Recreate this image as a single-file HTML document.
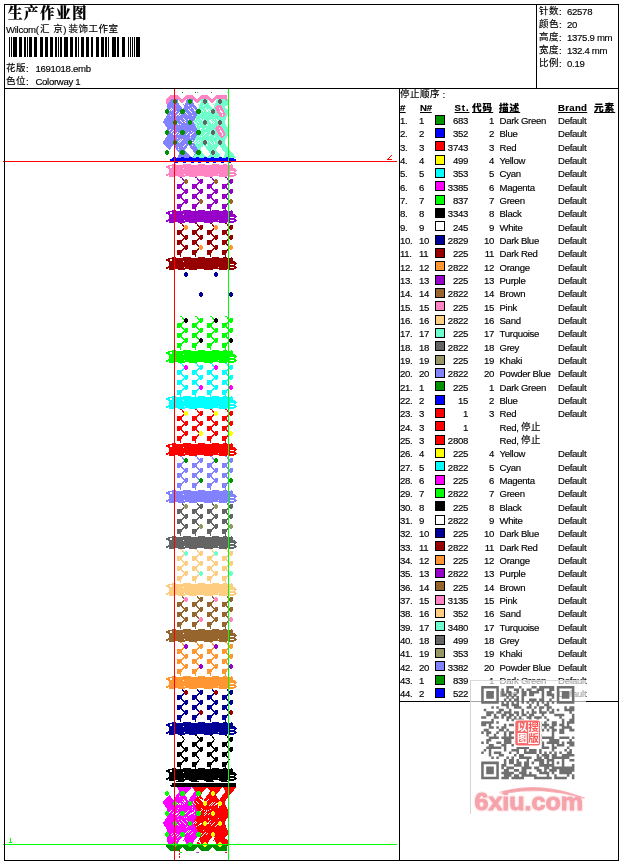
<!DOCTYPE html>
<html lang="zh"><head><meta charset="utf-8"><title>生产作业图</title>
<style>
html,body{margin:0;padding:0;background:#fff;}
body{width:620px;height:861px;position:relative;overflow:hidden;font-family:"Liberation Sans","Noto Sans CJK SC",sans-serif;color:#000;}
.abs{position:absolute;}
.t{position:absolute;white-space:nowrap;font-family:"Liberation Sans","Noto Sans CJK SC",sans-serif;letter-spacing:-0.3px;-webkit-text-stroke:0.15px #000;}
.t u{text-decoration:underline;text-underline-offset:1px;}
.cj{font-family:"Liberation Sans","Noto Sans CJK SC",sans-serif;line-height:0;font-weight:400;}
.ln{position:absolute;background:#000;}
.sw{position:absolute;left:435px;width:8px;height:8px;border:1px solid #000;}
#frame{position:absolute;left:4px;top:4px;width:613px;height:855px;border:1px solid #000;}
</style></head><body>
<svg class="abs" style="left:0;top:0" width="620" height="861" viewBox="0 0 620 861" shape-rendering="crispEdges"><polygon points="169,99 178,99 183,104 187,99 194,99 197,103 199,103 199,158 177,158 168,149 163,143 163,142 166.5,137 166.5,127 163,122.5 163,121.5 166.5,116 166.5,106" fill="#8282ff"/><polygon points="197,99 209,99 213,104 217,99 227,99 228,100 228,105 225,106 225,108 228,110 228,114 225,121 225,123 228,128 228,135 225,141 225,143 228,148 229,149 236.5,158 192.5,158 195.5,154 198.5,150.5 193.5,142.5 198.5,132 193.5,121.5 198.5,111.5 196,104" fill="#6effcd"/><polygon points="177.5,100 181,100 184.5,107.5 182.5,108.5 179,104" fill="#fff"/><polygon points="183,103 186,100 186.5,102 184.5,105" fill="#fff"/><polygon points="192.5,100 196,100 199.5,107.5 197.5,108.5 194,104" fill="#fff"/><polygon points="198,103 201,100 201.5,102 199.5,105" fill="#fff"/><polygon points="207.5,100 211,100 214.5,107.5 212.5,108.5 209,104" fill="#fff"/><polygon points="213,103 216,100 216.5,102 214.5,105" fill="#fff"/><polygon points="173,144.8 179.7,153.8 176.5,158 169.7,150" fill="#fff"/><polygon points="188.3,144.8 195,153.8 191.8,158 185,150" fill="#fff"/><polygon points="203.6,144.8 210.3,153.8 207.1,158 200.3,150" fill="#fff"/><polygon points="219,144.8 225.7,153.8 222.5,158 215.7,150" fill="#fff"/><polygon points="162,150 169.6,150 176.5,158.2 162,158.2" fill="#fff"/><rect x="168" y="111" width="1" height="1" fill="#fff"/><rect x="169" y="110" width="1" height="1" fill="#fff"/><rect x="170" y="109" width="1" height="1" fill="#fff"/><rect x="171" y="108" width="1" height="1" fill="#fff"/><rect x="171" y="110" width="1" height="1" fill="#fff"/><rect x="172" y="109" width="1" height="1" fill="#fff"/><rect x="174" y="113" width="1" height="1" fill="#fff"/><rect x="175" y="112" width="1" height="1" fill="#fff"/><rect x="176" y="111" width="1" height="1" fill="#fff"/><rect x="176" y="115" width="1" height="1" fill="#fff"/><rect x="177" y="114" width="1" height="1" fill="#fff"/><rect x="178" y="113" width="1" height="1" fill="#fff"/><rect x="179" y="112" width="1" height="1" fill="#fff"/><rect x="179" y="115" width="1" height="1" fill="#fff"/><rect x="180" y="114" width="1" height="1" fill="#fff"/><rect x="181" y="113" width="1" height="1" fill="#fff"/><rect x="179" y="112" width="1" height="1" fill="#fff"/><rect x="178" y="114" width="1" height="1" fill="#fff"/><rect x="170" y="115" width="1" height="1" fill="#fff"/><rect x="185" y="112" width="1" height="1" fill="#fff"/><rect x="186" y="113" width="1" height="1" fill="#fff"/><rect x="187" y="114" width="1" height="1" fill="#fff"/><rect x="188" y="109" width="1" height="1" fill="#fff"/><rect x="189" y="110" width="1" height="1" fill="#fff"/><rect x="190" y="111" width="1" height="1" fill="#fff"/><rect x="191" y="112" width="1" height="1" fill="#fff"/><rect x="192" y="107" width="1" height="1" fill="#fff"/><rect x="193" y="108" width="1" height="1" fill="#fff"/><rect x="194" y="109" width="1" height="1" fill="#fff"/><rect x="195" y="110" width="1" height="1" fill="#fff"/><rect x="196" y="106" width="1" height="1" fill="#fff"/><rect x="188" y="105" width="1" height="1" fill="#fff"/><rect x="190" y="108" width="1" height="1" fill="#fff"/><rect x="192" y="115" width="1" height="1" fill="#fff"/><rect x="194" y="110" width="1" height="1" fill="#fff"/><rect x="198" y="111" width="1" height="1" fill="#fff"/><rect x="199" y="112" width="1" height="1" fill="#fff"/><rect x="200" y="113" width="1" height="1" fill="#fff"/><rect x="202" y="110" width="1" height="1" fill="#fff"/><rect x="203" y="111" width="1" height="1" fill="#fff"/><rect x="205" y="108" width="1" height="1" fill="#fff"/><rect x="206" y="109" width="1" height="1" fill="#fff"/><rect x="207" y="110" width="1" height="1" fill="#fff"/><rect x="206" y="110" width="1" height="1" fill="#fff"/><rect x="207" y="111" width="1" height="1" fill="#fff"/><rect x="208" y="109" width="1" height="1" fill="#fff"/><rect x="209" y="110" width="1" height="1" fill="#fff"/><rect x="210" y="111" width="1" height="1" fill="#fff"/><rect x="200" y="111" width="1" height="1" fill="#fff"/><rect x="207" y="111" width="1" height="1" fill="#fff"/><rect x="203" y="105" width="1" height="1" fill="#fff"/><rect x="210" y="105" width="1" height="1" fill="#fff"/><rect x="177" y="123" width="1" height="1" fill="#fff"/><rect x="178" y="124" width="1" height="1" fill="#fff"/><rect x="180" y="120" width="1" height="1" fill="#fff"/><rect x="181" y="121" width="1" height="1" fill="#fff"/><rect x="182" y="122" width="1" height="1" fill="#fff"/><rect x="183" y="118" width="1" height="1" fill="#fff"/><rect x="184" y="119" width="1" height="1" fill="#fff"/><rect x="185" y="120" width="1" height="1" fill="#fff"/><rect x="184" y="121" width="1" height="1" fill="#fff"/><rect x="185" y="122" width="1" height="1" fill="#fff"/><rect x="188" y="119" width="1" height="1" fill="#fff"/><rect x="180" y="124" width="1" height="1" fill="#fff"/><rect x="188" y="119" width="1" height="1" fill="#fff"/><rect x="193" y="121" width="1" height="1" fill="#fff"/><rect x="194" y="122" width="1" height="1" fill="#fff"/><rect x="195" y="123" width="1" height="1" fill="#fff"/><rect x="196" y="124" width="1" height="1" fill="#fff"/><rect x="197" y="121" width="1" height="1" fill="#fff"/><rect x="198" y="122" width="1" height="1" fill="#fff"/><rect x="200" y="118" width="1" height="1" fill="#fff"/><rect x="201" y="119" width="1" height="1" fill="#fff"/><rect x="202" y="120" width="1" height="1" fill="#fff"/><rect x="199" y="125" width="1" height="1" fill="#fff"/><rect x="203" y="121" width="1" height="1" fill="#fff"/><rect x="195" y="119" width="1" height="1" fill="#fff"/><rect x="196" y="126" width="1" height="1" fill="#fff"/><rect x="203" y="119" width="1" height="1" fill="#fff"/><rect x="205" y="123" width="1" height="1" fill="#fff"/><rect x="206" y="124" width="1" height="1" fill="#fff"/><rect x="207" y="125" width="1" height="1" fill="#fff"/><rect x="209" y="120" width="1" height="1" fill="#fff"/><rect x="210" y="121" width="1" height="1" fill="#fff"/><rect x="211" y="122" width="1" height="1" fill="#fff"/><rect x="210" y="120" width="1" height="1" fill="#fff"/><rect x="211" y="121" width="1" height="1" fill="#fff"/><rect x="212" y="122" width="1" height="1" fill="#fff"/><rect x="213" y="123" width="1" height="1" fill="#fff"/><rect x="213" y="121" width="1" height="1" fill="#fff"/><rect x="214" y="122" width="1" height="1" fill="#fff"/><rect x="216" y="119" width="1" height="1" fill="#fff"/><rect x="217" y="120" width="1" height="1" fill="#fff"/><rect x="218" y="121" width="1" height="1" fill="#fff"/><rect x="219" y="122" width="1" height="1" fill="#fff"/><rect x="214" y="119" width="1" height="1" fill="#fff"/><rect x="211" y="119" width="1" height="1" fill="#fff"/><rect x="211" y="123" width="1" height="1" fill="#fff"/><rect x="210" y="120" width="1" height="1" fill="#fff"/><rect x="168" y="131" width="1" height="1" fill="#fff"/><rect x="169" y="130" width="1" height="1" fill="#fff"/><rect x="170" y="129" width="1" height="1" fill="#fff"/><rect x="171" y="132" width="1" height="1" fill="#fff"/><rect x="172" y="131" width="1" height="1" fill="#fff"/><rect x="173" y="130" width="1" height="1" fill="#fff"/><rect x="173" y="133" width="1" height="1" fill="#fff"/><rect x="174" y="132" width="1" height="1" fill="#fff"/><rect x="175" y="134" width="1" height="1" fill="#fff"/><rect x="176" y="133" width="1" height="1" fill="#fff"/><rect x="177" y="132" width="1" height="1" fill="#fff"/><rect x="178" y="134" width="1" height="1" fill="#fff"/><rect x="179" y="133" width="1" height="1" fill="#fff"/><rect x="180" y="132" width="1" height="1" fill="#fff"/><rect x="173" y="134" width="1" height="1" fill="#fff"/><rect x="180" y="131" width="1" height="1" fill="#fff"/><rect x="186" y="134" width="1" height="1" fill="#fff"/><rect x="187" y="133" width="1" height="1" fill="#fff"/><rect x="188" y="132" width="1" height="1" fill="#fff"/><rect x="190" y="135" width="1" height="1" fill="#fff"/><rect x="191" y="134" width="1" height="1" fill="#fff"/><rect x="192" y="133" width="1" height="1" fill="#fff"/><rect x="192" y="133" width="1" height="1" fill="#fff"/><rect x="193" y="132" width="1" height="1" fill="#fff"/><rect x="191" y="131" width="1" height="1" fill="#fff"/><rect x="190" y="137" width="1" height="1" fill="#fff"/><rect x="190" y="134" width="1" height="1" fill="#fff"/><rect x="187" y="133" width="1" height="1" fill="#fff"/><rect x="198" y="131" width="1" height="1" fill="#fff"/><rect x="199" y="130" width="1" height="1" fill="#fff"/><rect x="200" y="129" width="1" height="1" fill="#fff"/><rect x="201" y="128" width="1" height="1" fill="#fff"/><rect x="203" y="135" width="1" height="1" fill="#fff"/><rect x="204" y="134" width="1" height="1" fill="#fff"/><rect x="205" y="133" width="1" height="1" fill="#fff"/><rect x="204" y="134" width="1" height="1" fill="#fff"/><rect x="205" y="133" width="1" height="1" fill="#fff"/><rect x="206" y="132" width="1" height="1" fill="#fff"/><rect x="209" y="135" width="1" height="1" fill="#fff"/><rect x="210" y="134" width="1" height="1" fill="#fff"/><rect x="200" y="128" width="1" height="1" fill="#fff"/><rect x="199" y="136" width="1" height="1" fill="#fff"/><rect x="205" y="128" width="1" height="1" fill="#fff"/><rect x="210" y="131" width="1" height="1" fill="#fff"/><rect x="178" y="141" width="1" height="1" fill="#fff"/><rect x="179" y="140" width="1" height="1" fill="#fff"/><rect x="180" y="139" width="1" height="1" fill="#fff"/><rect x="179" y="142" width="1" height="1" fill="#fff"/><rect x="180" y="141" width="1" height="1" fill="#fff"/><rect x="181" y="140" width="1" height="1" fill="#fff"/><rect x="182" y="139" width="1" height="1" fill="#fff"/><rect x="184" y="145" width="1" height="1" fill="#fff"/><rect x="185" y="144" width="1" height="1" fill="#fff"/><rect x="178" y="149" width="1" height="1" fill="#fff"/><rect x="183" y="146" width="1" height="1" fill="#fff"/><rect x="177" y="138" width="1" height="1" fill="#fff"/><rect x="178" y="147" width="1" height="1" fill="#fff"/><rect x="193" y="142" width="1" height="1" fill="#fff"/><rect x="194" y="141" width="1" height="1" fill="#fff"/><rect x="195" y="140" width="1" height="1" fill="#fff"/><rect x="195" y="143" width="1" height="1" fill="#fff"/><rect x="196" y="142" width="1" height="1" fill="#fff"/><rect x="197" y="141" width="1" height="1" fill="#fff"/><rect x="198" y="140" width="1" height="1" fill="#fff"/><rect x="198" y="143" width="1" height="1" fill="#fff"/><rect x="199" y="142" width="1" height="1" fill="#fff"/><rect x="200" y="141" width="1" height="1" fill="#fff"/><rect x="192" y="140" width="1" height="1" fill="#fff"/><rect x="201" y="147" width="1" height="1" fill="#fff"/><rect x="201" y="136" width="1" height="1" fill="#fff"/><rect x="192" y="142" width="1" height="1" fill="#fff"/><rect x="192" y="145" width="1" height="1" fill="#fff"/><rect x="206" y="144" width="1" height="1" fill="#fff"/><rect x="207" y="145" width="1" height="1" fill="#fff"/><rect x="209" y="141" width="1" height="1" fill="#fff"/><rect x="210" y="142" width="1" height="1" fill="#fff"/><rect x="211" y="143" width="1" height="1" fill="#fff"/><rect x="210" y="142" width="1" height="1" fill="#fff"/><rect x="211" y="143" width="1" height="1" fill="#fff"/><rect x="212" y="144" width="1" height="1" fill="#fff"/><rect x="213" y="141" width="1" height="1" fill="#fff"/><rect x="214" y="142" width="1" height="1" fill="#fff"/><rect x="217" y="140" width="1" height="1" fill="#fff"/><rect x="218" y="141" width="1" height="1" fill="#fff"/><rect x="207" y="141" width="1" height="1" fill="#fff"/><rect x="214" y="143" width="1" height="1" fill="#fff"/><rect x="214" y="136" width="1" height="1" fill="#fff"/><rect x="217.2" y="104.7" width="6.6" height="13" rx="3.2" fill="#ff82c3" transform="rotate(-30 220.5 111.2)"/><rect x="219" y="108.2" width="1" height="1" fill="#fff"/><rect x="220" y="110.7" width="1" height="1" fill="#fff"/><rect x="220" y="109.6" width="1" height="1" fill="#fff"/><rect x="220.8" y="112.1" width="1" height="1" fill="#fff"/><rect x="221" y="111" width="1" height="1" fill="#fff"/><rect x="221.6" y="113.5" width="1" height="1" fill="#fff"/><rect x="222" y="112.4" width="1" height="1" fill="#fff"/><rect x="222.4" y="114.9" width="1" height="1" fill="#fff"/><rect x="217.2" y="124.9" width="6.6" height="13" rx="3.2" fill="#ff82c3" transform="rotate(-30 220.5 131.4)"/><rect x="219" y="128.4" width="1" height="1" fill="#fff"/><rect x="220" y="130.9" width="1" height="1" fill="#fff"/><rect x="220" y="129.8" width="1" height="1" fill="#fff"/><rect x="220.8" y="132.3" width="1" height="1" fill="#fff"/><rect x="221" y="131.2" width="1" height="1" fill="#fff"/><rect x="221.6" y="133.7" width="1" height="1" fill="#fff"/><rect x="222" y="132.6" width="1" height="1" fill="#fff"/><rect x="222.4" y="135.1" width="1" height="1" fill="#fff"/><polygon points="166,103.5 166,99 170,95 177.5,95 182,99.5 186.5,95 192.5,95 197,99.5 201.5,95 207.5,95 212,99.5 216.5,95 226,95 227,96 227,101.5 225,99.3 216.5,99.3 212,104 207.5,99.3 201.5,99.3 197,104 192.5,99.3 186.5,99.3 182,104 177.5,99.3 171.5,99.3 168,103.5" fill="#ff82c3"/><rect x="174" y="99" width="2" height="1" fill="#009100"/><rect x="173" y="100" width="4" height="1" fill="#009100"/><rect x="173" y="101" width="4" height="1" fill="#009100"/><rect x="173" y="102" width="4" height="1" fill="#009100"/><rect x="174" y="103" width="2" height="1" fill="#009100"/><rect x="189" y="99" width="2" height="1" fill="#009100"/><rect x="188" y="100" width="4" height="1" fill="#009100"/><rect x="188" y="101" width="4" height="1" fill="#009100"/><rect x="188" y="102" width="4" height="1" fill="#009100"/><rect x="189" y="103" width="2" height="1" fill="#009100"/><rect x="204" y="99" width="2" height="1" fill="#646464"/><rect x="203" y="100" width="4" height="1" fill="#646464"/><rect x="203" y="101" width="4" height="1" fill="#646464"/><rect x="203" y="102" width="4" height="1" fill="#646464"/><rect x="204" y="103" width="2" height="1" fill="#646464"/><rect x="219" y="99" width="2" height="1" fill="#646464"/><rect x="218" y="100" width="4" height="1" fill="#646464"/><rect x="218" y="101" width="4" height="1" fill="#646464"/><rect x="218" y="102" width="4" height="1" fill="#646464"/><rect x="219" y="103" width="2" height="1" fill="#646464"/><rect x="166" y="109" width="2" height="1" fill="#009100"/><rect x="165" y="110" width="4" height="1" fill="#009100"/><rect x="165" y="111" width="4" height="1" fill="#009100"/><rect x="165" y="112" width="4" height="1" fill="#009100"/><rect x="166" y="113" width="2" height="1" fill="#009100"/><rect x="181" y="109" width="3" height="1" fill="#009100"/><rect x="180" y="110" width="5" height="1" fill="#009100"/><rect x="180" y="111" width="5" height="1" fill="#009100"/><rect x="180" y="112" width="5" height="1" fill="#009100"/><rect x="181" y="113" width="3" height="1" fill="#009100"/><rect x="197" y="109" width="3" height="1" fill="#009100"/><rect x="196" y="110" width="5" height="1" fill="#009100"/><rect x="196" y="111" width="5" height="1" fill="#009100"/><rect x="196" y="112" width="5" height="1" fill="#009100"/><rect x="197" y="113" width="3" height="1" fill="#009100"/><rect x="212" y="109" width="2" height="1" fill="#646464"/><rect x="211" y="110" width="4" height="1" fill="#646464"/><rect x="211" y="111" width="4" height="1" fill="#646464"/><rect x="211" y="112" width="4" height="1" fill="#646464"/><rect x="212" y="113" width="2" height="1" fill="#646464"/><rect x="174" y="120" width="2" height="1" fill="#009100"/><rect x="173" y="121" width="4" height="1" fill="#009100"/><rect x="173" y="122" width="4" height="1" fill="#009100"/><rect x="173" y="123" width="4" height="1" fill="#009100"/><rect x="174" y="124" width="2" height="1" fill="#009100"/><rect x="189" y="120" width="2" height="1" fill="#009100"/><rect x="188" y="121" width="4" height="1" fill="#009100"/><rect x="188" y="122" width="4" height="1" fill="#009100"/><rect x="188" y="123" width="4" height="1" fill="#009100"/><rect x="189" y="124" width="2" height="1" fill="#009100"/><rect x="204" y="120" width="2" height="1" fill="#646464"/><rect x="203" y="121" width="4" height="1" fill="#646464"/><rect x="203" y="122" width="4" height="1" fill="#646464"/><rect x="203" y="123" width="4" height="1" fill="#646464"/><rect x="204" y="124" width="2" height="1" fill="#646464"/><rect x="219" y="120" width="2" height="1" fill="#646464"/><rect x="218" y="121" width="4" height="1" fill="#646464"/><rect x="218" y="122" width="4" height="1" fill="#646464"/><rect x="218" y="123" width="4" height="1" fill="#646464"/><rect x="219" y="124" width="2" height="1" fill="#646464"/><rect x="166" y="130" width="2" height="1" fill="#009100"/><rect x="165" y="131" width="4" height="1" fill="#009100"/><rect x="165" y="132" width="4" height="1" fill="#009100"/><rect x="165" y="133" width="4" height="1" fill="#009100"/><rect x="166" y="134" width="2" height="1" fill="#009100"/><rect x="181" y="130" width="3" height="1" fill="#009100"/><rect x="180" y="131" width="5" height="1" fill="#009100"/><rect x="180" y="132" width="5" height="1" fill="#009100"/><rect x="180" y="133" width="5" height="1" fill="#009100"/><rect x="181" y="134" width="3" height="1" fill="#009100"/><rect x="197" y="130" width="3" height="1" fill="#009100"/><rect x="196" y="131" width="5" height="1" fill="#009100"/><rect x="196" y="132" width="5" height="1" fill="#009100"/><rect x="196" y="133" width="5" height="1" fill="#009100"/><rect x="197" y="134" width="3" height="1" fill="#009100"/><rect x="212" y="130" width="2" height="1" fill="#646464"/><rect x="211" y="131" width="4" height="1" fill="#646464"/><rect x="211" y="132" width="4" height="1" fill="#646464"/><rect x="211" y="133" width="4" height="1" fill="#646464"/><rect x="212" y="134" width="2" height="1" fill="#646464"/><rect x="174" y="140" width="2" height="1" fill="#009100"/><rect x="173" y="141" width="4" height="1" fill="#009100"/><rect x="173" y="142" width="4" height="1" fill="#009100"/><rect x="173" y="143" width="4" height="1" fill="#009100"/><rect x="174" y="144" width="2" height="1" fill="#009100"/><rect x="189" y="140" width="2" height="1" fill="#009100"/><rect x="188" y="141" width="4" height="1" fill="#009100"/><rect x="188" y="142" width="4" height="1" fill="#009100"/><rect x="188" y="143" width="4" height="1" fill="#009100"/><rect x="189" y="144" width="2" height="1" fill="#009100"/><rect x="204" y="140" width="2" height="1" fill="#646464"/><rect x="203" y="141" width="4" height="1" fill="#646464"/><rect x="203" y="142" width="4" height="1" fill="#646464"/><rect x="203" y="143" width="4" height="1" fill="#646464"/><rect x="204" y="144" width="2" height="1" fill="#646464"/><rect x="219" y="140" width="2" height="1" fill="#646464"/><rect x="218" y="141" width="4" height="1" fill="#646464"/><rect x="218" y="142" width="4" height="1" fill="#646464"/><rect x="218" y="143" width="4" height="1" fill="#646464"/><rect x="219" y="144" width="2" height="1" fill="#646464"/><rect x="166" y="150" width="2" height="1" fill="#009100"/><rect x="165" y="151" width="4" height="1" fill="#009100"/><rect x="165" y="152" width="4" height="1" fill="#009100"/><rect x="165" y="153" width="4" height="1" fill="#009100"/><rect x="166" y="154" width="2" height="1" fill="#009100"/><rect x="181" y="150" width="3" height="1" fill="#009100"/><rect x="180" y="151" width="5" height="1" fill="#009100"/><rect x="180" y="152" width="5" height="1" fill="#009100"/><rect x="180" y="153" width="5" height="1" fill="#009100"/><rect x="181" y="154" width="3" height="1" fill="#009100"/><rect x="197" y="150" width="3" height="1" fill="#009100"/><rect x="196" y="151" width="5" height="1" fill="#009100"/><rect x="196" y="152" width="5" height="1" fill="#009100"/><rect x="196" y="153" width="5" height="1" fill="#009100"/><rect x="197" y="154" width="3" height="1" fill="#009100"/><rect x="212" y="150" width="2" height="1" fill="#646464"/><rect x="211" y="151" width="4" height="1" fill="#646464"/><rect x="211" y="152" width="4" height="1" fill="#646464"/><rect x="211" y="153" width="4" height="1" fill="#646464"/><rect x="212" y="154" width="2" height="1" fill="#646464"/><rect x="170" y="159" width="66" height="2" fill="#0000ff"/><rect x="172" y="158" width="62" height="1" fill="#0000ff"/><rect x="173" y="157" width="3" height="1" fill="#0000ff"/><rect x="175" y="162" width="3" height="1" fill="#0000ff"/><rect x="181" y="157" width="3" height="1" fill="#0000ff"/><rect x="183" y="162" width="3" height="1" fill="#0000ff"/><rect x="189" y="157" width="3" height="1" fill="#0000ff"/><rect x="191" y="162" width="3" height="1" fill="#0000ff"/><rect x="196" y="157" width="3" height="1" fill="#0000ff"/><rect x="198" y="162" width="3" height="1" fill="#0000ff"/><rect x="204" y="157" width="3" height="1" fill="#0000ff"/><rect x="206" y="162" width="3" height="1" fill="#0000ff"/><rect x="211" y="157" width="3" height="1" fill="#0000ff"/><rect x="213" y="162" width="3" height="1" fill="#0000ff"/><rect x="219" y="157" width="3" height="1" fill="#0000ff"/><rect x="221" y="162" width="3" height="1" fill="#0000ff"/><rect x="226" y="157" width="3" height="1" fill="#0000ff"/><rect x="228" y="162" width="3" height="1" fill="#0000ff"/><rect x="182" y="92" width="1" height="1" fill="#009100"/><rect x="195" y="92" width="1" height="1" fill="#009100"/><rect x="197" y="92" width="1" height="1" fill="#8282ff"/><rect x="211" y="92" width="1" height="1" fill="#646464"/><rect x="227" y="92" width="1" height="1" fill="#6effcd"/><polyline points="179.5,177.5 181.5,177.5 184.5,181.5 180.5,186.5 184.5,191.5 180.5,196.5 184.5,201.5 180.5,206.5 180.5,209 180.5,210.5" fill="none" stroke="#9600c8" stroke-width="1"/><rect x="185" y="179" width="2" height="1" fill="#96642d"/><rect x="184" y="180" width="4" height="1" fill="#96642d"/><rect x="184" y="181" width="4" height="1" fill="#96642d"/><rect x="184" y="182" width="4" height="1" fill="#96642d"/><rect x="185" y="183" width="2" height="1" fill="#96642d"/><rect x="177" y="184" width="4" height="1" fill="#9600c8"/><rect x="177" y="185" width="4" height="1" fill="#9600c8"/><rect x="177" y="186" width="5" height="1" fill="#9600c8"/><rect x="177" y="187" width="4" height="1" fill="#9600c8"/><rect x="177" y="188" width="3" height="1" fill="#9600c8"/><rect x="185" y="189" width="3" height="1" fill="#9600c8"/><rect x="184" y="190" width="4" height="1" fill="#9600c8"/><rect x="184" y="191" width="4" height="1" fill="#9600c8"/><rect x="184" y="192" width="4" height="1" fill="#9600c8"/><rect x="185" y="193" width="2" height="1" fill="#9600c8"/><rect x="177" y="194" width="4" height="1" fill="#9600c8"/><rect x="177" y="195" width="4" height="1" fill="#9600c8"/><rect x="177" y="196" width="5" height="1" fill="#9600c8"/><rect x="177" y="197" width="4" height="1" fill="#9600c8"/><rect x="177" y="198" width="3" height="1" fill="#9600c8"/><rect x="185" y="199" width="3" height="1" fill="#9600c8"/><rect x="184" y="200" width="4" height="1" fill="#9600c8"/><rect x="184" y="201" width="4" height="1" fill="#9600c8"/><rect x="184" y="202" width="4" height="1" fill="#9600c8"/><rect x="185" y="203" width="2" height="1" fill="#9600c8"/><rect x="177" y="204" width="4" height="1" fill="#9600c8"/><rect x="177" y="205" width="4" height="1" fill="#9600c8"/><rect x="177" y="206" width="5" height="1" fill="#9600c8"/><rect x="177" y="207" width="4" height="1" fill="#9600c8"/><rect x="177" y="208" width="3" height="1" fill="#9600c8"/><polyline points="194.5,177.5 196.5,177.5 199.5,181.5 195.5,186.5 199.5,191.5 195.5,196.5 199.5,201.5 195.5,206.5 195.5,209 195.5,210.5" fill="none" stroke="#9600c8" stroke-width="1"/><rect x="200" y="179" width="3" height="1" fill="#9600c8"/><rect x="199" y="180" width="4" height="1" fill="#9600c8"/><rect x="199" y="181" width="4" height="1" fill="#9600c8"/><rect x="199" y="182" width="4" height="1" fill="#9600c8"/><rect x="200" y="183" width="2" height="1" fill="#9600c8"/><rect x="192" y="184" width="4" height="1" fill="#9600c8"/><rect x="192" y="185" width="4" height="1" fill="#9600c8"/><rect x="192" y="186" width="5" height="1" fill="#9600c8"/><rect x="192" y="187" width="4" height="1" fill="#9600c8"/><rect x="192" y="188" width="3" height="1" fill="#9600c8"/><rect x="200" y="189" width="3" height="1" fill="#9600c8"/><rect x="199" y="190" width="4" height="1" fill="#9600c8"/><rect x="199" y="191" width="4" height="1" fill="#9600c8"/><rect x="199" y="192" width="4" height="1" fill="#9600c8"/><rect x="200" y="193" width="2" height="1" fill="#9600c8"/><rect x="192" y="194" width="4" height="1" fill="#9600c8"/><rect x="192" y="195" width="4" height="1" fill="#9600c8"/><rect x="192" y="196" width="5" height="1" fill="#9600c8"/><rect x="192" y="197" width="4" height="1" fill="#9600c8"/><rect x="192" y="198" width="3" height="1" fill="#9600c8"/><rect x="200" y="199" width="2" height="1" fill="#96642d"/><rect x="199" y="200" width="4" height="1" fill="#96642d"/><rect x="199" y="201" width="4" height="1" fill="#96642d"/><rect x="199" y="202" width="4" height="1" fill="#96642d"/><rect x="200" y="203" width="2" height="1" fill="#96642d"/><rect x="192" y="204" width="4" height="1" fill="#9600c8"/><rect x="192" y="205" width="4" height="1" fill="#9600c8"/><rect x="192" y="206" width="5" height="1" fill="#9600c8"/><rect x="192" y="207" width="4" height="1" fill="#9600c8"/><rect x="192" y="208" width="3" height="1" fill="#9600c8"/><polyline points="209.5,177.5 211.5,177.5 214.5,181.5 210.5,186.5 214.5,191.5 210.5,196.5 214.5,201.5 210.5,206.5 210.5,209 210.5,210.5" fill="none" stroke="#9600c8" stroke-width="1"/><rect x="215" y="179" width="2" height="1" fill="#96642d"/><rect x="214" y="180" width="4" height="1" fill="#96642d"/><rect x="214" y="181" width="4" height="1" fill="#96642d"/><rect x="214" y="182" width="4" height="1" fill="#96642d"/><rect x="215" y="183" width="2" height="1" fill="#96642d"/><rect x="207" y="184" width="4" height="1" fill="#9600c8"/><rect x="207" y="185" width="4" height="1" fill="#9600c8"/><rect x="207" y="186" width="5" height="1" fill="#9600c8"/><rect x="207" y="187" width="4" height="1" fill="#9600c8"/><rect x="207" y="188" width="3" height="1" fill="#9600c8"/><rect x="215" y="189" width="3" height="1" fill="#9600c8"/><rect x="214" y="190" width="4" height="1" fill="#9600c8"/><rect x="214" y="191" width="4" height="1" fill="#9600c8"/><rect x="214" y="192" width="4" height="1" fill="#9600c8"/><rect x="215" y="193" width="2" height="1" fill="#9600c8"/><rect x="207" y="194" width="4" height="1" fill="#9600c8"/><rect x="207" y="195" width="4" height="1" fill="#9600c8"/><rect x="207" y="196" width="5" height="1" fill="#9600c8"/><rect x="207" y="197" width="4" height="1" fill="#9600c8"/><rect x="207" y="198" width="3" height="1" fill="#9600c8"/><rect x="215" y="199" width="3" height="1" fill="#9600c8"/><rect x="214" y="200" width="4" height="1" fill="#9600c8"/><rect x="214" y="201" width="4" height="1" fill="#9600c8"/><rect x="214" y="202" width="4" height="1" fill="#9600c8"/><rect x="215" y="203" width="2" height="1" fill="#9600c8"/><rect x="207" y="204" width="4" height="1" fill="#9600c8"/><rect x="207" y="205" width="4" height="1" fill="#9600c8"/><rect x="207" y="206" width="5" height="1" fill="#9600c8"/><rect x="207" y="207" width="4" height="1" fill="#9600c8"/><rect x="207" y="208" width="3" height="1" fill="#9600c8"/><polyline points="224.5,177.5 226.5,177.5 229.5,181.5 225.5,186.5 229.5,191.5 225.5,196.5 229.5,201.5 225.5,206.5 225.5,209 225.5,210.5" fill="none" stroke="#9600c8" stroke-width="1"/><rect x="230" y="179" width="3" height="1" fill="#9600c8"/><rect x="229" y="180" width="4" height="1" fill="#9600c8"/><rect x="229" y="181" width="4" height="1" fill="#9600c8"/><rect x="229" y="182" width="4" height="1" fill="#9600c8"/><rect x="230" y="183" width="2" height="1" fill="#9600c8"/><rect x="222" y="184" width="4" height="1" fill="#9600c8"/><rect x="222" y="185" width="4" height="1" fill="#9600c8"/><rect x="222" y="186" width="5" height="1" fill="#9600c8"/><rect x="222" y="187" width="4" height="1" fill="#9600c8"/><rect x="222" y="188" width="3" height="1" fill="#9600c8"/><rect x="230" y="189" width="3" height="1" fill="#9600c8"/><rect x="229" y="190" width="4" height="1" fill="#9600c8"/><rect x="229" y="191" width="4" height="1" fill="#9600c8"/><rect x="229" y="192" width="4" height="1" fill="#9600c8"/><rect x="230" y="193" width="2" height="1" fill="#9600c8"/><rect x="222" y="194" width="4" height="1" fill="#9600c8"/><rect x="222" y="195" width="4" height="1" fill="#9600c8"/><rect x="222" y="196" width="5" height="1" fill="#9600c8"/><rect x="222" y="197" width="4" height="1" fill="#9600c8"/><rect x="222" y="198" width="3" height="1" fill="#9600c8"/><rect x="230" y="199" width="2" height="1" fill="#96642d"/><rect x="229" y="200" width="4" height="1" fill="#96642d"/><rect x="229" y="201" width="4" height="1" fill="#96642d"/><rect x="229" y="202" width="4" height="1" fill="#96642d"/><rect x="230" y="203" width="2" height="1" fill="#96642d"/><rect x="222" y="204" width="4" height="1" fill="#9600c8"/><rect x="222" y="205" width="4" height="1" fill="#9600c8"/><rect x="222" y="206" width="5" height="1" fill="#9600c8"/><rect x="222" y="207" width="4" height="1" fill="#9600c8"/><rect x="222" y="208" width="3" height="1" fill="#9600c8"/><polyline points="179.5,223.5 181.5,223.5 184.5,227.5 180.5,232.5 184.5,237.5 180.5,242.5 184.5,247.5 180.5,252.5 180.5,255 180.5,256.5" fill="none" stroke="#960000" stroke-width="1"/><rect x="185" y="225" width="2" height="1" fill="#ff9632"/><rect x="184" y="226" width="4" height="1" fill="#ff9632"/><rect x="184" y="227" width="4" height="1" fill="#ff9632"/><rect x="184" y="228" width="4" height="1" fill="#ff9632"/><rect x="185" y="229" width="2" height="1" fill="#ff9632"/><rect x="177" y="230" width="4" height="1" fill="#960000"/><rect x="177" y="231" width="4" height="1" fill="#960000"/><rect x="177" y="232" width="5" height="1" fill="#960000"/><rect x="177" y="233" width="4" height="1" fill="#960000"/><rect x="177" y="234" width="3" height="1" fill="#960000"/><rect x="185" y="235" width="3" height="1" fill="#960000"/><rect x="184" y="236" width="4" height="1" fill="#960000"/><rect x="184" y="237" width="4" height="1" fill="#960000"/><rect x="184" y="238" width="4" height="1" fill="#960000"/><rect x="185" y="239" width="2" height="1" fill="#960000"/><rect x="177" y="240" width="4" height="1" fill="#960000"/><rect x="177" y="241" width="4" height="1" fill="#960000"/><rect x="177" y="242" width="5" height="1" fill="#960000"/><rect x="177" y="243" width="4" height="1" fill="#960000"/><rect x="177" y="244" width="3" height="1" fill="#960000"/><rect x="185" y="245" width="3" height="1" fill="#960000"/><rect x="184" y="246" width="4" height="1" fill="#960000"/><rect x="184" y="247" width="4" height="1" fill="#960000"/><rect x="184" y="248" width="4" height="1" fill="#960000"/><rect x="185" y="249" width="2" height="1" fill="#960000"/><rect x="177" y="250" width="4" height="1" fill="#960000"/><rect x="177" y="251" width="4" height="1" fill="#960000"/><rect x="177" y="252" width="5" height="1" fill="#960000"/><rect x="177" y="253" width="4" height="1" fill="#960000"/><rect x="177" y="254" width="3" height="1" fill="#960000"/><polyline points="194.5,223.5 196.5,223.5 199.5,227.5 195.5,232.5 199.5,237.5 195.5,242.5 199.5,247.5 195.5,252.5 195.5,255 195.5,256.5" fill="none" stroke="#960000" stroke-width="1"/><rect x="200" y="225" width="3" height="1" fill="#960000"/><rect x="199" y="226" width="4" height="1" fill="#960000"/><rect x="199" y="227" width="4" height="1" fill="#960000"/><rect x="199" y="228" width="4" height="1" fill="#960000"/><rect x="200" y="229" width="2" height="1" fill="#960000"/><rect x="192" y="230" width="4" height="1" fill="#960000"/><rect x="192" y="231" width="4" height="1" fill="#960000"/><rect x="192" y="232" width="5" height="1" fill="#960000"/><rect x="192" y="233" width="4" height="1" fill="#960000"/><rect x="192" y="234" width="3" height="1" fill="#960000"/><rect x="200" y="235" width="3" height="1" fill="#960000"/><rect x="199" y="236" width="4" height="1" fill="#960000"/><rect x="199" y="237" width="4" height="1" fill="#960000"/><rect x="199" y="238" width="4" height="1" fill="#960000"/><rect x="200" y="239" width="2" height="1" fill="#960000"/><rect x="192" y="240" width="4" height="1" fill="#960000"/><rect x="192" y="241" width="4" height="1" fill="#960000"/><rect x="192" y="242" width="5" height="1" fill="#960000"/><rect x="192" y="243" width="4" height="1" fill="#960000"/><rect x="192" y="244" width="3" height="1" fill="#960000"/><rect x="200" y="245" width="2" height="1" fill="#ff9632"/><rect x="199" y="246" width="4" height="1" fill="#ff9632"/><rect x="199" y="247" width="4" height="1" fill="#ff9632"/><rect x="199" y="248" width="4" height="1" fill="#ff9632"/><rect x="200" y="249" width="2" height="1" fill="#ff9632"/><rect x="192" y="250" width="4" height="1" fill="#960000"/><rect x="192" y="251" width="4" height="1" fill="#960000"/><rect x="192" y="252" width="5" height="1" fill="#960000"/><rect x="192" y="253" width="4" height="1" fill="#960000"/><rect x="192" y="254" width="3" height="1" fill="#960000"/><polyline points="209.5,223.5 211.5,223.5 214.5,227.5 210.5,232.5 214.5,237.5 210.5,242.5 214.5,247.5 210.5,252.5 210.5,255 210.5,256.5" fill="none" stroke="#960000" stroke-width="1"/><rect x="215" y="225" width="2" height="1" fill="#ff9632"/><rect x="214" y="226" width="4" height="1" fill="#ff9632"/><rect x="214" y="227" width="4" height="1" fill="#ff9632"/><rect x="214" y="228" width="4" height="1" fill="#ff9632"/><rect x="215" y="229" width="2" height="1" fill="#ff9632"/><rect x="207" y="230" width="4" height="1" fill="#960000"/><rect x="207" y="231" width="4" height="1" fill="#960000"/><rect x="207" y="232" width="5" height="1" fill="#960000"/><rect x="207" y="233" width="4" height="1" fill="#960000"/><rect x="207" y="234" width="3" height="1" fill="#960000"/><rect x="215" y="235" width="3" height="1" fill="#960000"/><rect x="214" y="236" width="4" height="1" fill="#960000"/><rect x="214" y="237" width="4" height="1" fill="#960000"/><rect x="214" y="238" width="4" height="1" fill="#960000"/><rect x="215" y="239" width="2" height="1" fill="#960000"/><rect x="207" y="240" width="4" height="1" fill="#960000"/><rect x="207" y="241" width="4" height="1" fill="#960000"/><rect x="207" y="242" width="5" height="1" fill="#960000"/><rect x="207" y="243" width="4" height="1" fill="#960000"/><rect x="207" y="244" width="3" height="1" fill="#960000"/><rect x="215" y="245" width="3" height="1" fill="#960000"/><rect x="214" y="246" width="4" height="1" fill="#960000"/><rect x="214" y="247" width="4" height="1" fill="#960000"/><rect x="214" y="248" width="4" height="1" fill="#960000"/><rect x="215" y="249" width="2" height="1" fill="#960000"/><rect x="207" y="250" width="4" height="1" fill="#960000"/><rect x="207" y="251" width="4" height="1" fill="#960000"/><rect x="207" y="252" width="5" height="1" fill="#960000"/><rect x="207" y="253" width="4" height="1" fill="#960000"/><rect x="207" y="254" width="3" height="1" fill="#960000"/><polyline points="224.5,223.5 226.5,223.5 229.5,227.5 225.5,232.5 229.5,237.5 225.5,242.5 229.5,247.5 225.5,252.5 225.5,255 225.5,256.5" fill="none" stroke="#960000" stroke-width="1"/><rect x="230" y="225" width="3" height="1" fill="#960000"/><rect x="229" y="226" width="4" height="1" fill="#960000"/><rect x="229" y="227" width="4" height="1" fill="#960000"/><rect x="229" y="228" width="4" height="1" fill="#960000"/><rect x="230" y="229" width="2" height="1" fill="#960000"/><rect x="222" y="230" width="4" height="1" fill="#960000"/><rect x="222" y="231" width="4" height="1" fill="#960000"/><rect x="222" y="232" width="5" height="1" fill="#960000"/><rect x="222" y="233" width="4" height="1" fill="#960000"/><rect x="222" y="234" width="3" height="1" fill="#960000"/><rect x="230" y="235" width="3" height="1" fill="#960000"/><rect x="229" y="236" width="4" height="1" fill="#960000"/><rect x="229" y="237" width="4" height="1" fill="#960000"/><rect x="229" y="238" width="4" height="1" fill="#960000"/><rect x="230" y="239" width="2" height="1" fill="#960000"/><rect x="222" y="240" width="4" height="1" fill="#960000"/><rect x="222" y="241" width="4" height="1" fill="#960000"/><rect x="222" y="242" width="5" height="1" fill="#960000"/><rect x="222" y="243" width="4" height="1" fill="#960000"/><rect x="222" y="244" width="3" height="1" fill="#960000"/><rect x="230" y="245" width="2" height="1" fill="#ff9632"/><rect x="229" y="246" width="4" height="1" fill="#ff9632"/><rect x="229" y="247" width="4" height="1" fill="#ff9632"/><rect x="229" y="248" width="4" height="1" fill="#ff9632"/><rect x="230" y="249" width="2" height="1" fill="#ff9632"/><rect x="222" y="250" width="4" height="1" fill="#960000"/><rect x="222" y="251" width="4" height="1" fill="#960000"/><rect x="222" y="252" width="5" height="1" fill="#960000"/><rect x="222" y="253" width="4" height="1" fill="#960000"/><rect x="222" y="254" width="3" height="1" fill="#960000"/><rect x="185" y="272" width="2" height="1" fill="#000096"/><rect x="184" y="273" width="4" height="1" fill="#000096"/><rect x="184" y="274" width="4" height="1" fill="#000096"/><rect x="184" y="275" width="4" height="1" fill="#000096"/><rect x="185" y="276" width="2" height="1" fill="#000096"/><rect x="200" y="292" width="2" height="1" fill="#000096"/><rect x="199" y="293" width="4" height="1" fill="#000096"/><rect x="199" y="294" width="4" height="1" fill="#000096"/><rect x="199" y="295" width="4" height="1" fill="#000096"/><rect x="200" y="296" width="2" height="1" fill="#000096"/><rect x="215" y="272" width="2" height="1" fill="#000096"/><rect x="214" y="273" width="4" height="1" fill="#000096"/><rect x="214" y="274" width="4" height="1" fill="#000096"/><rect x="214" y="275" width="4" height="1" fill="#000096"/><rect x="215" y="276" width="2" height="1" fill="#000096"/><rect x="230" y="292" width="2" height="1" fill="#000096"/><rect x="229" y="293" width="4" height="1" fill="#000096"/><rect x="229" y="294" width="4" height="1" fill="#000096"/><rect x="229" y="295" width="4" height="1" fill="#000096"/><rect x="230" y="296" width="2" height="1" fill="#000096"/><polyline points="179.5,316.5 181.5,316.5 184.5,320.5 180.5,325.5 184.5,330.5 180.5,335.5 184.5,340.5 180.5,345.5 180.5,348 180.5,349.5" fill="none" stroke="#00ff00" stroke-width="1"/><rect x="185" y="318" width="2" height="1" fill="#000000"/><rect x="184" y="319" width="4" height="1" fill="#000000"/><rect x="184" y="320" width="4" height="1" fill="#000000"/><rect x="184" y="321" width="4" height="1" fill="#000000"/><rect x="185" y="322" width="2" height="1" fill="#000000"/><rect x="177" y="323" width="4" height="1" fill="#00ff00"/><rect x="177" y="324" width="4" height="1" fill="#00ff00"/><rect x="177" y="325" width="5" height="1" fill="#00ff00"/><rect x="177" y="326" width="4" height="1" fill="#00ff00"/><rect x="177" y="327" width="3" height="1" fill="#00ff00"/><rect x="185" y="328" width="3" height="1" fill="#00ff00"/><rect x="184" y="329" width="4" height="1" fill="#00ff00"/><rect x="184" y="330" width="4" height="1" fill="#00ff00"/><rect x="184" y="331" width="4" height="1" fill="#00ff00"/><rect x="185" y="332" width="2" height="1" fill="#00ff00"/><rect x="177" y="333" width="4" height="1" fill="#00ff00"/><rect x="177" y="334" width="4" height="1" fill="#00ff00"/><rect x="177" y="335" width="5" height="1" fill="#00ff00"/><rect x="177" y="336" width="4" height="1" fill="#00ff00"/><rect x="177" y="337" width="3" height="1" fill="#00ff00"/><rect x="185" y="338" width="3" height="1" fill="#00ff00"/><rect x="184" y="339" width="4" height="1" fill="#00ff00"/><rect x="184" y="340" width="4" height="1" fill="#00ff00"/><rect x="184" y="341" width="4" height="1" fill="#00ff00"/><rect x="185" y="342" width="2" height="1" fill="#00ff00"/><rect x="177" y="343" width="4" height="1" fill="#00ff00"/><rect x="177" y="344" width="4" height="1" fill="#00ff00"/><rect x="177" y="345" width="5" height="1" fill="#00ff00"/><rect x="177" y="346" width="4" height="1" fill="#00ff00"/><rect x="177" y="347" width="3" height="1" fill="#00ff00"/><polyline points="194.5,316.5 196.5,316.5 199.5,320.5 195.5,325.5 199.5,330.5 195.5,335.5 199.5,340.5 195.5,345.5 195.5,348 195.5,349.5" fill="none" stroke="#00ff00" stroke-width="1"/><rect x="200" y="318" width="3" height="1" fill="#00ff00"/><rect x="199" y="319" width="4" height="1" fill="#00ff00"/><rect x="199" y="320" width="4" height="1" fill="#00ff00"/><rect x="199" y="321" width="4" height="1" fill="#00ff00"/><rect x="200" y="322" width="2" height="1" fill="#00ff00"/><rect x="192" y="323" width="4" height="1" fill="#00ff00"/><rect x="192" y="324" width="4" height="1" fill="#00ff00"/><rect x="192" y="325" width="5" height="1" fill="#00ff00"/><rect x="192" y="326" width="4" height="1" fill="#00ff00"/><rect x="192" y="327" width="3" height="1" fill="#00ff00"/><rect x="200" y="328" width="3" height="1" fill="#00ff00"/><rect x="199" y="329" width="4" height="1" fill="#00ff00"/><rect x="199" y="330" width="4" height="1" fill="#00ff00"/><rect x="199" y="331" width="4" height="1" fill="#00ff00"/><rect x="200" y="332" width="2" height="1" fill="#00ff00"/><rect x="192" y="333" width="4" height="1" fill="#00ff00"/><rect x="192" y="334" width="4" height="1" fill="#00ff00"/><rect x="192" y="335" width="5" height="1" fill="#00ff00"/><rect x="192" y="336" width="4" height="1" fill="#00ff00"/><rect x="192" y="337" width="3" height="1" fill="#00ff00"/><rect x="200" y="338" width="2" height="1" fill="#000000"/><rect x="199" y="339" width="4" height="1" fill="#000000"/><rect x="199" y="340" width="4" height="1" fill="#000000"/><rect x="199" y="341" width="4" height="1" fill="#000000"/><rect x="200" y="342" width="2" height="1" fill="#000000"/><rect x="192" y="343" width="4" height="1" fill="#00ff00"/><rect x="192" y="344" width="4" height="1" fill="#00ff00"/><rect x="192" y="345" width="5" height="1" fill="#00ff00"/><rect x="192" y="346" width="4" height="1" fill="#00ff00"/><rect x="192" y="347" width="3" height="1" fill="#00ff00"/><polyline points="209.5,316.5 211.5,316.5 214.5,320.5 210.5,325.5 214.5,330.5 210.5,335.5 214.5,340.5 210.5,345.5 210.5,348 210.5,349.5" fill="none" stroke="#00ff00" stroke-width="1"/><rect x="215" y="318" width="2" height="1" fill="#000000"/><rect x="214" y="319" width="4" height="1" fill="#000000"/><rect x="214" y="320" width="4" height="1" fill="#000000"/><rect x="214" y="321" width="4" height="1" fill="#000000"/><rect x="215" y="322" width="2" height="1" fill="#000000"/><rect x="207" y="323" width="4" height="1" fill="#00ff00"/><rect x="207" y="324" width="4" height="1" fill="#00ff00"/><rect x="207" y="325" width="5" height="1" fill="#00ff00"/><rect x="207" y="326" width="4" height="1" fill="#00ff00"/><rect x="207" y="327" width="3" height="1" fill="#00ff00"/><rect x="215" y="328" width="3" height="1" fill="#00ff00"/><rect x="214" y="329" width="4" height="1" fill="#00ff00"/><rect x="214" y="330" width="4" height="1" fill="#00ff00"/><rect x="214" y="331" width="4" height="1" fill="#00ff00"/><rect x="215" y="332" width="2" height="1" fill="#00ff00"/><rect x="207" y="333" width="4" height="1" fill="#00ff00"/><rect x="207" y="334" width="4" height="1" fill="#00ff00"/><rect x="207" y="335" width="5" height="1" fill="#00ff00"/><rect x="207" y="336" width="4" height="1" fill="#00ff00"/><rect x="207" y="337" width="3" height="1" fill="#00ff00"/><rect x="215" y="338" width="3" height="1" fill="#00ff00"/><rect x="214" y="339" width="4" height="1" fill="#00ff00"/><rect x="214" y="340" width="4" height="1" fill="#00ff00"/><rect x="214" y="341" width="4" height="1" fill="#00ff00"/><rect x="215" y="342" width="2" height="1" fill="#00ff00"/><rect x="207" y="343" width="4" height="1" fill="#00ff00"/><rect x="207" y="344" width="4" height="1" fill="#00ff00"/><rect x="207" y="345" width="5" height="1" fill="#00ff00"/><rect x="207" y="346" width="4" height="1" fill="#00ff00"/><rect x="207" y="347" width="3" height="1" fill="#00ff00"/><polyline points="224.5,316.5 226.5,316.5 229.5,320.5 225.5,325.5 229.5,330.5 225.5,335.5 229.5,340.5 225.5,345.5 225.5,348 225.5,349.5" fill="none" stroke="#00ff00" stroke-width="1"/><rect x="230" y="318" width="3" height="1" fill="#00ff00"/><rect x="229" y="319" width="4" height="1" fill="#00ff00"/><rect x="229" y="320" width="4" height="1" fill="#00ff00"/><rect x="229" y="321" width="4" height="1" fill="#00ff00"/><rect x="230" y="322" width="2" height="1" fill="#00ff00"/><rect x="222" y="323" width="4" height="1" fill="#00ff00"/><rect x="222" y="324" width="4" height="1" fill="#00ff00"/><rect x="222" y="325" width="5" height="1" fill="#00ff00"/><rect x="222" y="326" width="4" height="1" fill="#00ff00"/><rect x="222" y="327" width="3" height="1" fill="#00ff00"/><rect x="230" y="328" width="3" height="1" fill="#00ff00"/><rect x="229" y="329" width="4" height="1" fill="#00ff00"/><rect x="229" y="330" width="4" height="1" fill="#00ff00"/><rect x="229" y="331" width="4" height="1" fill="#00ff00"/><rect x="230" y="332" width="2" height="1" fill="#00ff00"/><rect x="222" y="333" width="4" height="1" fill="#00ff00"/><rect x="222" y="334" width="4" height="1" fill="#00ff00"/><rect x="222" y="335" width="5" height="1" fill="#00ff00"/><rect x="222" y="336" width="4" height="1" fill="#00ff00"/><rect x="222" y="337" width="3" height="1" fill="#00ff00"/><rect x="230" y="338" width="2" height="1" fill="#000000"/><rect x="229" y="339" width="4" height="1" fill="#000000"/><rect x="229" y="340" width="4" height="1" fill="#000000"/><rect x="229" y="341" width="4" height="1" fill="#000000"/><rect x="230" y="342" width="2" height="1" fill="#000000"/><rect x="222" y="343" width="4" height="1" fill="#00ff00"/><rect x="222" y="344" width="4" height="1" fill="#00ff00"/><rect x="222" y="345" width="5" height="1" fill="#00ff00"/><rect x="222" y="346" width="4" height="1" fill="#00ff00"/><rect x="222" y="347" width="3" height="1" fill="#00ff00"/><polyline points="179.5,363.5 181.5,363.5 184.5,367.5 180.5,372.5 184.5,377.5 180.5,382.5 184.5,387.5 180.5,392.5 180.5,395 180.5,396.5" fill="none" stroke="#00ffff" stroke-width="1"/><rect x="185" y="365" width="2" height="1" fill="#ff00ff"/><rect x="184" y="366" width="4" height="1" fill="#ff00ff"/><rect x="184" y="367" width="4" height="1" fill="#ff00ff"/><rect x="184" y="368" width="4" height="1" fill="#ff00ff"/><rect x="185" y="369" width="2" height="1" fill="#ff00ff"/><rect x="177" y="370" width="4" height="1" fill="#00ffff"/><rect x="177" y="371" width="4" height="1" fill="#00ffff"/><rect x="177" y="372" width="5" height="1" fill="#00ffff"/><rect x="177" y="373" width="4" height="1" fill="#00ffff"/><rect x="177" y="374" width="3" height="1" fill="#00ffff"/><rect x="185" y="375" width="3" height="1" fill="#00ffff"/><rect x="184" y="376" width="4" height="1" fill="#00ffff"/><rect x="184" y="377" width="4" height="1" fill="#00ffff"/><rect x="184" y="378" width="4" height="1" fill="#00ffff"/><rect x="185" y="379" width="2" height="1" fill="#00ffff"/><rect x="177" y="380" width="4" height="1" fill="#00ffff"/><rect x="177" y="381" width="4" height="1" fill="#00ffff"/><rect x="177" y="382" width="5" height="1" fill="#00ffff"/><rect x="177" y="383" width="4" height="1" fill="#00ffff"/><rect x="177" y="384" width="3" height="1" fill="#00ffff"/><rect x="185" y="385" width="3" height="1" fill="#00ffff"/><rect x="184" y="386" width="4" height="1" fill="#00ffff"/><rect x="184" y="387" width="4" height="1" fill="#00ffff"/><rect x="184" y="388" width="4" height="1" fill="#00ffff"/><rect x="185" y="389" width="2" height="1" fill="#00ffff"/><rect x="177" y="390" width="4" height="1" fill="#00ffff"/><rect x="177" y="391" width="4" height="1" fill="#00ffff"/><rect x="177" y="392" width="5" height="1" fill="#00ffff"/><rect x="177" y="393" width="4" height="1" fill="#00ffff"/><rect x="177" y="394" width="3" height="1" fill="#00ffff"/><polyline points="194.5,363.5 196.5,363.5 199.5,367.5 195.5,372.5 199.5,377.5 195.5,382.5 199.5,387.5 195.5,392.5 195.5,395 195.5,396.5" fill="none" stroke="#00ffff" stroke-width="1"/><rect x="200" y="365" width="3" height="1" fill="#00ffff"/><rect x="199" y="366" width="4" height="1" fill="#00ffff"/><rect x="199" y="367" width="4" height="1" fill="#00ffff"/><rect x="199" y="368" width="4" height="1" fill="#00ffff"/><rect x="200" y="369" width="2" height="1" fill="#00ffff"/><rect x="192" y="370" width="4" height="1" fill="#00ffff"/><rect x="192" y="371" width="4" height="1" fill="#00ffff"/><rect x="192" y="372" width="5" height="1" fill="#00ffff"/><rect x="192" y="373" width="4" height="1" fill="#00ffff"/><rect x="192" y="374" width="3" height="1" fill="#00ffff"/><rect x="200" y="375" width="3" height="1" fill="#00ffff"/><rect x="199" y="376" width="4" height="1" fill="#00ffff"/><rect x="199" y="377" width="4" height="1" fill="#00ffff"/><rect x="199" y="378" width="4" height="1" fill="#00ffff"/><rect x="200" y="379" width="2" height="1" fill="#00ffff"/><rect x="192" y="380" width="4" height="1" fill="#00ffff"/><rect x="192" y="381" width="4" height="1" fill="#00ffff"/><rect x="192" y="382" width="5" height="1" fill="#00ffff"/><rect x="192" y="383" width="4" height="1" fill="#00ffff"/><rect x="192" y="384" width="3" height="1" fill="#00ffff"/><rect x="200" y="385" width="2" height="1" fill="#ff00ff"/><rect x="199" y="386" width="4" height="1" fill="#ff00ff"/><rect x="199" y="387" width="4" height="1" fill="#ff00ff"/><rect x="199" y="388" width="4" height="1" fill="#ff00ff"/><rect x="200" y="389" width="2" height="1" fill="#ff00ff"/><rect x="192" y="390" width="4" height="1" fill="#00ffff"/><rect x="192" y="391" width="4" height="1" fill="#00ffff"/><rect x="192" y="392" width="5" height="1" fill="#00ffff"/><rect x="192" y="393" width="4" height="1" fill="#00ffff"/><rect x="192" y="394" width="3" height="1" fill="#00ffff"/><polyline points="209.5,363.5 211.5,363.5 214.5,367.5 210.5,372.5 214.5,377.5 210.5,382.5 214.5,387.5 210.5,392.5 210.5,395 210.5,396.5" fill="none" stroke="#00ffff" stroke-width="1"/><rect x="215" y="365" width="2" height="1" fill="#ff00ff"/><rect x="214" y="366" width="4" height="1" fill="#ff00ff"/><rect x="214" y="367" width="4" height="1" fill="#ff00ff"/><rect x="214" y="368" width="4" height="1" fill="#ff00ff"/><rect x="215" y="369" width="2" height="1" fill="#ff00ff"/><rect x="207" y="370" width="4" height="1" fill="#00ffff"/><rect x="207" y="371" width="4" height="1" fill="#00ffff"/><rect x="207" y="372" width="5" height="1" fill="#00ffff"/><rect x="207" y="373" width="4" height="1" fill="#00ffff"/><rect x="207" y="374" width="3" height="1" fill="#00ffff"/><rect x="215" y="375" width="3" height="1" fill="#00ffff"/><rect x="214" y="376" width="4" height="1" fill="#00ffff"/><rect x="214" y="377" width="4" height="1" fill="#00ffff"/><rect x="214" y="378" width="4" height="1" fill="#00ffff"/><rect x="215" y="379" width="2" height="1" fill="#00ffff"/><rect x="207" y="380" width="4" height="1" fill="#00ffff"/><rect x="207" y="381" width="4" height="1" fill="#00ffff"/><rect x="207" y="382" width="5" height="1" fill="#00ffff"/><rect x="207" y="383" width="4" height="1" fill="#00ffff"/><rect x="207" y="384" width="3" height="1" fill="#00ffff"/><rect x="215" y="385" width="3" height="1" fill="#00ffff"/><rect x="214" y="386" width="4" height="1" fill="#00ffff"/><rect x="214" y="387" width="4" height="1" fill="#00ffff"/><rect x="214" y="388" width="4" height="1" fill="#00ffff"/><rect x="215" y="389" width="2" height="1" fill="#00ffff"/><rect x="207" y="390" width="4" height="1" fill="#00ffff"/><rect x="207" y="391" width="4" height="1" fill="#00ffff"/><rect x="207" y="392" width="5" height="1" fill="#00ffff"/><rect x="207" y="393" width="4" height="1" fill="#00ffff"/><rect x="207" y="394" width="3" height="1" fill="#00ffff"/><polyline points="224.5,363.5 226.5,363.5 229.5,367.5 225.5,372.5 229.5,377.5 225.5,382.5 229.5,387.5 225.5,392.5 225.5,395 225.5,396.5" fill="none" stroke="#00ffff" stroke-width="1"/><rect x="230" y="365" width="3" height="1" fill="#00ffff"/><rect x="229" y="366" width="4" height="1" fill="#00ffff"/><rect x="229" y="367" width="4" height="1" fill="#00ffff"/><rect x="229" y="368" width="4" height="1" fill="#00ffff"/><rect x="230" y="369" width="2" height="1" fill="#00ffff"/><rect x="222" y="370" width="4" height="1" fill="#00ffff"/><rect x="222" y="371" width="4" height="1" fill="#00ffff"/><rect x="222" y="372" width="5" height="1" fill="#00ffff"/><rect x="222" y="373" width="4" height="1" fill="#00ffff"/><rect x="222" y="374" width="3" height="1" fill="#00ffff"/><rect x="230" y="375" width="3" height="1" fill="#00ffff"/><rect x="229" y="376" width="4" height="1" fill="#00ffff"/><rect x="229" y="377" width="4" height="1" fill="#00ffff"/><rect x="229" y="378" width="4" height="1" fill="#00ffff"/><rect x="230" y="379" width="2" height="1" fill="#00ffff"/><rect x="222" y="380" width="4" height="1" fill="#00ffff"/><rect x="222" y="381" width="4" height="1" fill="#00ffff"/><rect x="222" y="382" width="5" height="1" fill="#00ffff"/><rect x="222" y="383" width="4" height="1" fill="#00ffff"/><rect x="222" y="384" width="3" height="1" fill="#00ffff"/><rect x="230" y="385" width="2" height="1" fill="#ff00ff"/><rect x="229" y="386" width="4" height="1" fill="#ff00ff"/><rect x="229" y="387" width="4" height="1" fill="#ff00ff"/><rect x="229" y="388" width="4" height="1" fill="#ff00ff"/><rect x="230" y="389" width="2" height="1" fill="#ff00ff"/><rect x="222" y="390" width="4" height="1" fill="#00ffff"/><rect x="222" y="391" width="4" height="1" fill="#00ffff"/><rect x="222" y="392" width="5" height="1" fill="#00ffff"/><rect x="222" y="393" width="4" height="1" fill="#00ffff"/><rect x="222" y="394" width="3" height="1" fill="#00ffff"/><polyline points="179.5,409.5 181.5,409.5 184.5,413.5 180.5,418.5 184.5,423.5 180.5,428.5 184.5,433.5 180.5,438.5 180.5,441 180.5,442.5" fill="none" stroke="#ff0000" stroke-width="1"/><rect x="185" y="411" width="2" height="1" fill="#ffff00"/><rect x="184" y="412" width="4" height="1" fill="#ffff00"/><rect x="184" y="413" width="4" height="1" fill="#ffff00"/><rect x="184" y="414" width="4" height="1" fill="#ffff00"/><rect x="185" y="415" width="2" height="1" fill="#ffff00"/><rect x="177" y="416" width="4" height="1" fill="#ff0000"/><rect x="177" y="417" width="4" height="1" fill="#ff0000"/><rect x="177" y="418" width="5" height="1" fill="#ff0000"/><rect x="177" y="419" width="4" height="1" fill="#ff0000"/><rect x="177" y="420" width="3" height="1" fill="#ff0000"/><rect x="185" y="421" width="3" height="1" fill="#ff0000"/><rect x="184" y="422" width="4" height="1" fill="#ff0000"/><rect x="184" y="423" width="4" height="1" fill="#ff0000"/><rect x="184" y="424" width="4" height="1" fill="#ff0000"/><rect x="185" y="425" width="2" height="1" fill="#ff0000"/><rect x="177" y="426" width="4" height="1" fill="#ff0000"/><rect x="177" y="427" width="4" height="1" fill="#ff0000"/><rect x="177" y="428" width="5" height="1" fill="#ff0000"/><rect x="177" y="429" width="4" height="1" fill="#ff0000"/><rect x="177" y="430" width="3" height="1" fill="#ff0000"/><rect x="185" y="431" width="3" height="1" fill="#ff0000"/><rect x="184" y="432" width="4" height="1" fill="#ff0000"/><rect x="184" y="433" width="4" height="1" fill="#ff0000"/><rect x="184" y="434" width="4" height="1" fill="#ff0000"/><rect x="185" y="435" width="2" height="1" fill="#ff0000"/><rect x="177" y="436" width="4" height="1" fill="#ff0000"/><rect x="177" y="437" width="4" height="1" fill="#ff0000"/><rect x="177" y="438" width="5" height="1" fill="#ff0000"/><rect x="177" y="439" width="4" height="1" fill="#ff0000"/><rect x="177" y="440" width="3" height="1" fill="#ff0000"/><polyline points="194.5,409.5 196.5,409.5 199.5,413.5 195.5,418.5 199.5,423.5 195.5,428.5 199.5,433.5 195.5,438.5 195.5,441 195.5,442.5" fill="none" stroke="#ff0000" stroke-width="1"/><rect x="200" y="411" width="3" height="1" fill="#ff0000"/><rect x="199" y="412" width="4" height="1" fill="#ff0000"/><rect x="199" y="413" width="4" height="1" fill="#ff0000"/><rect x="199" y="414" width="4" height="1" fill="#ff0000"/><rect x="200" y="415" width="2" height="1" fill="#ff0000"/><rect x="192" y="416" width="4" height="1" fill="#ff0000"/><rect x="192" y="417" width="4" height="1" fill="#ff0000"/><rect x="192" y="418" width="5" height="1" fill="#ff0000"/><rect x="192" y="419" width="4" height="1" fill="#ff0000"/><rect x="192" y="420" width="3" height="1" fill="#ff0000"/><rect x="200" y="421" width="3" height="1" fill="#ff0000"/><rect x="199" y="422" width="4" height="1" fill="#ff0000"/><rect x="199" y="423" width="4" height="1" fill="#ff0000"/><rect x="199" y="424" width="4" height="1" fill="#ff0000"/><rect x="200" y="425" width="2" height="1" fill="#ff0000"/><rect x="192" y="426" width="4" height="1" fill="#ff0000"/><rect x="192" y="427" width="4" height="1" fill="#ff0000"/><rect x="192" y="428" width="5" height="1" fill="#ff0000"/><rect x="192" y="429" width="4" height="1" fill="#ff0000"/><rect x="192" y="430" width="3" height="1" fill="#ff0000"/><rect x="200" y="431" width="2" height="1" fill="#ffff00"/><rect x="199" y="432" width="4" height="1" fill="#ffff00"/><rect x="199" y="433" width="4" height="1" fill="#ffff00"/><rect x="199" y="434" width="4" height="1" fill="#ffff00"/><rect x="200" y="435" width="2" height="1" fill="#ffff00"/><rect x="192" y="436" width="4" height="1" fill="#ff0000"/><rect x="192" y="437" width="4" height="1" fill="#ff0000"/><rect x="192" y="438" width="5" height="1" fill="#ff0000"/><rect x="192" y="439" width="4" height="1" fill="#ff0000"/><rect x="192" y="440" width="3" height="1" fill="#ff0000"/><polyline points="209.5,409.5 211.5,409.5 214.5,413.5 210.5,418.5 214.5,423.5 210.5,428.5 214.5,433.5 210.5,438.5 210.5,441 210.5,442.5" fill="none" stroke="#ff0000" stroke-width="1"/><rect x="215" y="411" width="2" height="1" fill="#ffff00"/><rect x="214" y="412" width="4" height="1" fill="#ffff00"/><rect x="214" y="413" width="4" height="1" fill="#ffff00"/><rect x="214" y="414" width="4" height="1" fill="#ffff00"/><rect x="215" y="415" width="2" height="1" fill="#ffff00"/><rect x="207" y="416" width="4" height="1" fill="#ff0000"/><rect x="207" y="417" width="4" height="1" fill="#ff0000"/><rect x="207" y="418" width="5" height="1" fill="#ff0000"/><rect x="207" y="419" width="4" height="1" fill="#ff0000"/><rect x="207" y="420" width="3" height="1" fill="#ff0000"/><rect x="215" y="421" width="3" height="1" fill="#ff0000"/><rect x="214" y="422" width="4" height="1" fill="#ff0000"/><rect x="214" y="423" width="4" height="1" fill="#ff0000"/><rect x="214" y="424" width="4" height="1" fill="#ff0000"/><rect x="215" y="425" width="2" height="1" fill="#ff0000"/><rect x="207" y="426" width="4" height="1" fill="#ff0000"/><rect x="207" y="427" width="4" height="1" fill="#ff0000"/><rect x="207" y="428" width="5" height="1" fill="#ff0000"/><rect x="207" y="429" width="4" height="1" fill="#ff0000"/><rect x="207" y="430" width="3" height="1" fill="#ff0000"/><rect x="215" y="431" width="3" height="1" fill="#ff0000"/><rect x="214" y="432" width="4" height="1" fill="#ff0000"/><rect x="214" y="433" width="4" height="1" fill="#ff0000"/><rect x="214" y="434" width="4" height="1" fill="#ff0000"/><rect x="215" y="435" width="2" height="1" fill="#ff0000"/><rect x="207" y="436" width="4" height="1" fill="#ff0000"/><rect x="207" y="437" width="4" height="1" fill="#ff0000"/><rect x="207" y="438" width="5" height="1" fill="#ff0000"/><rect x="207" y="439" width="4" height="1" fill="#ff0000"/><rect x="207" y="440" width="3" height="1" fill="#ff0000"/><polyline points="224.5,409.5 226.5,409.5 229.5,413.5 225.5,418.5 229.5,423.5 225.5,428.5 229.5,433.5 225.5,438.5 225.5,441 225.5,442.5" fill="none" stroke="#ff0000" stroke-width="1"/><rect x="230" y="411" width="3" height="1" fill="#ff0000"/><rect x="229" y="412" width="4" height="1" fill="#ff0000"/><rect x="229" y="413" width="4" height="1" fill="#ff0000"/><rect x="229" y="414" width="4" height="1" fill="#ff0000"/><rect x="230" y="415" width="2" height="1" fill="#ff0000"/><rect x="222" y="416" width="4" height="1" fill="#ff0000"/><rect x="222" y="417" width="4" height="1" fill="#ff0000"/><rect x="222" y="418" width="5" height="1" fill="#ff0000"/><rect x="222" y="419" width="4" height="1" fill="#ff0000"/><rect x="222" y="420" width="3" height="1" fill="#ff0000"/><rect x="230" y="421" width="3" height="1" fill="#ff0000"/><rect x="229" y="422" width="4" height="1" fill="#ff0000"/><rect x="229" y="423" width="4" height="1" fill="#ff0000"/><rect x="229" y="424" width="4" height="1" fill="#ff0000"/><rect x="230" y="425" width="2" height="1" fill="#ff0000"/><rect x="222" y="426" width="4" height="1" fill="#ff0000"/><rect x="222" y="427" width="4" height="1" fill="#ff0000"/><rect x="222" y="428" width="5" height="1" fill="#ff0000"/><rect x="222" y="429" width="4" height="1" fill="#ff0000"/><rect x="222" y="430" width="3" height="1" fill="#ff0000"/><rect x="230" y="431" width="2" height="1" fill="#ffff00"/><rect x="229" y="432" width="4" height="1" fill="#ffff00"/><rect x="229" y="433" width="4" height="1" fill="#ffff00"/><rect x="229" y="434" width="4" height="1" fill="#ffff00"/><rect x="230" y="435" width="2" height="1" fill="#ffff00"/><rect x="222" y="436" width="4" height="1" fill="#ff0000"/><rect x="222" y="437" width="4" height="1" fill="#ff0000"/><rect x="222" y="438" width="5" height="1" fill="#ff0000"/><rect x="222" y="439" width="4" height="1" fill="#ff0000"/><rect x="222" y="440" width="3" height="1" fill="#ff0000"/><polyline points="179.5,456.5 181.5,456.5 184.5,460.5 180.5,465.5 184.5,470.5 180.5,475.5 184.5,480.5 180.5,485.5 180.5,488 180.5,489.5" fill="none" stroke="#8282ff" stroke-width="1"/><rect x="185" y="458" width="2" height="1" fill="#009100"/><rect x="184" y="459" width="4" height="1" fill="#009100"/><rect x="184" y="460" width="4" height="1" fill="#009100"/><rect x="184" y="461" width="4" height="1" fill="#009100"/><rect x="185" y="462" width="2" height="1" fill="#009100"/><rect x="177" y="463" width="4" height="1" fill="#8282ff"/><rect x="177" y="464" width="4" height="1" fill="#8282ff"/><rect x="177" y="465" width="5" height="1" fill="#8282ff"/><rect x="177" y="466" width="4" height="1" fill="#8282ff"/><rect x="177" y="467" width="3" height="1" fill="#8282ff"/><rect x="185" y="468" width="3" height="1" fill="#8282ff"/><rect x="184" y="469" width="4" height="1" fill="#8282ff"/><rect x="184" y="470" width="4" height="1" fill="#8282ff"/><rect x="184" y="471" width="4" height="1" fill="#8282ff"/><rect x="185" y="472" width="2" height="1" fill="#8282ff"/><rect x="177" y="473" width="4" height="1" fill="#8282ff"/><rect x="177" y="474" width="4" height="1" fill="#8282ff"/><rect x="177" y="475" width="5" height="1" fill="#8282ff"/><rect x="177" y="476" width="4" height="1" fill="#8282ff"/><rect x="177" y="477" width="3" height="1" fill="#8282ff"/><rect x="185" y="478" width="3" height="1" fill="#8282ff"/><rect x="184" y="479" width="4" height="1" fill="#8282ff"/><rect x="184" y="480" width="4" height="1" fill="#8282ff"/><rect x="184" y="481" width="4" height="1" fill="#8282ff"/><rect x="185" y="482" width="2" height="1" fill="#8282ff"/><rect x="177" y="483" width="4" height="1" fill="#8282ff"/><rect x="177" y="484" width="4" height="1" fill="#8282ff"/><rect x="177" y="485" width="5" height="1" fill="#8282ff"/><rect x="177" y="486" width="4" height="1" fill="#8282ff"/><rect x="177" y="487" width="3" height="1" fill="#8282ff"/><polyline points="194.5,456.5 196.5,456.5 199.5,460.5 195.5,465.5 199.5,470.5 195.5,475.5 199.5,480.5 195.5,485.5 195.5,488 195.5,489.5" fill="none" stroke="#8282ff" stroke-width="1"/><rect x="200" y="458" width="3" height="1" fill="#8282ff"/><rect x="199" y="459" width="4" height="1" fill="#8282ff"/><rect x="199" y="460" width="4" height="1" fill="#8282ff"/><rect x="199" y="461" width="4" height="1" fill="#8282ff"/><rect x="200" y="462" width="2" height="1" fill="#8282ff"/><rect x="192" y="463" width="4" height="1" fill="#8282ff"/><rect x="192" y="464" width="4" height="1" fill="#8282ff"/><rect x="192" y="465" width="5" height="1" fill="#8282ff"/><rect x="192" y="466" width="4" height="1" fill="#8282ff"/><rect x="192" y="467" width="3" height="1" fill="#8282ff"/><rect x="200" y="468" width="3" height="1" fill="#8282ff"/><rect x="199" y="469" width="4" height="1" fill="#8282ff"/><rect x="199" y="470" width="4" height="1" fill="#8282ff"/><rect x="199" y="471" width="4" height="1" fill="#8282ff"/><rect x="200" y="472" width="2" height="1" fill="#8282ff"/><rect x="192" y="473" width="4" height="1" fill="#8282ff"/><rect x="192" y="474" width="4" height="1" fill="#8282ff"/><rect x="192" y="475" width="5" height="1" fill="#8282ff"/><rect x="192" y="476" width="4" height="1" fill="#8282ff"/><rect x="192" y="477" width="3" height="1" fill="#8282ff"/><rect x="200" y="478" width="2" height="1" fill="#009100"/><rect x="199" y="479" width="4" height="1" fill="#009100"/><rect x="199" y="480" width="4" height="1" fill="#009100"/><rect x="199" y="481" width="4" height="1" fill="#009100"/><rect x="200" y="482" width="2" height="1" fill="#009100"/><rect x="192" y="483" width="4" height="1" fill="#8282ff"/><rect x="192" y="484" width="4" height="1" fill="#8282ff"/><rect x="192" y="485" width="5" height="1" fill="#8282ff"/><rect x="192" y="486" width="4" height="1" fill="#8282ff"/><rect x="192" y="487" width="3" height="1" fill="#8282ff"/><polyline points="209.5,456.5 211.5,456.5 214.5,460.5 210.5,465.5 214.5,470.5 210.5,475.5 214.5,480.5 210.5,485.5 210.5,488 210.5,489.5" fill="none" stroke="#8282ff" stroke-width="1"/><rect x="215" y="458" width="2" height="1" fill="#009100"/><rect x="214" y="459" width="4" height="1" fill="#009100"/><rect x="214" y="460" width="4" height="1" fill="#009100"/><rect x="214" y="461" width="4" height="1" fill="#009100"/><rect x="215" y="462" width="2" height="1" fill="#009100"/><rect x="207" y="463" width="4" height="1" fill="#8282ff"/><rect x="207" y="464" width="4" height="1" fill="#8282ff"/><rect x="207" y="465" width="5" height="1" fill="#8282ff"/><rect x="207" y="466" width="4" height="1" fill="#8282ff"/><rect x="207" y="467" width="3" height="1" fill="#8282ff"/><rect x="215" y="468" width="3" height="1" fill="#8282ff"/><rect x="214" y="469" width="4" height="1" fill="#8282ff"/><rect x="214" y="470" width="4" height="1" fill="#8282ff"/><rect x="214" y="471" width="4" height="1" fill="#8282ff"/><rect x="215" y="472" width="2" height="1" fill="#8282ff"/><rect x="207" y="473" width="4" height="1" fill="#8282ff"/><rect x="207" y="474" width="4" height="1" fill="#8282ff"/><rect x="207" y="475" width="5" height="1" fill="#8282ff"/><rect x="207" y="476" width="4" height="1" fill="#8282ff"/><rect x="207" y="477" width="3" height="1" fill="#8282ff"/><rect x="215" y="478" width="3" height="1" fill="#8282ff"/><rect x="214" y="479" width="4" height="1" fill="#8282ff"/><rect x="214" y="480" width="4" height="1" fill="#8282ff"/><rect x="214" y="481" width="4" height="1" fill="#8282ff"/><rect x="215" y="482" width="2" height="1" fill="#8282ff"/><rect x="207" y="483" width="4" height="1" fill="#8282ff"/><rect x="207" y="484" width="4" height="1" fill="#8282ff"/><rect x="207" y="485" width="5" height="1" fill="#8282ff"/><rect x="207" y="486" width="4" height="1" fill="#8282ff"/><rect x="207" y="487" width="3" height="1" fill="#8282ff"/><polyline points="224.5,456.5 226.5,456.5 229.5,460.5 225.5,465.5 229.5,470.5 225.5,475.5 229.5,480.5 225.5,485.5 225.5,488 225.5,489.5" fill="none" stroke="#8282ff" stroke-width="1"/><rect x="230" y="458" width="3" height="1" fill="#8282ff"/><rect x="229" y="459" width="4" height="1" fill="#8282ff"/><rect x="229" y="460" width="4" height="1" fill="#8282ff"/><rect x="229" y="461" width="4" height="1" fill="#8282ff"/><rect x="230" y="462" width="2" height="1" fill="#8282ff"/><rect x="222" y="463" width="4" height="1" fill="#8282ff"/><rect x="222" y="464" width="4" height="1" fill="#8282ff"/><rect x="222" y="465" width="5" height="1" fill="#8282ff"/><rect x="222" y="466" width="4" height="1" fill="#8282ff"/><rect x="222" y="467" width="3" height="1" fill="#8282ff"/><rect x="230" y="468" width="3" height="1" fill="#8282ff"/><rect x="229" y="469" width="4" height="1" fill="#8282ff"/><rect x="229" y="470" width="4" height="1" fill="#8282ff"/><rect x="229" y="471" width="4" height="1" fill="#8282ff"/><rect x="230" y="472" width="2" height="1" fill="#8282ff"/><rect x="222" y="473" width="4" height="1" fill="#8282ff"/><rect x="222" y="474" width="4" height="1" fill="#8282ff"/><rect x="222" y="475" width="5" height="1" fill="#8282ff"/><rect x="222" y="476" width="4" height="1" fill="#8282ff"/><rect x="222" y="477" width="3" height="1" fill="#8282ff"/><rect x="230" y="478" width="2" height="1" fill="#009100"/><rect x="229" y="479" width="4" height="1" fill="#009100"/><rect x="229" y="480" width="4" height="1" fill="#009100"/><rect x="229" y="481" width="4" height="1" fill="#009100"/><rect x="230" y="482" width="2" height="1" fill="#009100"/><rect x="222" y="483" width="4" height="1" fill="#8282ff"/><rect x="222" y="484" width="4" height="1" fill="#8282ff"/><rect x="222" y="485" width="5" height="1" fill="#8282ff"/><rect x="222" y="486" width="4" height="1" fill="#8282ff"/><rect x="222" y="487" width="3" height="1" fill="#8282ff"/><polyline points="179.5,502.5 181.5,502.5 184.5,506.5 180.5,511.5 184.5,516.5 180.5,521.5 184.5,526.5 180.5,531.5 180.5,534 180.5,535.5" fill="none" stroke="#646464" stroke-width="1"/><rect x="185" y="504" width="2" height="1" fill="#969664"/><rect x="184" y="505" width="4" height="1" fill="#969664"/><rect x="184" y="506" width="4" height="1" fill="#969664"/><rect x="184" y="507" width="4" height="1" fill="#969664"/><rect x="185" y="508" width="2" height="1" fill="#969664"/><rect x="177" y="509" width="4" height="1" fill="#646464"/><rect x="177" y="510" width="4" height="1" fill="#646464"/><rect x="177" y="511" width="5" height="1" fill="#646464"/><rect x="177" y="512" width="4" height="1" fill="#646464"/><rect x="177" y="513" width="3" height="1" fill="#646464"/><rect x="185" y="514" width="3" height="1" fill="#646464"/><rect x="184" y="515" width="4" height="1" fill="#646464"/><rect x="184" y="516" width="4" height="1" fill="#646464"/><rect x="184" y="517" width="4" height="1" fill="#646464"/><rect x="185" y="518" width="2" height="1" fill="#646464"/><rect x="177" y="519" width="4" height="1" fill="#646464"/><rect x="177" y="520" width="4" height="1" fill="#646464"/><rect x="177" y="521" width="5" height="1" fill="#646464"/><rect x="177" y="522" width="4" height="1" fill="#646464"/><rect x="177" y="523" width="3" height="1" fill="#646464"/><rect x="185" y="524" width="3" height="1" fill="#646464"/><rect x="184" y="525" width="4" height="1" fill="#646464"/><rect x="184" y="526" width="4" height="1" fill="#646464"/><rect x="184" y="527" width="4" height="1" fill="#646464"/><rect x="185" y="528" width="2" height="1" fill="#646464"/><rect x="177" y="529" width="4" height="1" fill="#646464"/><rect x="177" y="530" width="4" height="1" fill="#646464"/><rect x="177" y="531" width="5" height="1" fill="#646464"/><rect x="177" y="532" width="4" height="1" fill="#646464"/><rect x="177" y="533" width="3" height="1" fill="#646464"/><polyline points="194.5,502.5 196.5,502.5 199.5,506.5 195.5,511.5 199.5,516.5 195.5,521.5 199.5,526.5 195.5,531.5 195.5,534 195.5,535.5" fill="none" stroke="#646464" stroke-width="1"/><rect x="200" y="504" width="3" height="1" fill="#646464"/><rect x="199" y="505" width="4" height="1" fill="#646464"/><rect x="199" y="506" width="4" height="1" fill="#646464"/><rect x="199" y="507" width="4" height="1" fill="#646464"/><rect x="200" y="508" width="2" height="1" fill="#646464"/><rect x="192" y="509" width="4" height="1" fill="#646464"/><rect x="192" y="510" width="4" height="1" fill="#646464"/><rect x="192" y="511" width="5" height="1" fill="#646464"/><rect x="192" y="512" width="4" height="1" fill="#646464"/><rect x="192" y="513" width="3" height="1" fill="#646464"/><rect x="200" y="514" width="3" height="1" fill="#646464"/><rect x="199" y="515" width="4" height="1" fill="#646464"/><rect x="199" y="516" width="4" height="1" fill="#646464"/><rect x="199" y="517" width="4" height="1" fill="#646464"/><rect x="200" y="518" width="2" height="1" fill="#646464"/><rect x="192" y="519" width="4" height="1" fill="#646464"/><rect x="192" y="520" width="4" height="1" fill="#646464"/><rect x="192" y="521" width="5" height="1" fill="#646464"/><rect x="192" y="522" width="4" height="1" fill="#646464"/><rect x="192" y="523" width="3" height="1" fill="#646464"/><rect x="200" y="524" width="2" height="1" fill="#969664"/><rect x="199" y="525" width="4" height="1" fill="#969664"/><rect x="199" y="526" width="4" height="1" fill="#969664"/><rect x="199" y="527" width="4" height="1" fill="#969664"/><rect x="200" y="528" width="2" height="1" fill="#969664"/><rect x="192" y="529" width="4" height="1" fill="#646464"/><rect x="192" y="530" width="4" height="1" fill="#646464"/><rect x="192" y="531" width="5" height="1" fill="#646464"/><rect x="192" y="532" width="4" height="1" fill="#646464"/><rect x="192" y="533" width="3" height="1" fill="#646464"/><polyline points="209.5,502.5 211.5,502.5 214.5,506.5 210.5,511.5 214.5,516.5 210.5,521.5 214.5,526.5 210.5,531.5 210.5,534 210.5,535.5" fill="none" stroke="#646464" stroke-width="1"/><rect x="215" y="504" width="2" height="1" fill="#969664"/><rect x="214" y="505" width="4" height="1" fill="#969664"/><rect x="214" y="506" width="4" height="1" fill="#969664"/><rect x="214" y="507" width="4" height="1" fill="#969664"/><rect x="215" y="508" width="2" height="1" fill="#969664"/><rect x="207" y="509" width="4" height="1" fill="#646464"/><rect x="207" y="510" width="4" height="1" fill="#646464"/><rect x="207" y="511" width="5" height="1" fill="#646464"/><rect x="207" y="512" width="4" height="1" fill="#646464"/><rect x="207" y="513" width="3" height="1" fill="#646464"/><rect x="215" y="514" width="3" height="1" fill="#646464"/><rect x="214" y="515" width="4" height="1" fill="#646464"/><rect x="214" y="516" width="4" height="1" fill="#646464"/><rect x="214" y="517" width="4" height="1" fill="#646464"/><rect x="215" y="518" width="2" height="1" fill="#646464"/><rect x="207" y="519" width="4" height="1" fill="#646464"/><rect x="207" y="520" width="4" height="1" fill="#646464"/><rect x="207" y="521" width="5" height="1" fill="#646464"/><rect x="207" y="522" width="4" height="1" fill="#646464"/><rect x="207" y="523" width="3" height="1" fill="#646464"/><rect x="215" y="524" width="3" height="1" fill="#646464"/><rect x="214" y="525" width="4" height="1" fill="#646464"/><rect x="214" y="526" width="4" height="1" fill="#646464"/><rect x="214" y="527" width="4" height="1" fill="#646464"/><rect x="215" y="528" width="2" height="1" fill="#646464"/><rect x="207" y="529" width="4" height="1" fill="#646464"/><rect x="207" y="530" width="4" height="1" fill="#646464"/><rect x="207" y="531" width="5" height="1" fill="#646464"/><rect x="207" y="532" width="4" height="1" fill="#646464"/><rect x="207" y="533" width="3" height="1" fill="#646464"/><polyline points="224.5,502.5 226.5,502.5 229.5,506.5 225.5,511.5 229.5,516.5 225.5,521.5 229.5,526.5 225.5,531.5 225.5,534 225.5,535.5" fill="none" stroke="#646464" stroke-width="1"/><rect x="230" y="504" width="3" height="1" fill="#646464"/><rect x="229" y="505" width="4" height="1" fill="#646464"/><rect x="229" y="506" width="4" height="1" fill="#646464"/><rect x="229" y="507" width="4" height="1" fill="#646464"/><rect x="230" y="508" width="2" height="1" fill="#646464"/><rect x="222" y="509" width="4" height="1" fill="#646464"/><rect x="222" y="510" width="4" height="1" fill="#646464"/><rect x="222" y="511" width="5" height="1" fill="#646464"/><rect x="222" y="512" width="4" height="1" fill="#646464"/><rect x="222" y="513" width="3" height="1" fill="#646464"/><rect x="230" y="514" width="3" height="1" fill="#646464"/><rect x="229" y="515" width="4" height="1" fill="#646464"/><rect x="229" y="516" width="4" height="1" fill="#646464"/><rect x="229" y="517" width="4" height="1" fill="#646464"/><rect x="230" y="518" width="2" height="1" fill="#646464"/><rect x="222" y="519" width="4" height="1" fill="#646464"/><rect x="222" y="520" width="4" height="1" fill="#646464"/><rect x="222" y="521" width="5" height="1" fill="#646464"/><rect x="222" y="522" width="4" height="1" fill="#646464"/><rect x="222" y="523" width="3" height="1" fill="#646464"/><rect x="230" y="524" width="2" height="1" fill="#969664"/><rect x="229" y="525" width="4" height="1" fill="#969664"/><rect x="229" y="526" width="4" height="1" fill="#969664"/><rect x="229" y="527" width="4" height="1" fill="#969664"/><rect x="230" y="528" width="2" height="1" fill="#969664"/><rect x="222" y="529" width="4" height="1" fill="#646464"/><rect x="222" y="530" width="4" height="1" fill="#646464"/><rect x="222" y="531" width="5" height="1" fill="#646464"/><rect x="222" y="532" width="4" height="1" fill="#646464"/><rect x="222" y="533" width="3" height="1" fill="#646464"/><polyline points="179.5,549.5 181.5,549.5 184.5,553.5 180.5,558.5 184.5,563.5 180.5,568.5 184.5,573.5 180.5,578.5 180.5,581 180.5,582.5" fill="none" stroke="#ffcd82" stroke-width="1"/><rect x="185" y="551" width="2" height="1" fill="#6effcd"/><rect x="184" y="552" width="4" height="1" fill="#6effcd"/><rect x="184" y="553" width="4" height="1" fill="#6effcd"/><rect x="184" y="554" width="4" height="1" fill="#6effcd"/><rect x="185" y="555" width="2" height="1" fill="#6effcd"/><rect x="177" y="556" width="4" height="1" fill="#ffcd82"/><rect x="177" y="557" width="4" height="1" fill="#ffcd82"/><rect x="177" y="558" width="5" height="1" fill="#ffcd82"/><rect x="177" y="559" width="4" height="1" fill="#ffcd82"/><rect x="177" y="560" width="3" height="1" fill="#ffcd82"/><rect x="185" y="561" width="3" height="1" fill="#ffcd82"/><rect x="184" y="562" width="4" height="1" fill="#ffcd82"/><rect x="184" y="563" width="4" height="1" fill="#ffcd82"/><rect x="184" y="564" width="4" height="1" fill="#ffcd82"/><rect x="185" y="565" width="2" height="1" fill="#ffcd82"/><rect x="177" y="566" width="4" height="1" fill="#ffcd82"/><rect x="177" y="567" width="4" height="1" fill="#ffcd82"/><rect x="177" y="568" width="5" height="1" fill="#ffcd82"/><rect x="177" y="569" width="4" height="1" fill="#ffcd82"/><rect x="177" y="570" width="3" height="1" fill="#ffcd82"/><rect x="185" y="571" width="3" height="1" fill="#ffcd82"/><rect x="184" y="572" width="4" height="1" fill="#ffcd82"/><rect x="184" y="573" width="4" height="1" fill="#ffcd82"/><rect x="184" y="574" width="4" height="1" fill="#ffcd82"/><rect x="185" y="575" width="2" height="1" fill="#ffcd82"/><rect x="177" y="576" width="4" height="1" fill="#ffcd82"/><rect x="177" y="577" width="4" height="1" fill="#ffcd82"/><rect x="177" y="578" width="5" height="1" fill="#ffcd82"/><rect x="177" y="579" width="4" height="1" fill="#ffcd82"/><rect x="177" y="580" width="3" height="1" fill="#ffcd82"/><polyline points="194.5,549.5 196.5,549.5 199.5,553.5 195.5,558.5 199.5,563.5 195.5,568.5 199.5,573.5 195.5,578.5 195.5,581 195.5,582.5" fill="none" stroke="#ffcd82" stroke-width="1"/><rect x="200" y="551" width="3" height="1" fill="#ffcd82"/><rect x="199" y="552" width="4" height="1" fill="#ffcd82"/><rect x="199" y="553" width="4" height="1" fill="#ffcd82"/><rect x="199" y="554" width="4" height="1" fill="#ffcd82"/><rect x="200" y="555" width="2" height="1" fill="#ffcd82"/><rect x="192" y="556" width="4" height="1" fill="#ffcd82"/><rect x="192" y="557" width="4" height="1" fill="#ffcd82"/><rect x="192" y="558" width="5" height="1" fill="#ffcd82"/><rect x="192" y="559" width="4" height="1" fill="#ffcd82"/><rect x="192" y="560" width="3" height="1" fill="#ffcd82"/><rect x="200" y="561" width="3" height="1" fill="#ffcd82"/><rect x="199" y="562" width="4" height="1" fill="#ffcd82"/><rect x="199" y="563" width="4" height="1" fill="#ffcd82"/><rect x="199" y="564" width="4" height="1" fill="#ffcd82"/><rect x="200" y="565" width="2" height="1" fill="#ffcd82"/><rect x="192" y="566" width="4" height="1" fill="#ffcd82"/><rect x="192" y="567" width="4" height="1" fill="#ffcd82"/><rect x="192" y="568" width="5" height="1" fill="#ffcd82"/><rect x="192" y="569" width="4" height="1" fill="#ffcd82"/><rect x="192" y="570" width="3" height="1" fill="#ffcd82"/><rect x="200" y="571" width="2" height="1" fill="#6effcd"/><rect x="199" y="572" width="4" height="1" fill="#6effcd"/><rect x="199" y="573" width="4" height="1" fill="#6effcd"/><rect x="199" y="574" width="4" height="1" fill="#6effcd"/><rect x="200" y="575" width="2" height="1" fill="#6effcd"/><rect x="192" y="576" width="4" height="1" fill="#ffcd82"/><rect x="192" y="577" width="4" height="1" fill="#ffcd82"/><rect x="192" y="578" width="5" height="1" fill="#ffcd82"/><rect x="192" y="579" width="4" height="1" fill="#ffcd82"/><rect x="192" y="580" width="3" height="1" fill="#ffcd82"/><polyline points="209.5,549.5 211.5,549.5 214.5,553.5 210.5,558.5 214.5,563.5 210.5,568.5 214.5,573.5 210.5,578.5 210.5,581 210.5,582.5" fill="none" stroke="#ffcd82" stroke-width="1"/><rect x="215" y="551" width="2" height="1" fill="#6effcd"/><rect x="214" y="552" width="4" height="1" fill="#6effcd"/><rect x="214" y="553" width="4" height="1" fill="#6effcd"/><rect x="214" y="554" width="4" height="1" fill="#6effcd"/><rect x="215" y="555" width="2" height="1" fill="#6effcd"/><rect x="207" y="556" width="4" height="1" fill="#ffcd82"/><rect x="207" y="557" width="4" height="1" fill="#ffcd82"/><rect x="207" y="558" width="5" height="1" fill="#ffcd82"/><rect x="207" y="559" width="4" height="1" fill="#ffcd82"/><rect x="207" y="560" width="3" height="1" fill="#ffcd82"/><rect x="215" y="561" width="3" height="1" fill="#ffcd82"/><rect x="214" y="562" width="4" height="1" fill="#ffcd82"/><rect x="214" y="563" width="4" height="1" fill="#ffcd82"/><rect x="214" y="564" width="4" height="1" fill="#ffcd82"/><rect x="215" y="565" width="2" height="1" fill="#ffcd82"/><rect x="207" y="566" width="4" height="1" fill="#ffcd82"/><rect x="207" y="567" width="4" height="1" fill="#ffcd82"/><rect x="207" y="568" width="5" height="1" fill="#ffcd82"/><rect x="207" y="569" width="4" height="1" fill="#ffcd82"/><rect x="207" y="570" width="3" height="1" fill="#ffcd82"/><rect x="215" y="571" width="3" height="1" fill="#ffcd82"/><rect x="214" y="572" width="4" height="1" fill="#ffcd82"/><rect x="214" y="573" width="4" height="1" fill="#ffcd82"/><rect x="214" y="574" width="4" height="1" fill="#ffcd82"/><rect x="215" y="575" width="2" height="1" fill="#ffcd82"/><rect x="207" y="576" width="4" height="1" fill="#ffcd82"/><rect x="207" y="577" width="4" height="1" fill="#ffcd82"/><rect x="207" y="578" width="5" height="1" fill="#ffcd82"/><rect x="207" y="579" width="4" height="1" fill="#ffcd82"/><rect x="207" y="580" width="3" height="1" fill="#ffcd82"/><polyline points="224.5,549.5 226.5,549.5 229.5,553.5 225.5,558.5 229.5,563.5 225.5,568.5 229.5,573.5 225.5,578.5 225.5,581 225.5,582.5" fill="none" stroke="#ffcd82" stroke-width="1"/><rect x="230" y="551" width="3" height="1" fill="#ffcd82"/><rect x="229" y="552" width="4" height="1" fill="#ffcd82"/><rect x="229" y="553" width="4" height="1" fill="#ffcd82"/><rect x="229" y="554" width="4" height="1" fill="#ffcd82"/><rect x="230" y="555" width="2" height="1" fill="#ffcd82"/><rect x="222" y="556" width="4" height="1" fill="#ffcd82"/><rect x="222" y="557" width="4" height="1" fill="#ffcd82"/><rect x="222" y="558" width="5" height="1" fill="#ffcd82"/><rect x="222" y="559" width="4" height="1" fill="#ffcd82"/><rect x="222" y="560" width="3" height="1" fill="#ffcd82"/><rect x="230" y="561" width="3" height="1" fill="#ffcd82"/><rect x="229" y="562" width="4" height="1" fill="#ffcd82"/><rect x="229" y="563" width="4" height="1" fill="#ffcd82"/><rect x="229" y="564" width="4" height="1" fill="#ffcd82"/><rect x="230" y="565" width="2" height="1" fill="#ffcd82"/><rect x="222" y="566" width="4" height="1" fill="#ffcd82"/><rect x="222" y="567" width="4" height="1" fill="#ffcd82"/><rect x="222" y="568" width="5" height="1" fill="#ffcd82"/><rect x="222" y="569" width="4" height="1" fill="#ffcd82"/><rect x="222" y="570" width="3" height="1" fill="#ffcd82"/><rect x="230" y="571" width="2" height="1" fill="#6effcd"/><rect x="229" y="572" width="4" height="1" fill="#6effcd"/><rect x="229" y="573" width="4" height="1" fill="#6effcd"/><rect x="229" y="574" width="4" height="1" fill="#6effcd"/><rect x="230" y="575" width="2" height="1" fill="#6effcd"/><rect x="222" y="576" width="4" height="1" fill="#ffcd82"/><rect x="222" y="577" width="4" height="1" fill="#ffcd82"/><rect x="222" y="578" width="5" height="1" fill="#ffcd82"/><rect x="222" y="579" width="4" height="1" fill="#ffcd82"/><rect x="222" y="580" width="3" height="1" fill="#ffcd82"/><polyline points="179.5,595.5 181.5,595.5 184.5,599.5 180.5,604.5 184.5,609.5 180.5,614.5 184.5,619.5 180.5,624.5 180.5,627 180.5,628.5" fill="none" stroke="#96642d" stroke-width="1"/><rect x="185" y="597" width="2" height="1" fill="#ff82c3"/><rect x="184" y="598" width="4" height="1" fill="#ff82c3"/><rect x="184" y="599" width="4" height="1" fill="#ff82c3"/><rect x="184" y="600" width="4" height="1" fill="#ff82c3"/><rect x="185" y="601" width="2" height="1" fill="#ff82c3"/><rect x="177" y="602" width="4" height="1" fill="#96642d"/><rect x="177" y="603" width="4" height="1" fill="#96642d"/><rect x="177" y="604" width="5" height="1" fill="#96642d"/><rect x="177" y="605" width="4" height="1" fill="#96642d"/><rect x="177" y="606" width="3" height="1" fill="#96642d"/><rect x="185" y="607" width="3" height="1" fill="#96642d"/><rect x="184" y="608" width="4" height="1" fill="#96642d"/><rect x="184" y="609" width="4" height="1" fill="#96642d"/><rect x="184" y="610" width="4" height="1" fill="#96642d"/><rect x="185" y="611" width="2" height="1" fill="#96642d"/><rect x="177" y="612" width="4" height="1" fill="#96642d"/><rect x="177" y="613" width="4" height="1" fill="#96642d"/><rect x="177" y="614" width="5" height="1" fill="#96642d"/><rect x="177" y="615" width="4" height="1" fill="#96642d"/><rect x="177" y="616" width="3" height="1" fill="#96642d"/><rect x="185" y="617" width="3" height="1" fill="#96642d"/><rect x="184" y="618" width="4" height="1" fill="#96642d"/><rect x="184" y="619" width="4" height="1" fill="#96642d"/><rect x="184" y="620" width="4" height="1" fill="#96642d"/><rect x="185" y="621" width="2" height="1" fill="#96642d"/><rect x="177" y="622" width="4" height="1" fill="#96642d"/><rect x="177" y="623" width="4" height="1" fill="#96642d"/><rect x="177" y="624" width="5" height="1" fill="#96642d"/><rect x="177" y="625" width="4" height="1" fill="#96642d"/><rect x="177" y="626" width="3" height="1" fill="#96642d"/><polyline points="194.5,595.5 196.5,595.5 199.5,599.5 195.5,604.5 199.5,609.5 195.5,614.5 199.5,619.5 195.5,624.5 195.5,627 195.5,628.5" fill="none" stroke="#96642d" stroke-width="1"/><rect x="200" y="597" width="3" height="1" fill="#96642d"/><rect x="199" y="598" width="4" height="1" fill="#96642d"/><rect x="199" y="599" width="4" height="1" fill="#96642d"/><rect x="199" y="600" width="4" height="1" fill="#96642d"/><rect x="200" y="601" width="2" height="1" fill="#96642d"/><rect x="192" y="602" width="4" height="1" fill="#96642d"/><rect x="192" y="603" width="4" height="1" fill="#96642d"/><rect x="192" y="604" width="5" height="1" fill="#96642d"/><rect x="192" y="605" width="4" height="1" fill="#96642d"/><rect x="192" y="606" width="3" height="1" fill="#96642d"/><rect x="200" y="607" width="3" height="1" fill="#96642d"/><rect x="199" y="608" width="4" height="1" fill="#96642d"/><rect x="199" y="609" width="4" height="1" fill="#96642d"/><rect x="199" y="610" width="4" height="1" fill="#96642d"/><rect x="200" y="611" width="2" height="1" fill="#96642d"/><rect x="192" y="612" width="4" height="1" fill="#96642d"/><rect x="192" y="613" width="4" height="1" fill="#96642d"/><rect x="192" y="614" width="5" height="1" fill="#96642d"/><rect x="192" y="615" width="4" height="1" fill="#96642d"/><rect x="192" y="616" width="3" height="1" fill="#96642d"/><rect x="200" y="617" width="2" height="1" fill="#ff82c3"/><rect x="199" y="618" width="4" height="1" fill="#ff82c3"/><rect x="199" y="619" width="4" height="1" fill="#ff82c3"/><rect x="199" y="620" width="4" height="1" fill="#ff82c3"/><rect x="200" y="621" width="2" height="1" fill="#ff82c3"/><rect x="192" y="622" width="4" height="1" fill="#96642d"/><rect x="192" y="623" width="4" height="1" fill="#96642d"/><rect x="192" y="624" width="5" height="1" fill="#96642d"/><rect x="192" y="625" width="4" height="1" fill="#96642d"/><rect x="192" y="626" width="3" height="1" fill="#96642d"/><polyline points="209.5,595.5 211.5,595.5 214.5,599.5 210.5,604.5 214.5,609.5 210.5,614.5 214.5,619.5 210.5,624.5 210.5,627 210.5,628.5" fill="none" stroke="#96642d" stroke-width="1"/><rect x="215" y="597" width="2" height="1" fill="#ff82c3"/><rect x="214" y="598" width="4" height="1" fill="#ff82c3"/><rect x="214" y="599" width="4" height="1" fill="#ff82c3"/><rect x="214" y="600" width="4" height="1" fill="#ff82c3"/><rect x="215" y="601" width="2" height="1" fill="#ff82c3"/><rect x="207" y="602" width="4" height="1" fill="#96642d"/><rect x="207" y="603" width="4" height="1" fill="#96642d"/><rect x="207" y="604" width="5" height="1" fill="#96642d"/><rect x="207" y="605" width="4" height="1" fill="#96642d"/><rect x="207" y="606" width="3" height="1" fill="#96642d"/><rect x="215" y="607" width="3" height="1" fill="#96642d"/><rect x="214" y="608" width="4" height="1" fill="#96642d"/><rect x="214" y="609" width="4" height="1" fill="#96642d"/><rect x="214" y="610" width="4" height="1" fill="#96642d"/><rect x="215" y="611" width="2" height="1" fill="#96642d"/><rect x="207" y="612" width="4" height="1" fill="#96642d"/><rect x="207" y="613" width="4" height="1" fill="#96642d"/><rect x="207" y="614" width="5" height="1" fill="#96642d"/><rect x="207" y="615" width="4" height="1" fill="#96642d"/><rect x="207" y="616" width="3" height="1" fill="#96642d"/><rect x="215" y="617" width="3" height="1" fill="#96642d"/><rect x="214" y="618" width="4" height="1" fill="#96642d"/><rect x="214" y="619" width="4" height="1" fill="#96642d"/><rect x="214" y="620" width="4" height="1" fill="#96642d"/><rect x="215" y="621" width="2" height="1" fill="#96642d"/><rect x="207" y="622" width="4" height="1" fill="#96642d"/><rect x="207" y="623" width="4" height="1" fill="#96642d"/><rect x="207" y="624" width="5" height="1" fill="#96642d"/><rect x="207" y="625" width="4" height="1" fill="#96642d"/><rect x="207" y="626" width="3" height="1" fill="#96642d"/><polyline points="224.5,595.5 226.5,595.5 229.5,599.5 225.5,604.5 229.5,609.5 225.5,614.5 229.5,619.5 225.5,624.5 225.5,627 225.5,628.5" fill="none" stroke="#96642d" stroke-width="1"/><rect x="230" y="597" width="3" height="1" fill="#96642d"/><rect x="229" y="598" width="4" height="1" fill="#96642d"/><rect x="229" y="599" width="4" height="1" fill="#96642d"/><rect x="229" y="600" width="4" height="1" fill="#96642d"/><rect x="230" y="601" width="2" height="1" fill="#96642d"/><rect x="222" y="602" width="4" height="1" fill="#96642d"/><rect x="222" y="603" width="4" height="1" fill="#96642d"/><rect x="222" y="604" width="5" height="1" fill="#96642d"/><rect x="222" y="605" width="4" height="1" fill="#96642d"/><rect x="222" y="606" width="3" height="1" fill="#96642d"/><rect x="230" y="607" width="3" height="1" fill="#96642d"/><rect x="229" y="608" width="4" height="1" fill="#96642d"/><rect x="229" y="609" width="4" height="1" fill="#96642d"/><rect x="229" y="610" width="4" height="1" fill="#96642d"/><rect x="230" y="611" width="2" height="1" fill="#96642d"/><rect x="222" y="612" width="4" height="1" fill="#96642d"/><rect x="222" y="613" width="4" height="1" fill="#96642d"/><rect x="222" y="614" width="5" height="1" fill="#96642d"/><rect x="222" y="615" width="4" height="1" fill="#96642d"/><rect x="222" y="616" width="3" height="1" fill="#96642d"/><rect x="230" y="617" width="2" height="1" fill="#ff82c3"/><rect x="229" y="618" width="4" height="1" fill="#ff82c3"/><rect x="229" y="619" width="4" height="1" fill="#ff82c3"/><rect x="229" y="620" width="4" height="1" fill="#ff82c3"/><rect x="230" y="621" width="2" height="1" fill="#ff82c3"/><rect x="222" y="622" width="4" height="1" fill="#96642d"/><rect x="222" y="623" width="4" height="1" fill="#96642d"/><rect x="222" y="624" width="5" height="1" fill="#96642d"/><rect x="222" y="625" width="4" height="1" fill="#96642d"/><rect x="222" y="626" width="3" height="1" fill="#96642d"/><polyline points="179.5,642.5 181.5,642.5 184.5,646.5 180.5,651.5 184.5,656.5 180.5,661.5 184.5,666.5 180.5,671.5 180.5,674 180.5,675.5" fill="none" stroke="#ff9632" stroke-width="1"/><rect x="185" y="644" width="2" height="1" fill="#9600c8"/><rect x="184" y="645" width="4" height="1" fill="#9600c8"/><rect x="184" y="646" width="4" height="1" fill="#9600c8"/><rect x="184" y="647" width="4" height="1" fill="#9600c8"/><rect x="185" y="648" width="2" height="1" fill="#9600c8"/><rect x="177" y="649" width="4" height="1" fill="#ff9632"/><rect x="177" y="650" width="4" height="1" fill="#ff9632"/><rect x="177" y="651" width="5" height="1" fill="#ff9632"/><rect x="177" y="652" width="4" height="1" fill="#ff9632"/><rect x="177" y="653" width="3" height="1" fill="#ff9632"/><rect x="185" y="654" width="3" height="1" fill="#ff9632"/><rect x="184" y="655" width="4" height="1" fill="#ff9632"/><rect x="184" y="656" width="4" height="1" fill="#ff9632"/><rect x="184" y="657" width="4" height="1" fill="#ff9632"/><rect x="185" y="658" width="2" height="1" fill="#ff9632"/><rect x="177" y="659" width="4" height="1" fill="#ff9632"/><rect x="177" y="660" width="4" height="1" fill="#ff9632"/><rect x="177" y="661" width="5" height="1" fill="#ff9632"/><rect x="177" y="662" width="4" height="1" fill="#ff9632"/><rect x="177" y="663" width="3" height="1" fill="#ff9632"/><rect x="185" y="664" width="3" height="1" fill="#ff9632"/><rect x="184" y="665" width="4" height="1" fill="#ff9632"/><rect x="184" y="666" width="4" height="1" fill="#ff9632"/><rect x="184" y="667" width="4" height="1" fill="#ff9632"/><rect x="185" y="668" width="2" height="1" fill="#ff9632"/><rect x="177" y="669" width="4" height="1" fill="#ff9632"/><rect x="177" y="670" width="4" height="1" fill="#ff9632"/><rect x="177" y="671" width="5" height="1" fill="#ff9632"/><rect x="177" y="672" width="4" height="1" fill="#ff9632"/><rect x="177" y="673" width="3" height="1" fill="#ff9632"/><polyline points="194.5,642.5 196.5,642.5 199.5,646.5 195.5,651.5 199.5,656.5 195.5,661.5 199.5,666.5 195.5,671.5 195.5,674 195.5,675.5" fill="none" stroke="#ff9632" stroke-width="1"/><rect x="200" y="644" width="3" height="1" fill="#ff9632"/><rect x="199" y="645" width="4" height="1" fill="#ff9632"/><rect x="199" y="646" width="4" height="1" fill="#ff9632"/><rect x="199" y="647" width="4" height="1" fill="#ff9632"/><rect x="200" y="648" width="2" height="1" fill="#ff9632"/><rect x="192" y="649" width="4" height="1" fill="#ff9632"/><rect x="192" y="650" width="4" height="1" fill="#ff9632"/><rect x="192" y="651" width="5" height="1" fill="#ff9632"/><rect x="192" y="652" width="4" height="1" fill="#ff9632"/><rect x="192" y="653" width="3" height="1" fill="#ff9632"/><rect x="200" y="654" width="3" height="1" fill="#ff9632"/><rect x="199" y="655" width="4" height="1" fill="#ff9632"/><rect x="199" y="656" width="4" height="1" fill="#ff9632"/><rect x="199" y="657" width="4" height="1" fill="#ff9632"/><rect x="200" y="658" width="2" height="1" fill="#ff9632"/><rect x="192" y="659" width="4" height="1" fill="#ff9632"/><rect x="192" y="660" width="4" height="1" fill="#ff9632"/><rect x="192" y="661" width="5" height="1" fill="#ff9632"/><rect x="192" y="662" width="4" height="1" fill="#ff9632"/><rect x="192" y="663" width="3" height="1" fill="#ff9632"/><rect x="200" y="664" width="2" height="1" fill="#9600c8"/><rect x="199" y="665" width="4" height="1" fill="#9600c8"/><rect x="199" y="666" width="4" height="1" fill="#9600c8"/><rect x="199" y="667" width="4" height="1" fill="#9600c8"/><rect x="200" y="668" width="2" height="1" fill="#9600c8"/><rect x="192" y="669" width="4" height="1" fill="#ff9632"/><rect x="192" y="670" width="4" height="1" fill="#ff9632"/><rect x="192" y="671" width="5" height="1" fill="#ff9632"/><rect x="192" y="672" width="4" height="1" fill="#ff9632"/><rect x="192" y="673" width="3" height="1" fill="#ff9632"/><polyline points="209.5,642.5 211.5,642.5 214.5,646.5 210.5,651.5 214.5,656.5 210.5,661.5 214.5,666.5 210.5,671.5 210.5,674 210.5,675.5" fill="none" stroke="#ff9632" stroke-width="1"/><rect x="215" y="644" width="2" height="1" fill="#9600c8"/><rect x="214" y="645" width="4" height="1" fill="#9600c8"/><rect x="214" y="646" width="4" height="1" fill="#9600c8"/><rect x="214" y="647" width="4" height="1" fill="#9600c8"/><rect x="215" y="648" width="2" height="1" fill="#9600c8"/><rect x="207" y="649" width="4" height="1" fill="#ff9632"/><rect x="207" y="650" width="4" height="1" fill="#ff9632"/><rect x="207" y="651" width="5" height="1" fill="#ff9632"/><rect x="207" y="652" width="4" height="1" fill="#ff9632"/><rect x="207" y="653" width="3" height="1" fill="#ff9632"/><rect x="215" y="654" width="3" height="1" fill="#ff9632"/><rect x="214" y="655" width="4" height="1" fill="#ff9632"/><rect x="214" y="656" width="4" height="1" fill="#ff9632"/><rect x="214" y="657" width="4" height="1" fill="#ff9632"/><rect x="215" y="658" width="2" height="1" fill="#ff9632"/><rect x="207" y="659" width="4" height="1" fill="#ff9632"/><rect x="207" y="660" width="4" height="1" fill="#ff9632"/><rect x="207" y="661" width="5" height="1" fill="#ff9632"/><rect x="207" y="662" width="4" height="1" fill="#ff9632"/><rect x="207" y="663" width="3" height="1" fill="#ff9632"/><rect x="215" y="664" width="3" height="1" fill="#ff9632"/><rect x="214" y="665" width="4" height="1" fill="#ff9632"/><rect x="214" y="666" width="4" height="1" fill="#ff9632"/><rect x="214" y="667" width="4" height="1" fill="#ff9632"/><rect x="215" y="668" width="2" height="1" fill="#ff9632"/><rect x="207" y="669" width="4" height="1" fill="#ff9632"/><rect x="207" y="670" width="4" height="1" fill="#ff9632"/><rect x="207" y="671" width="5" height="1" fill="#ff9632"/><rect x="207" y="672" width="4" height="1" fill="#ff9632"/><rect x="207" y="673" width="3" height="1" fill="#ff9632"/><polyline points="224.5,642.5 226.5,642.5 229.5,646.5 225.5,651.5 229.5,656.5 225.5,661.5 229.5,666.5 225.5,671.5 225.5,674 225.5,675.5" fill="none" stroke="#ff9632" stroke-width="1"/><rect x="230" y="644" width="3" height="1" fill="#ff9632"/><rect x="229" y="645" width="4" height="1" fill="#ff9632"/><rect x="229" y="646" width="4" height="1" fill="#ff9632"/><rect x="229" y="647" width="4" height="1" fill="#ff9632"/><rect x="230" y="648" width="2" height="1" fill="#ff9632"/><rect x="222" y="649" width="4" height="1" fill="#ff9632"/><rect x="222" y="650" width="4" height="1" fill="#ff9632"/><rect x="222" y="651" width="5" height="1" fill="#ff9632"/><rect x="222" y="652" width="4" height="1" fill="#ff9632"/><rect x="222" y="653" width="3" height="1" fill="#ff9632"/><rect x="230" y="654" width="3" height="1" fill="#ff9632"/><rect x="229" y="655" width="4" height="1" fill="#ff9632"/><rect x="229" y="656" width="4" height="1" fill="#ff9632"/><rect x="229" y="657" width="4" height="1" fill="#ff9632"/><rect x="230" y="658" width="2" height="1" fill="#ff9632"/><rect x="222" y="659" width="4" height="1" fill="#ff9632"/><rect x="222" y="660" width="4" height="1" fill="#ff9632"/><rect x="222" y="661" width="5" height="1" fill="#ff9632"/><rect x="222" y="662" width="4" height="1" fill="#ff9632"/><rect x="222" y="663" width="3" height="1" fill="#ff9632"/><rect x="230" y="664" width="2" height="1" fill="#9600c8"/><rect x="229" y="665" width="4" height="1" fill="#9600c8"/><rect x="229" y="666" width="4" height="1" fill="#9600c8"/><rect x="229" y="667" width="4" height="1" fill="#9600c8"/><rect x="230" y="668" width="2" height="1" fill="#9600c8"/><rect x="222" y="669" width="4" height="1" fill="#ff9632"/><rect x="222" y="670" width="4" height="1" fill="#ff9632"/><rect x="222" y="671" width="5" height="1" fill="#ff9632"/><rect x="222" y="672" width="4" height="1" fill="#ff9632"/><rect x="222" y="673" width="3" height="1" fill="#ff9632"/><polyline points="179.5,688.5 181.5,688.5 184.5,692.5 180.5,697.5 184.5,702.5 180.5,707.5 184.5,712.5 180.5,717.5 180.5,720 180.5,721.5" fill="none" stroke="#000096" stroke-width="1"/><rect x="185" y="690" width="2" height="1" fill="#960000"/><rect x="184" y="691" width="4" height="1" fill="#960000"/><rect x="184" y="692" width="4" height="1" fill="#960000"/><rect x="184" y="693" width="4" height="1" fill="#960000"/><rect x="185" y="694" width="2" height="1" fill="#960000"/><rect x="177" y="695" width="4" height="1" fill="#000096"/><rect x="177" y="696" width="4" height="1" fill="#000096"/><rect x="177" y="697" width="5" height="1" fill="#000096"/><rect x="177" y="698" width="4" height="1" fill="#000096"/><rect x="177" y="699" width="3" height="1" fill="#000096"/><rect x="185" y="700" width="3" height="1" fill="#000096"/><rect x="184" y="701" width="4" height="1" fill="#000096"/><rect x="184" y="702" width="4" height="1" fill="#000096"/><rect x="184" y="703" width="4" height="1" fill="#000096"/><rect x="185" y="704" width="2" height="1" fill="#000096"/><rect x="177" y="705" width="4" height="1" fill="#000096"/><rect x="177" y="706" width="4" height="1" fill="#000096"/><rect x="177" y="707" width="5" height="1" fill="#000096"/><rect x="177" y="708" width="4" height="1" fill="#000096"/><rect x="177" y="709" width="3" height="1" fill="#000096"/><rect x="185" y="710" width="3" height="1" fill="#000096"/><rect x="184" y="711" width="4" height="1" fill="#000096"/><rect x="184" y="712" width="4" height="1" fill="#000096"/><rect x="184" y="713" width="4" height="1" fill="#000096"/><rect x="185" y="714" width="2" height="1" fill="#000096"/><rect x="177" y="715" width="4" height="1" fill="#000096"/><rect x="177" y="716" width="4" height="1" fill="#000096"/><rect x="177" y="717" width="5" height="1" fill="#000096"/><rect x="177" y="718" width="4" height="1" fill="#000096"/><rect x="177" y="719" width="3" height="1" fill="#000096"/><polyline points="194.5,688.5 196.5,688.5 199.5,692.5 195.5,697.5 199.5,702.5 195.5,707.5 199.5,712.5 195.5,717.5 195.5,720 195.5,721.5" fill="none" stroke="#000096" stroke-width="1"/><rect x="200" y="690" width="3" height="1" fill="#000096"/><rect x="199" y="691" width="4" height="1" fill="#000096"/><rect x="199" y="692" width="4" height="1" fill="#000096"/><rect x="199" y="693" width="4" height="1" fill="#000096"/><rect x="200" y="694" width="2" height="1" fill="#000096"/><rect x="192" y="695" width="4" height="1" fill="#000096"/><rect x="192" y="696" width="4" height="1" fill="#000096"/><rect x="192" y="697" width="5" height="1" fill="#000096"/><rect x="192" y="698" width="4" height="1" fill="#000096"/><rect x="192" y="699" width="3" height="1" fill="#000096"/><rect x="200" y="700" width="3" height="1" fill="#000096"/><rect x="199" y="701" width="4" height="1" fill="#000096"/><rect x="199" y="702" width="4" height="1" fill="#000096"/><rect x="199" y="703" width="4" height="1" fill="#000096"/><rect x="200" y="704" width="2" height="1" fill="#000096"/><rect x="192" y="705" width="4" height="1" fill="#000096"/><rect x="192" y="706" width="4" height="1" fill="#000096"/><rect x="192" y="707" width="5" height="1" fill="#000096"/><rect x="192" y="708" width="4" height="1" fill="#000096"/><rect x="192" y="709" width="3" height="1" fill="#000096"/><rect x="200" y="710" width="2" height="1" fill="#960000"/><rect x="199" y="711" width="4" height="1" fill="#960000"/><rect x="199" y="712" width="4" height="1" fill="#960000"/><rect x="199" y="713" width="4" height="1" fill="#960000"/><rect x="200" y="714" width="2" height="1" fill="#960000"/><rect x="192" y="715" width="4" height="1" fill="#000096"/><rect x="192" y="716" width="4" height="1" fill="#000096"/><rect x="192" y="717" width="5" height="1" fill="#000096"/><rect x="192" y="718" width="4" height="1" fill="#000096"/><rect x="192" y="719" width="3" height="1" fill="#000096"/><polyline points="209.5,688.5 211.5,688.5 214.5,692.5 210.5,697.5 214.5,702.5 210.5,707.5 214.5,712.5 210.5,717.5 210.5,720 210.5,721.5" fill="none" stroke="#000096" stroke-width="1"/><rect x="215" y="690" width="2" height="1" fill="#960000"/><rect x="214" y="691" width="4" height="1" fill="#960000"/><rect x="214" y="692" width="4" height="1" fill="#960000"/><rect x="214" y="693" width="4" height="1" fill="#960000"/><rect x="215" y="694" width="2" height="1" fill="#960000"/><rect x="207" y="695" width="4" height="1" fill="#000096"/><rect x="207" y="696" width="4" height="1" fill="#000096"/><rect x="207" y="697" width="5" height="1" fill="#000096"/><rect x="207" y="698" width="4" height="1" fill="#000096"/><rect x="207" y="699" width="3" height="1" fill="#000096"/><rect x="215" y="700" width="3" height="1" fill="#000096"/><rect x="214" y="701" width="4" height="1" fill="#000096"/><rect x="214" y="702" width="4" height="1" fill="#000096"/><rect x="214" y="703" width="4" height="1" fill="#000096"/><rect x="215" y="704" width="2" height="1" fill="#000096"/><rect x="207" y="705" width="4" height="1" fill="#000096"/><rect x="207" y="706" width="4" height="1" fill="#000096"/><rect x="207" y="707" width="5" height="1" fill="#000096"/><rect x="207" y="708" width="4" height="1" fill="#000096"/><rect x="207" y="709" width="3" height="1" fill="#000096"/><rect x="215" y="710" width="3" height="1" fill="#000096"/><rect x="214" y="711" width="4" height="1" fill="#000096"/><rect x="214" y="712" width="4" height="1" fill="#000096"/><rect x="214" y="713" width="4" height="1" fill="#000096"/><rect x="215" y="714" width="2" height="1" fill="#000096"/><rect x="207" y="715" width="4" height="1" fill="#000096"/><rect x="207" y="716" width="4" height="1" fill="#000096"/><rect x="207" y="717" width="5" height="1" fill="#000096"/><rect x="207" y="718" width="4" height="1" fill="#000096"/><rect x="207" y="719" width="3" height="1" fill="#000096"/><polyline points="224.5,688.5 226.5,688.5 229.5,692.5 225.5,697.5 229.5,702.5 225.5,707.5 229.5,712.5 225.5,717.5 225.5,720 225.5,721.5" fill="none" stroke="#000096" stroke-width="1"/><rect x="230" y="690" width="3" height="1" fill="#000096"/><rect x="229" y="691" width="4" height="1" fill="#000096"/><rect x="229" y="692" width="4" height="1" fill="#000096"/><rect x="229" y="693" width="4" height="1" fill="#000096"/><rect x="230" y="694" width="2" height="1" fill="#000096"/><rect x="222" y="695" width="4" height="1" fill="#000096"/><rect x="222" y="696" width="4" height="1" fill="#000096"/><rect x="222" y="697" width="5" height="1" fill="#000096"/><rect x="222" y="698" width="4" height="1" fill="#000096"/><rect x="222" y="699" width="3" height="1" fill="#000096"/><rect x="230" y="700" width="3" height="1" fill="#000096"/><rect x="229" y="701" width="4" height="1" fill="#000096"/><rect x="229" y="702" width="4" height="1" fill="#000096"/><rect x="229" y="703" width="4" height="1" fill="#000096"/><rect x="230" y="704" width="2" height="1" fill="#000096"/><rect x="222" y="705" width="4" height="1" fill="#000096"/><rect x="222" y="706" width="4" height="1" fill="#000096"/><rect x="222" y="707" width="5" height="1" fill="#000096"/><rect x="222" y="708" width="4" height="1" fill="#000096"/><rect x="222" y="709" width="3" height="1" fill="#000096"/><rect x="230" y="710" width="2" height="1" fill="#960000"/><rect x="229" y="711" width="4" height="1" fill="#960000"/><rect x="229" y="712" width="4" height="1" fill="#960000"/><rect x="229" y="713" width="4" height="1" fill="#960000"/><rect x="230" y="714" width="2" height="1" fill="#960000"/><rect x="222" y="715" width="4" height="1" fill="#000096"/><rect x="222" y="716" width="4" height="1" fill="#000096"/><rect x="222" y="717" width="5" height="1" fill="#000096"/><rect x="222" y="718" width="4" height="1" fill="#000096"/><rect x="222" y="719" width="3" height="1" fill="#000096"/><polyline points="179.5,735.5 181.5,735.5 184.5,739.5 180.5,744.5 184.5,749.5 180.5,754.5 184.5,759.5 180.5,764.5 180.5,767 180.5,768.5" fill="none" stroke="#000000" stroke-width="1"/><rect x="177" y="742" width="4" height="1" fill="#000000"/><rect x="177" y="743" width="4" height="1" fill="#000000"/><rect x="177" y="744" width="5" height="1" fill="#000000"/><rect x="177" y="745" width="4" height="1" fill="#000000"/><rect x="177" y="746" width="3" height="1" fill="#000000"/><rect x="185" y="747" width="3" height="1" fill="#000000"/><rect x="184" y="748" width="4" height="1" fill="#000000"/><rect x="184" y="749" width="4" height="1" fill="#000000"/><rect x="184" y="750" width="4" height="1" fill="#000000"/><rect x="185" y="751" width="2" height="1" fill="#000000"/><rect x="177" y="752" width="4" height="1" fill="#000000"/><rect x="177" y="753" width="4" height="1" fill="#000000"/><rect x="177" y="754" width="5" height="1" fill="#000000"/><rect x="177" y="755" width="4" height="1" fill="#000000"/><rect x="177" y="756" width="3" height="1" fill="#000000"/><rect x="185" y="757" width="3" height="1" fill="#000000"/><rect x="184" y="758" width="4" height="1" fill="#000000"/><rect x="184" y="759" width="4" height="1" fill="#000000"/><rect x="184" y="760" width="4" height="1" fill="#000000"/><rect x="185" y="761" width="2" height="1" fill="#000000"/><rect x="177" y="762" width="4" height="1" fill="#000000"/><rect x="177" y="763" width="4" height="1" fill="#000000"/><rect x="177" y="764" width="5" height="1" fill="#000000"/><rect x="177" y="765" width="4" height="1" fill="#000000"/><rect x="177" y="766" width="3" height="1" fill="#000000"/><polyline points="194.5,735.5 196.5,735.5 199.5,739.5 195.5,744.5 199.5,749.5 195.5,754.5 199.5,759.5 195.5,764.5 195.5,767 195.5,768.5" fill="none" stroke="#000000" stroke-width="1"/><rect x="200" y="737" width="3" height="1" fill="#000000"/><rect x="199" y="738" width="4" height="1" fill="#000000"/><rect x="199" y="739" width="4" height="1" fill="#000000"/><rect x="199" y="740" width="4" height="1" fill="#000000"/><rect x="200" y="741" width="2" height="1" fill="#000000"/><rect x="192" y="742" width="4" height="1" fill="#000000"/><rect x="192" y="743" width="4" height="1" fill="#000000"/><rect x="192" y="744" width="5" height="1" fill="#000000"/><rect x="192" y="745" width="4" height="1" fill="#000000"/><rect x="192" y="746" width="3" height="1" fill="#000000"/><rect x="200" y="747" width="3" height="1" fill="#000000"/><rect x="199" y="748" width="4" height="1" fill="#000000"/><rect x="199" y="749" width="4" height="1" fill="#000000"/><rect x="199" y="750" width="4" height="1" fill="#000000"/><rect x="200" y="751" width="2" height="1" fill="#000000"/><rect x="192" y="752" width="4" height="1" fill="#000000"/><rect x="192" y="753" width="4" height="1" fill="#000000"/><rect x="192" y="754" width="5" height="1" fill="#000000"/><rect x="192" y="755" width="4" height="1" fill="#000000"/><rect x="192" y="756" width="3" height="1" fill="#000000"/><rect x="192" y="762" width="4" height="1" fill="#000000"/><rect x="192" y="763" width="4" height="1" fill="#000000"/><rect x="192" y="764" width="5" height="1" fill="#000000"/><rect x="192" y="765" width="4" height="1" fill="#000000"/><rect x="192" y="766" width="3" height="1" fill="#000000"/><polyline points="209.5,735.5 211.5,735.5 214.5,739.5 210.5,744.5 214.5,749.5 210.5,754.5 214.5,759.5 210.5,764.5 210.5,767 210.5,768.5" fill="none" stroke="#000000" stroke-width="1"/><rect x="207" y="742" width="4" height="1" fill="#000000"/><rect x="207" y="743" width="4" height="1" fill="#000000"/><rect x="207" y="744" width="5" height="1" fill="#000000"/><rect x="207" y="745" width="4" height="1" fill="#000000"/><rect x="207" y="746" width="3" height="1" fill="#000000"/><rect x="215" y="747" width="3" height="1" fill="#000000"/><rect x="214" y="748" width="4" height="1" fill="#000000"/><rect x="214" y="749" width="4" height="1" fill="#000000"/><rect x="214" y="750" width="4" height="1" fill="#000000"/><rect x="215" y="751" width="2" height="1" fill="#000000"/><rect x="207" y="752" width="4" height="1" fill="#000000"/><rect x="207" y="753" width="4" height="1" fill="#000000"/><rect x="207" y="754" width="5" height="1" fill="#000000"/><rect x="207" y="755" width="4" height="1" fill="#000000"/><rect x="207" y="756" width="3" height="1" fill="#000000"/><rect x="215" y="757" width="3" height="1" fill="#000000"/><rect x="214" y="758" width="4" height="1" fill="#000000"/><rect x="214" y="759" width="4" height="1" fill="#000000"/><rect x="214" y="760" width="4" height="1" fill="#000000"/><rect x="215" y="761" width="2" height="1" fill="#000000"/><rect x="207" y="762" width="4" height="1" fill="#000000"/><rect x="207" y="763" width="4" height="1" fill="#000000"/><rect x="207" y="764" width="5" height="1" fill="#000000"/><rect x="207" y="765" width="4" height="1" fill="#000000"/><rect x="207" y="766" width="3" height="1" fill="#000000"/><polyline points="224.5,735.5 226.5,735.5 229.5,739.5 225.5,744.5 229.5,749.5 225.5,754.5 229.5,759.5 225.5,764.5 225.5,767 225.5,768.5" fill="none" stroke="#000000" stroke-width="1"/><rect x="230" y="737" width="3" height="1" fill="#000000"/><rect x="229" y="738" width="4" height="1" fill="#000000"/><rect x="229" y="739" width="4" height="1" fill="#000000"/><rect x="229" y="740" width="4" height="1" fill="#000000"/><rect x="230" y="741" width="2" height="1" fill="#000000"/><rect x="222" y="742" width="4" height="1" fill="#000000"/><rect x="222" y="743" width="4" height="1" fill="#000000"/><rect x="222" y="744" width="5" height="1" fill="#000000"/><rect x="222" y="745" width="4" height="1" fill="#000000"/><rect x="222" y="746" width="3" height="1" fill="#000000"/><rect x="230" y="747" width="3" height="1" fill="#000000"/><rect x="229" y="748" width="4" height="1" fill="#000000"/><rect x="229" y="749" width="4" height="1" fill="#000000"/><rect x="229" y="750" width="4" height="1" fill="#000000"/><rect x="230" y="751" width="2" height="1" fill="#000000"/><rect x="222" y="752" width="4" height="1" fill="#000000"/><rect x="222" y="753" width="4" height="1" fill="#000000"/><rect x="222" y="754" width="5" height="1" fill="#000000"/><rect x="222" y="755" width="4" height="1" fill="#000000"/><rect x="222" y="756" width="3" height="1" fill="#000000"/><rect x="222" y="762" width="4" height="1" fill="#000000"/><rect x="222" y="763" width="4" height="1" fill="#000000"/><rect x="222" y="764" width="5" height="1" fill="#000000"/><rect x="222" y="765" width="4" height="1" fill="#000000"/><rect x="222" y="766" width="3" height="1" fill="#000000"/><polygon points="170,165 168,165 168,166 166,166 166,168 168,168 168,169 169,169 169,173 168,173 168,174 166,174 166,176 168,176 168,175 169,175 169,177 173,177 174,176 177,176 178,177 184,177 185,176 188,176 189,177 196,177 197,176 203,176 204,177 212,177 213,176 218,176 219,177 226,177 227,176 229,176 229,177 234,177 234,176 236,176 236,175 237,175 237,174 236,174 236,173 235,173 235,172 236,172 236,171 237,171 237,170 236,170 236,169 235,169 235,168 233,168 233,165 232,165 232,164 231,164 231,165 227,165 227,164 223,164 222,165 219,165 218,164 212,164 211,165 205,165 204,164 198,164 197,165 191,165 190,164 183,164 182,165 176,165 175,164 172,164 171,165" fill="#ff82c3"/><rect x="170" y="166" width="2" height="2" fill="#fff"/><rect x="230" y="171" width="4" height="1" fill="#fff"/><rect x="230" y="174" width="4" height="1" fill="#fff"/><rect x="183" y="168" width="1" height="1" fill="#fff"/><rect x="184" y="174" width="1" height="1" fill="#fff"/><rect x="218" y="174" width="1" height="1" fill="#fff"/><polygon points="170,211 168,211 168,212 166,212 166,214 168,214 168,215 169,215 169,219 168,219 168,220 166,220 166,222 168,222 168,221 169,221 169,223 173,223 174,222 177,222 178,223 184,223 185,222 188,222 189,223 196,223 197,222 203,222 204,223 212,223 213,222 218,222 219,223 226,223 227,222 229,222 229,223 234,223 234,222 236,222 236,221 237,221 237,220 236,220 236,219 235,219 235,218 236,218 236,217 237,217 237,216 236,216 236,215 235,215 235,214 233,214 233,211 232,211 232,210 231,210 231,211 227,211 227,210 223,210 222,211 219,211 218,210 212,210 211,211 205,211 204,210 198,210 197,211 191,211 190,210 183,210 182,211 176,211 175,210 172,210 171,211" fill="#9600c8"/><rect x="170" y="212" width="2" height="2" fill="#fff"/><rect x="230" y="217" width="4" height="1" fill="#fff"/><rect x="230" y="220" width="4" height="1" fill="#fff"/><rect x="183" y="214" width="1" height="1" fill="#fff"/><rect x="184" y="220" width="1" height="1" fill="#fff"/><rect x="218" y="220" width="1" height="1" fill="#fff"/><polygon points="170,258 168,258 168,259 166,259 166,261 168,261 168,262 169,262 169,266 168,266 168,267 166,267 166,269 168,269 168,268 169,268 169,270 173,270 174,269 177,269 178,270 184,270 185,269 188,269 189,270 196,270 197,269 203,269 204,270 212,270 213,269 218,269 219,270 226,270 227,269 229,269 229,270 234,270 234,269 236,269 236,268 237,268 237,267 236,267 236,266 235,266 235,265 236,265 236,264 237,264 237,263 236,263 236,262 235,262 235,261 233,261 233,258 232,258 232,257 231,257 231,258 227,258 227,257 223,257 222,258 219,258 218,257 212,257 211,258 205,258 204,257 198,257 197,258 191,258 190,257 183,257 182,258 176,258 175,257 172,257 171,258" fill="#960000"/><rect x="170" y="259" width="2" height="2" fill="#fff"/><rect x="230" y="264" width="4" height="1" fill="#fff"/><rect x="230" y="267" width="4" height="1" fill="#fff"/><rect x="183" y="261" width="1" height="1" fill="#fff"/><rect x="184" y="267" width="1" height="1" fill="#fff"/><rect x="218" y="267" width="1" height="1" fill="#fff"/><polygon points="170,351 168,351 168,352 166,352 166,354 168,354 168,355 169,355 169,359 168,359 168,360 166,360 166,362 168,362 168,361 169,361 169,363 173,363 174,362 177,362 178,363 184,363 185,362 188,362 189,363 196,363 197,362 203,362 204,363 212,363 213,362 218,362 219,363 226,363 227,362 229,362 229,363 234,363 234,362 236,362 236,361 237,361 237,360 236,360 236,359 235,359 235,358 236,358 236,357 237,357 237,356 236,356 236,355 235,355 235,354 233,354 233,351 232,351 232,350 231,350 231,351 227,351 227,350 223,350 222,351 219,351 218,350 212,350 211,351 205,351 204,350 198,350 197,351 191,351 190,350 183,350 182,351 176,351 175,350 172,350 171,351" fill="#00ff00"/><rect x="170" y="352" width="2" height="2" fill="#fff"/><rect x="230" y="357" width="4" height="1" fill="#fff"/><rect x="230" y="360" width="4" height="1" fill="#fff"/><rect x="183" y="354" width="1" height="1" fill="#fff"/><rect x="184" y="360" width="1" height="1" fill="#fff"/><rect x="218" y="360" width="1" height="1" fill="#fff"/><polygon points="170,397 168,397 168,398 166,398 166,400 168,400 168,401 169,401 169,405 168,405 168,406 166,406 166,408 168,408 168,407 169,407 169,409 173,409 174,408 177,408 178,409 184,409 185,408 188,408 189,409 196,409 197,408 203,408 204,409 212,409 213,408 218,408 219,409 226,409 227,408 229,408 229,409 234,409 234,408 236,408 236,407 237,407 237,406 236,406 236,405 235,405 235,404 236,404 236,403 237,403 237,402 236,402 236,401 235,401 235,400 233,400 233,397 232,397 232,396 231,396 231,397 227,397 227,396 223,396 222,397 219,397 218,396 212,396 211,397 205,397 204,396 198,396 197,397 191,397 190,396 183,396 182,397 176,397 175,396 172,396 171,397" fill="#00ffff"/><rect x="170" y="398" width="2" height="2" fill="#fff"/><rect x="230" y="403" width="4" height="1" fill="#fff"/><rect x="230" y="406" width="4" height="1" fill="#fff"/><rect x="183" y="400" width="1" height="1" fill="#fff"/><rect x="184" y="406" width="1" height="1" fill="#fff"/><rect x="218" y="406" width="1" height="1" fill="#fff"/><polygon points="170,444 168,444 168,445 166,445 166,447 168,447 168,448 169,448 169,452 168,452 168,453 166,453 166,455 168,455 168,454 169,454 169,456 173,456 174,455 177,455 178,456 184,456 185,455 188,455 189,456 196,456 197,455 203,455 204,456 212,456 213,455 218,455 219,456 226,456 227,455 229,455 229,456 234,456 234,455 236,455 236,454 237,454 237,453 236,453 236,452 235,452 235,451 236,451 236,450 237,450 237,449 236,449 236,448 235,448 235,447 233,447 233,444 232,444 232,443 231,443 231,444 227,444 227,443 223,443 222,444 219,444 218,443 212,443 211,444 205,444 204,443 198,443 197,444 191,444 190,443 183,443 182,444 176,444 175,443 172,443 171,444" fill="#ff0000"/><rect x="170" y="445" width="2" height="2" fill="#fff"/><rect x="230" y="450" width="4" height="1" fill="#fff"/><rect x="230" y="453" width="4" height="1" fill="#fff"/><rect x="183" y="447" width="1" height="1" fill="#fff"/><rect x="184" y="453" width="1" height="1" fill="#fff"/><rect x="218" y="453" width="1" height="1" fill="#fff"/><polygon points="170,491 168,491 168,492 166,492 166,494 168,494 168,495 169,495 169,499 168,499 168,500 166,500 166,502 168,502 168,501 169,501 169,503 173,503 174,502 177,502 178,503 184,503 185,502 188,502 189,503 196,503 197,502 203,502 204,503 212,503 213,502 218,502 219,503 226,503 227,502 229,502 229,503 234,503 234,502 236,502 236,501 237,501 237,500 236,500 236,499 235,499 235,498 236,498 236,497 237,497 237,496 236,496 236,495 235,495 235,494 233,494 233,491 232,491 232,490 231,490 231,491 227,491 227,490 223,490 222,491 219,491 218,490 212,490 211,491 205,491 204,490 198,490 197,491 191,491 190,490 183,490 182,491 176,491 175,490 172,490 171,491" fill="#8282ff"/><rect x="170" y="492" width="2" height="2" fill="#fff"/><rect x="230" y="497" width="4" height="1" fill="#fff"/><rect x="230" y="500" width="4" height="1" fill="#fff"/><rect x="183" y="494" width="1" height="1" fill="#fff"/><rect x="184" y="500" width="1" height="1" fill="#fff"/><rect x="218" y="500" width="1" height="1" fill="#fff"/><polygon points="170,537 168,537 168,538 166,538 166,540 168,540 168,541 169,541 169,545 168,545 168,546 166,546 166,548 168,548 168,547 169,547 169,549 173,549 174,548 177,548 178,549 184,549 185,548 188,548 189,549 196,549 197,548 203,548 204,549 212,549 213,548 218,548 219,549 226,549 227,548 229,548 229,549 234,549 234,548 236,548 236,547 237,547 237,546 236,546 236,545 235,545 235,544 236,544 236,543 237,543 237,542 236,542 236,541 235,541 235,540 233,540 233,537 232,537 232,536 231,536 231,537 227,537 227,536 223,536 222,537 219,537 218,536 212,536 211,537 205,537 204,536 198,536 197,537 191,537 190,536 183,536 182,537 176,537 175,536 172,536 171,537" fill="#646464"/><rect x="170" y="538" width="2" height="2" fill="#fff"/><rect x="230" y="543" width="4" height="1" fill="#fff"/><rect x="230" y="546" width="4" height="1" fill="#fff"/><rect x="183" y="540" width="1" height="1" fill="#fff"/><rect x="184" y="546" width="1" height="1" fill="#fff"/><rect x="218" y="546" width="1" height="1" fill="#fff"/><polygon points="170,584 168,584 168,585 166,585 166,587 168,587 168,588 169,588 169,592 168,592 168,593 166,593 166,595 168,595 168,594 169,594 169,596 173,596 174,595 177,595 178,596 184,596 185,595 188,595 189,596 196,596 197,595 203,595 204,596 212,596 213,595 218,595 219,596 226,596 227,595 229,595 229,596 234,596 234,595 236,595 236,594 237,594 237,593 236,593 236,592 235,592 235,591 236,591 236,590 237,590 237,589 236,589 236,588 235,588 235,587 233,587 233,584 232,584 232,583 231,583 231,584 227,584 227,583 223,583 222,584 219,584 218,583 212,583 211,584 205,584 204,583 198,583 197,584 191,584 190,583 183,583 182,584 176,584 175,583 172,583 171,584" fill="#ffcd82"/><rect x="170" y="585" width="2" height="2" fill="#fff"/><rect x="230" y="590" width="4" height="1" fill="#fff"/><rect x="230" y="593" width="4" height="1" fill="#fff"/><rect x="183" y="587" width="1" height="1" fill="#fff"/><rect x="184" y="593" width="1" height="1" fill="#fff"/><rect x="218" y="593" width="1" height="1" fill="#fff"/><polygon points="170,630 168,630 168,631 166,631 166,633 168,633 168,634 169,634 169,638 168,638 168,639 166,639 166,641 168,641 168,640 169,640 169,642 173,642 174,641 177,641 178,642 184,642 185,641 188,641 189,642 196,642 197,641 203,641 204,642 212,642 213,641 218,641 219,642 226,642 227,641 229,641 229,642 234,642 234,641 236,641 236,640 237,640 237,639 236,639 236,638 235,638 235,637 236,637 236,636 237,636 237,635 236,635 236,634 235,634 235,633 233,633 233,630 232,630 232,629 231,629 231,630 227,630 227,629 223,629 222,630 219,630 218,629 212,629 211,630 205,630 204,629 198,629 197,630 191,630 190,629 183,629 182,630 176,630 175,629 172,629 171,630" fill="#96642d"/><rect x="170" y="631" width="2" height="2" fill="#fff"/><rect x="230" y="636" width="4" height="1" fill="#fff"/><rect x="230" y="639" width="4" height="1" fill="#fff"/><rect x="183" y="633" width="1" height="1" fill="#fff"/><rect x="184" y="639" width="1" height="1" fill="#fff"/><rect x="218" y="639" width="1" height="1" fill="#fff"/><polygon points="170,677 168,677 168,678 166,678 166,680 168,680 168,681 169,681 169,685 168,685 168,686 166,686 166,688 168,688 168,687 169,687 169,689 173,689 174,688 177,688 178,689 184,689 185,688 188,688 189,689 196,689 197,688 203,688 204,689 212,689 213,688 218,688 219,689 226,689 227,688 229,688 229,689 234,689 234,688 236,688 236,687 237,687 237,686 236,686 236,685 235,685 235,684 236,684 236,683 237,683 237,682 236,682 236,681 235,681 235,680 233,680 233,677 232,677 232,676 231,676 231,677 227,677 227,676 223,676 222,677 219,677 218,676 212,676 211,677 205,677 204,676 198,676 197,677 191,677 190,676 183,676 182,677 176,677 175,676 172,676 171,677" fill="#ff9632"/><rect x="170" y="678" width="2" height="2" fill="#fff"/><rect x="230" y="683" width="4" height="1" fill="#fff"/><rect x="230" y="686" width="4" height="1" fill="#fff"/><rect x="183" y="680" width="1" height="1" fill="#fff"/><rect x="184" y="686" width="1" height="1" fill="#fff"/><rect x="218" y="686" width="1" height="1" fill="#fff"/><polygon points="170,723 168,723 168,724 166,724 166,726 168,726 168,727 169,727 169,731 168,731 168,732 166,732 166,734 168,734 168,733 169,733 169,735 173,735 174,734 177,734 178,735 184,735 185,734 188,734 189,735 196,735 197,734 203,734 204,735 212,735 213,734 218,734 219,735 226,735 227,734 229,734 229,735 234,735 234,734 236,734 236,733 237,733 237,732 236,732 236,731 235,731 235,730 236,730 236,729 237,729 237,728 236,728 236,727 235,727 235,726 233,726 233,723 232,723 232,722 231,722 231,723 227,723 227,722 223,722 222,723 219,723 218,722 212,722 211,723 205,723 204,722 198,722 197,723 191,723 190,722 183,722 182,723 176,723 175,722 172,722 171,723" fill="#000096"/><rect x="170" y="724" width="2" height="2" fill="#fff"/><rect x="230" y="729" width="4" height="1" fill="#fff"/><rect x="230" y="732" width="4" height="1" fill="#fff"/><rect x="183" y="726" width="1" height="1" fill="#fff"/><rect x="184" y="732" width="1" height="1" fill="#fff"/><rect x="218" y="732" width="1" height="1" fill="#fff"/><polygon points="170,769 168,769 168,770 166,770 166,772 168,772 168,773 169,773 169,777 168,777 168,778 166,778 166,780 168,780 168,779 169,779 169,781 173,781 174,780 177,780 178,781 184,781 185,780 188,780 189,781 196,781 197,780 203,780 204,781 212,781 213,780 218,780 219,781 226,781 227,780 229,780 229,781 234,781 234,780 236,780 236,779 237,779 237,778 236,778 236,777 235,777 235,776 236,776 236,775 237,775 237,774 236,774 236,773 235,773 235,772 233,772 233,769 232,769 232,768 231,768 231,769 227,769 227,768 223,768 222,769 219,769 218,768 212,768 211,769 205,769 204,768 198,768 197,769 191,769 190,768 183,768 182,769 176,769 175,768 172,768 171,769" fill="#000000"/><rect x="170" y="770" width="2" height="2" fill="#fff"/><rect x="230" y="775" width="4" height="1" fill="#fff"/><rect x="230" y="778" width="4" height="1" fill="#fff"/><rect x="183" y="772" width="1" height="1" fill="#fff"/><rect x="184" y="778" width="1" height="1" fill="#fff"/><rect x="218" y="778" width="1" height="1" fill="#fff"/><polygon points="170,785 172,785 172,783 236,783 236,788 174,788 173,787 171,787" fill="#000"/><rect x="176" y="781" width="8" height="1" fill="#000"/><rect x="191" y="781" width="8" height="1" fill="#000"/><rect x="206" y="781" width="8" height="1" fill="#000"/><rect x="221" y="781" width="8" height="1" fill="#000"/><polygon points="169,846 178,846 183,841 187,846 194,846 197,842 199,842 199,787 177,787 168,796 163,802 163,803 166.5,808 166.5,818 163,822.5 163,823.5 166.5,829 166.5,839" fill="#ff00ff"/><polygon points="197,846 209,846 213,841 217,846 227,846 228,845 228,840 225,839 225,837 228,835 228,831 225,824 225,822 228,817 228,810 225,804 225,802 228,797 229,796 236.5,787 192.5,787 195.5,791 198.5,794.5 193.5,802.5 198.5,813 193.5,823.5 198.5,833.5 196,841" fill="#ff0000"/><polygon points="177.5,845 181,845 184.5,837.5 182.5,836.5 179,841" fill="#fff"/><polygon points="183,842 186,845 186.5,843 184.5,840" fill="#fff"/><polygon points="192.5,845 196,845 199.5,837.5 197.5,836.5 194,841" fill="#fff"/><polygon points="198,842 201,845 201.5,843 199.5,840" fill="#fff"/><polygon points="207.5,845 211,845 214.5,837.5 212.5,836.5 209,841" fill="#fff"/><polygon points="213,842 216,845 216.5,843 214.5,840" fill="#fff"/><polygon points="173,800.2 179.7,791.2 176.5,787 169.7,795" fill="#fff"/><polygon points="188.3,800.2 195,791.2 191.8,787 185,795" fill="#fff"/><polygon points="203.6,800.2 210.3,791.2 207.1,787 200.3,795" fill="#fff"/><polygon points="219,800.2 225.7,791.2 222.5,787 215.7,795" fill="#fff"/><polygon points="162,795 169.6,795 176.5,786.8 162,786.8" fill="#fff"/><rect x="171" y="834" width="1" height="1" fill="#fff"/><rect x="172" y="833" width="1" height="1" fill="#fff"/><rect x="173" y="835" width="1" height="1" fill="#fff"/><rect x="174" y="834" width="1" height="1" fill="#fff"/><rect x="175" y="833" width="1" height="1" fill="#fff"/><rect x="176" y="835" width="1" height="1" fill="#fff"/><rect x="177" y="834" width="1" height="1" fill="#fff"/><rect x="177" y="837" width="1" height="1" fill="#fff"/><rect x="178" y="836" width="1" height="1" fill="#fff"/><rect x="179" y="835" width="1" height="1" fill="#fff"/><rect x="180" y="834" width="1" height="1" fill="#fff"/><rect x="176" y="840" width="1" height="1" fill="#fff"/><rect x="172" y="836" width="1" height="1" fill="#fff"/><rect x="185" y="833" width="1" height="1" fill="#fff"/><rect x="186" y="832" width="1" height="1" fill="#fff"/><rect x="187" y="831" width="1" height="1" fill="#fff"/><rect x="188" y="830" width="1" height="1" fill="#fff"/><rect x="188" y="832" width="1" height="1" fill="#fff"/><rect x="189" y="831" width="1" height="1" fill="#fff"/><rect x="190" y="834" width="1" height="1" fill="#fff"/><rect x="191" y="833" width="1" height="1" fill="#fff"/><rect x="192" y="832" width="1" height="1" fill="#fff"/><rect x="187" y="826" width="1" height="1" fill="#fff"/><rect x="190" y="830" width="1" height="1" fill="#fff"/><rect x="186" y="827" width="1" height="1" fill="#fff"/><rect x="202" y="835" width="1" height="1" fill="#fff"/><rect x="203" y="834" width="1" height="1" fill="#fff"/><rect x="204" y="833" width="1" height="1" fill="#fff"/><rect x="203" y="834" width="1" height="1" fill="#fff"/><rect x="204" y="833" width="1" height="1" fill="#fff"/><rect x="205" y="832" width="1" height="1" fill="#fff"/><rect x="206" y="834" width="1" height="1" fill="#fff"/><rect x="207" y="833" width="1" height="1" fill="#fff"/><rect x="200" y="835" width="1" height="1" fill="#fff"/><rect x="203" y="830" width="1" height="1" fill="#fff"/><rect x="201" y="833" width="1" height="1" fill="#fff"/><rect x="201" y="836" width="1" height="1" fill="#fff"/><rect x="175" y="822" width="1" height="1" fill="#fff"/><rect x="176" y="823" width="1" height="1" fill="#fff"/><rect x="177" y="824" width="1" height="1" fill="#fff"/><rect x="178" y="825" width="1" height="1" fill="#fff"/><rect x="179" y="822" width="1" height="1" fill="#fff"/><rect x="180" y="823" width="1" height="1" fill="#fff"/><rect x="181" y="820" width="1" height="1" fill="#fff"/><rect x="182" y="821" width="1" height="1" fill="#fff"/><rect x="183" y="822" width="1" height="1" fill="#fff"/><rect x="182" y="821" width="1" height="1" fill="#fff"/><rect x="183" y="822" width="1" height="1" fill="#fff"/><rect x="184" y="823" width="1" height="1" fill="#fff"/><rect x="185" y="824" width="1" height="1" fill="#fff"/><rect x="186" y="820" width="1" height="1" fill="#fff"/><rect x="187" y="821" width="1" height="1" fill="#fff"/><rect x="188" y="822" width="1" height="1" fill="#fff"/><rect x="178" y="819" width="1" height="1" fill="#fff"/><rect x="186" y="817" width="1" height="1" fill="#fff"/><rect x="177" y="816" width="1" height="1" fill="#fff"/><rect x="178" y="825" width="1" height="1" fill="#fff"/><rect x="184" y="817" width="1" height="1" fill="#fff"/><rect x="193" y="823" width="1" height="1" fill="#fff"/><rect x="194" y="822" width="1" height="1" fill="#fff"/><rect x="195" y="821" width="1" height="1" fill="#fff"/><rect x="195" y="823" width="1" height="1" fill="#fff"/><rect x="196" y="822" width="1" height="1" fill="#fff"/><rect x="198" y="825" width="1" height="1" fill="#fff"/><rect x="199" y="824" width="1" height="1" fill="#fff"/><rect x="200" y="823" width="1" height="1" fill="#fff"/><rect x="200" y="824" width="1" height="1" fill="#fff"/><rect x="201" y="823" width="1" height="1" fill="#fff"/><rect x="203" y="822" width="1" height="1" fill="#fff"/><rect x="196" y="826" width="1" height="1" fill="#fff"/><rect x="207" y="823" width="1" height="1" fill="#fff"/><rect x="208" y="822" width="1" height="1" fill="#fff"/><rect x="209" y="821" width="1" height="1" fill="#fff"/><rect x="210" y="820" width="1" height="1" fill="#fff"/><rect x="211" y="825" width="1" height="1" fill="#fff"/><rect x="212" y="824" width="1" height="1" fill="#fff"/><rect x="212" y="824" width="1" height="1" fill="#fff"/><rect x="213" y="823" width="1" height="1" fill="#fff"/><rect x="214" y="822" width="1" height="1" fill="#fff"/><rect x="215" y="826" width="1" height="1" fill="#fff"/><rect x="216" y="825" width="1" height="1" fill="#fff"/><rect x="217" y="824" width="1" height="1" fill="#fff"/><rect x="208" y="823" width="1" height="1" fill="#fff"/><rect x="208" y="818" width="1" height="1" fill="#fff"/><rect x="210" y="823" width="1" height="1" fill="#fff"/><rect x="218" y="818" width="1" height="1" fill="#fff"/><rect x="218" y="823" width="1" height="1" fill="#fff"/><rect x="169" y="812" width="1" height="1" fill="#fff"/><rect x="170" y="811" width="1" height="1" fill="#fff"/><rect x="171" y="810" width="1" height="1" fill="#fff"/><rect x="172" y="813" width="1" height="1" fill="#fff"/><rect x="173" y="812" width="1" height="1" fill="#fff"/><rect x="174" y="815" width="1" height="1" fill="#fff"/><rect x="175" y="814" width="1" height="1" fill="#fff"/><rect x="176" y="813" width="1" height="1" fill="#fff"/><rect x="176" y="814" width="1" height="1" fill="#fff"/><rect x="177" y="813" width="1" height="1" fill="#fff"/><rect x="178" y="812" width="1" height="1" fill="#fff"/><rect x="178" y="815" width="1" height="1" fill="#fff"/><rect x="179" y="814" width="1" height="1" fill="#fff"/><rect x="180" y="813" width="1" height="1" fill="#fff"/><rect x="178" y="808" width="1" height="1" fill="#fff"/><rect x="177" y="810" width="1" height="1" fill="#fff"/><rect x="185" y="813" width="1" height="1" fill="#fff"/><rect x="186" y="812" width="1" height="1" fill="#fff"/><rect x="187" y="811" width="1" height="1" fill="#fff"/><rect x="188" y="810" width="1" height="1" fill="#fff"/><rect x="188" y="815" width="1" height="1" fill="#fff"/><rect x="189" y="814" width="1" height="1" fill="#fff"/><rect x="190" y="813" width="1" height="1" fill="#fff"/><rect x="190" y="814" width="1" height="1" fill="#fff"/><rect x="191" y="813" width="1" height="1" fill="#fff"/><rect x="192" y="812" width="1" height="1" fill="#fff"/><rect x="192" y="813" width="1" height="1" fill="#fff"/><rect x="193" y="812" width="1" height="1" fill="#fff"/><rect x="194" y="811" width="1" height="1" fill="#fff"/><rect x="192" y="813" width="1" height="1" fill="#fff"/><rect x="194" y="810" width="1" height="1" fill="#fff"/><rect x="194" y="814" width="1" height="1" fill="#fff"/><rect x="192" y="809" width="1" height="1" fill="#fff"/><rect x="199" y="812" width="1" height="1" fill="#fff"/><rect x="200" y="811" width="1" height="1" fill="#fff"/><rect x="201" y="810" width="1" height="1" fill="#fff"/><rect x="202" y="809" width="1" height="1" fill="#fff"/><rect x="204" y="815" width="1" height="1" fill="#fff"/><rect x="205" y="814" width="1" height="1" fill="#fff"/><rect x="206" y="813" width="1" height="1" fill="#fff"/><rect x="204" y="813" width="1" height="1" fill="#fff"/><rect x="205" y="812" width="1" height="1" fill="#fff"/><rect x="206" y="811" width="1" height="1" fill="#fff"/><rect x="208" y="814" width="1" height="1" fill="#fff"/><rect x="209" y="813" width="1" height="1" fill="#fff"/><rect x="201" y="808" width="1" height="1" fill="#fff"/><rect x="206" y="810" width="1" height="1" fill="#fff"/><rect x="204" y="810" width="1" height="1" fill="#fff"/><rect x="208" y="810" width="1" height="1" fill="#fff"/><rect x="208" y="819" width="1" height="1" fill="#fff"/><rect x="176" y="802" width="1" height="1" fill="#fff"/><rect x="177" y="803" width="1" height="1" fill="#fff"/><rect x="178" y="804" width="1" height="1" fill="#fff"/><rect x="179" y="803" width="1" height="1" fill="#fff"/><rect x="180" y="804" width="1" height="1" fill="#fff"/><rect x="183" y="799" width="1" height="1" fill="#fff"/><rect x="184" y="800" width="1" height="1" fill="#fff"/><rect x="185" y="801" width="1" height="1" fill="#fff"/><rect x="182" y="801" width="1" height="1" fill="#fff"/><rect x="183" y="802" width="1" height="1" fill="#fff"/><rect x="184" y="803" width="1" height="1" fill="#fff"/><rect x="187" y="799" width="1" height="1" fill="#fff"/><rect x="188" y="800" width="1" height="1" fill="#fff"/><rect x="182" y="804" width="1" height="1" fill="#fff"/><rect x="184" y="801" width="1" height="1" fill="#fff"/><rect x="179" y="796" width="1" height="1" fill="#fff"/><rect x="177" y="803" width="1" height="1" fill="#fff"/><rect x="180" y="803" width="1" height="1" fill="#fff"/><rect x="191" y="803" width="1" height="1" fill="#fff"/><rect x="192" y="804" width="1" height="1" fill="#fff"/><rect x="193" y="802" width="1" height="1" fill="#fff"/><rect x="194" y="803" width="1" height="1" fill="#fff"/><rect x="195" y="804" width="1" height="1" fill="#fff"/><rect x="196" y="801" width="1" height="1" fill="#fff"/><rect x="197" y="802" width="1" height="1" fill="#fff"/><rect x="198" y="803" width="1" height="1" fill="#fff"/><rect x="199" y="798" width="1" height="1" fill="#fff"/><rect x="200" y="799" width="1" height="1" fill="#fff"/><rect x="201" y="800" width="1" height="1" fill="#fff"/><rect x="202" y="801" width="1" height="1" fill="#fff"/><rect x="201" y="799" width="1" height="1" fill="#fff"/><rect x="202" y="800" width="1" height="1" fill="#fff"/><rect x="203" y="801" width="1" height="1" fill="#fff"/><rect x="193" y="801" width="1" height="1" fill="#fff"/><rect x="198" y="796" width="1" height="1" fill="#fff"/><rect x="203" y="800" width="1" height="1" fill="#fff"/><rect x="196" y="796" width="1" height="1" fill="#fff"/><rect x="192" y="807" width="1" height="1" fill="#fff"/><rect x="205" y="802" width="1" height="1" fill="#fff"/><rect x="206" y="801" width="1" height="1" fill="#fff"/><rect x="207" y="800" width="1" height="1" fill="#fff"/><rect x="208" y="799" width="1" height="1" fill="#fff"/><rect x="209" y="805" width="1" height="1" fill="#fff"/><rect x="210" y="804" width="1" height="1" fill="#fff"/><rect x="211" y="803" width="1" height="1" fill="#fff"/><rect x="212" y="802" width="1" height="1" fill="#fff"/><rect x="211" y="805" width="1" height="1" fill="#fff"/><rect x="212" y="804" width="1" height="1" fill="#fff"/><rect x="213" y="803" width="1" height="1" fill="#fff"/><rect x="214" y="802" width="1" height="1" fill="#fff"/><rect x="214" y="805" width="1" height="1" fill="#fff"/><rect x="215" y="804" width="1" height="1" fill="#fff"/><rect x="216" y="803" width="1" height="1" fill="#fff"/><rect x="216" y="804" width="1" height="1" fill="#fff"/><rect x="217" y="803" width="1" height="1" fill="#fff"/><rect x="218" y="802" width="1" height="1" fill="#fff"/><rect x="210" y="809" width="1" height="1" fill="#fff"/><rect x="218" y="805" width="1" height="1" fill="#fff"/><rect x="218" y="807" width="1" height="1" fill="#fff"/><rect x="207" y="800" width="1" height="1" fill="#fff"/><rect x="218" y="806" width="1" height="1" fill="#fff"/><polygon points="166,845 166,846 170,851 178,851 182,847 186,851 193,851 197,847 201,851 208,851 212,847 216,851 227,851 227,845" fill="#009100"/><rect x="174" y="842" width="2" height="1" fill="#00ff00"/><rect x="173" y="843" width="4" height="1" fill="#00ff00"/><rect x="173" y="844" width="4" height="1" fill="#00ff00"/><rect x="173" y="845" width="4" height="1" fill="#00ff00"/><rect x="174" y="846" width="2" height="1" fill="#00ff00"/><rect x="189" y="842" width="2" height="1" fill="#00ff00"/><rect x="188" y="843" width="4" height="1" fill="#00ff00"/><rect x="188" y="844" width="4" height="1" fill="#00ff00"/><rect x="188" y="845" width="4" height="1" fill="#00ff00"/><rect x="189" y="846" width="2" height="1" fill="#00ff00"/><rect x="204" y="842" width="2" height="1" fill="#ffff00"/><rect x="203" y="843" width="4" height="1" fill="#ffff00"/><rect x="203" y="844" width="4" height="1" fill="#ffff00"/><rect x="203" y="845" width="4" height="1" fill="#ffff00"/><rect x="204" y="846" width="2" height="1" fill="#ffff00"/><rect x="219" y="842" width="2" height="1" fill="#ffff00"/><rect x="218" y="843" width="4" height="1" fill="#ffff00"/><rect x="218" y="844" width="4" height="1" fill="#ffff00"/><rect x="218" y="845" width="4" height="1" fill="#ffff00"/><rect x="219" y="846" width="2" height="1" fill="#ffff00"/><rect x="166" y="832" width="2" height="1" fill="#00ff00"/><rect x="165" y="833" width="4" height="1" fill="#00ff00"/><rect x="165" y="834" width="4" height="1" fill="#00ff00"/><rect x="165" y="835" width="4" height="1" fill="#00ff00"/><rect x="166" y="836" width="2" height="1" fill="#00ff00"/><rect x="181" y="832" width="3" height="1" fill="#00ff00"/><rect x="180" y="833" width="5" height="1" fill="#00ff00"/><rect x="180" y="834" width="5" height="1" fill="#00ff00"/><rect x="180" y="835" width="5" height="1" fill="#00ff00"/><rect x="181" y="836" width="3" height="1" fill="#00ff00"/><rect x="197" y="832" width="3" height="1" fill="#00ff00"/><rect x="196" y="833" width="5" height="1" fill="#00ff00"/><rect x="196" y="834" width="5" height="1" fill="#00ff00"/><rect x="196" y="835" width="5" height="1" fill="#00ff00"/><rect x="197" y="836" width="3" height="1" fill="#00ff00"/><rect x="212" y="832" width="2" height="1" fill="#ffff00"/><rect x="211" y="833" width="4" height="1" fill="#ffff00"/><rect x="211" y="834" width="4" height="1" fill="#ffff00"/><rect x="211" y="835" width="4" height="1" fill="#ffff00"/><rect x="212" y="836" width="2" height="1" fill="#ffff00"/><rect x="174" y="821" width="2" height="1" fill="#00ff00"/><rect x="173" y="822" width="4" height="1" fill="#00ff00"/><rect x="173" y="823" width="4" height="1" fill="#00ff00"/><rect x="173" y="824" width="4" height="1" fill="#00ff00"/><rect x="174" y="825" width="2" height="1" fill="#00ff00"/><rect x="189" y="821" width="2" height="1" fill="#00ff00"/><rect x="188" y="822" width="4" height="1" fill="#00ff00"/><rect x="188" y="823" width="4" height="1" fill="#00ff00"/><rect x="188" y="824" width="4" height="1" fill="#00ff00"/><rect x="189" y="825" width="2" height="1" fill="#00ff00"/><rect x="204" y="821" width="2" height="1" fill="#ffff00"/><rect x="203" y="822" width="4" height="1" fill="#ffff00"/><rect x="203" y="823" width="4" height="1" fill="#ffff00"/><rect x="203" y="824" width="4" height="1" fill="#ffff00"/><rect x="204" y="825" width="2" height="1" fill="#ffff00"/><rect x="219" y="821" width="2" height="1" fill="#ffff00"/><rect x="218" y="822" width="4" height="1" fill="#ffff00"/><rect x="218" y="823" width="4" height="1" fill="#ffff00"/><rect x="218" y="824" width="4" height="1" fill="#ffff00"/><rect x="219" y="825" width="2" height="1" fill="#ffff00"/><rect x="166" y="811" width="2" height="1" fill="#00ff00"/><rect x="165" y="812" width="4" height="1" fill="#00ff00"/><rect x="165" y="813" width="4" height="1" fill="#00ff00"/><rect x="165" y="814" width="4" height="1" fill="#00ff00"/><rect x="166" y="815" width="2" height="1" fill="#00ff00"/><rect x="181" y="811" width="3" height="1" fill="#00ff00"/><rect x="180" y="812" width="5" height="1" fill="#00ff00"/><rect x="180" y="813" width="5" height="1" fill="#00ff00"/><rect x="180" y="814" width="5" height="1" fill="#00ff00"/><rect x="181" y="815" width="3" height="1" fill="#00ff00"/><rect x="197" y="811" width="3" height="1" fill="#00ff00"/><rect x="196" y="812" width="5" height="1" fill="#00ff00"/><rect x="196" y="813" width="5" height="1" fill="#00ff00"/><rect x="196" y="814" width="5" height="1" fill="#00ff00"/><rect x="197" y="815" width="3" height="1" fill="#00ff00"/><rect x="212" y="811" width="2" height="1" fill="#ffff00"/><rect x="211" y="812" width="4" height="1" fill="#ffff00"/><rect x="211" y="813" width="4" height="1" fill="#ffff00"/><rect x="211" y="814" width="4" height="1" fill="#ffff00"/><rect x="212" y="815" width="2" height="1" fill="#ffff00"/><rect x="174" y="801" width="2" height="1" fill="#00ff00"/><rect x="173" y="802" width="4" height="1" fill="#00ff00"/><rect x="173" y="803" width="4" height="1" fill="#00ff00"/><rect x="173" y="804" width="4" height="1" fill="#00ff00"/><rect x="174" y="805" width="2" height="1" fill="#00ff00"/><rect x="189" y="801" width="2" height="1" fill="#00ff00"/><rect x="188" y="802" width="4" height="1" fill="#00ff00"/><rect x="188" y="803" width="4" height="1" fill="#00ff00"/><rect x="188" y="804" width="4" height="1" fill="#00ff00"/><rect x="189" y="805" width="2" height="1" fill="#00ff00"/><rect x="204" y="801" width="2" height="1" fill="#ffff00"/><rect x="203" y="802" width="4" height="1" fill="#ffff00"/><rect x="203" y="803" width="4" height="1" fill="#ffff00"/><rect x="203" y="804" width="4" height="1" fill="#ffff00"/><rect x="204" y="805" width="2" height="1" fill="#ffff00"/><rect x="219" y="801" width="2" height="1" fill="#ffff00"/><rect x="218" y="802" width="4" height="1" fill="#ffff00"/><rect x="218" y="803" width="4" height="1" fill="#ffff00"/><rect x="218" y="804" width="4" height="1" fill="#ffff00"/><rect x="219" y="805" width="2" height="1" fill="#ffff00"/><rect x="166" y="791" width="2" height="1" fill="#00ff00"/><rect x="165" y="792" width="4" height="1" fill="#00ff00"/><rect x="165" y="793" width="4" height="1" fill="#00ff00"/><rect x="165" y="794" width="4" height="1" fill="#00ff00"/><rect x="166" y="795" width="2" height="1" fill="#00ff00"/><rect x="181" y="791" width="3" height="1" fill="#00ff00"/><rect x="180" y="792" width="5" height="1" fill="#00ff00"/><rect x="180" y="793" width="5" height="1" fill="#00ff00"/><rect x="180" y="794" width="5" height="1" fill="#00ff00"/><rect x="181" y="795" width="3" height="1" fill="#00ff00"/><rect x="197" y="791" width="3" height="1" fill="#00ff00"/><rect x="196" y="792" width="5" height="1" fill="#00ff00"/><rect x="196" y="793" width="5" height="1" fill="#00ff00"/><rect x="196" y="794" width="5" height="1" fill="#00ff00"/><rect x="197" y="795" width="3" height="1" fill="#00ff00"/><rect x="212" y="791" width="2" height="1" fill="#ffff00"/><rect x="211" y="792" width="4" height="1" fill="#ffff00"/><rect x="211" y="793" width="4" height="1" fill="#ffff00"/><rect x="211" y="794" width="4" height="1" fill="#ffff00"/><rect x="212" y="795" width="2" height="1" fill="#ffff00"/><polygon points="172,783 236,783 236,787 172,787" fill="#000"/><rect x="180" y="852" width="2" height="1" fill="#00ff00"/><rect x="196" y="852" width="1" height="1" fill="#00ff00"/><rect x="197" y="852" width="2" height="1" fill="#ff00ff"/><rect x="211" y="852" width="1" height="1" fill="#ffff00"/><rect x="225" y="852" width="2" height="1" fill="#ff0000"/><rect x="179" y="850" width="1" height="2" fill="#ff0000"/><rect x="179" y="853" width="1" height="2" fill="#ff0000"/><rect x="179" y="856" width="1" height="2" fill="#ff0000"/><rect x="174" y="89" width="1" height="771" fill="#ff0000"/><rect x="228" y="89" width="1" height="771" fill="#00ff00"/><rect x="3" y="161" width="394" height="1" fill="#ff0000"/><rect x="3" y="844" width="394" height="1" fill="#00ff00"/><path d="M391.5 155.5 L387.5 159.5 L391.5 159.5" fill="none" stroke="#ff0000" stroke-width="1"/><rect x="10" y="838" width="1" height="4" fill="#00ff00"/><rect x="9" y="842" width="3" height="1" fill="#00ff00"/></svg>
<div id="frame"></div>
<div class="ln" style="left:4px;top:88px;width:615px;height:1px"></div>
<div class="ln" style="left:536px;top:4px;width:1px;height:85px"></div>
<div class="ln" style="left:399px;top:88px;width:1px;height:773px"></div>
<div class="ln" style="left:399px;top:701px;width:220px;height:1px"></div>
<svg class="abs" style="left:0;top:0" width="620" height="861" shape-rendering="crispEdges"><g fill="#000"><rect x="9" y="37" width="1" height="20"/><rect x="11" y="37" width="1" height="20"/><rect x="13" y="37" width="4" height="20"/><rect x="19" y="37" width="3" height="20"/><rect x="24" y="37" width="2" height="20"/><rect x="27" y="37" width="1" height="20"/><rect x="29" y="37" width="3" height="20"/><rect x="34" y="37" width="3" height="20"/><rect x="40" y="37" width="3" height="20"/><rect x="45" y="37" width="3" height="20"/><rect x="50" y="37" width="3" height="20"/><rect x="55" y="37" width="2" height="20"/><rect x="58" y="37" width="1" height="20"/><rect x="60" y="37" width="2" height="20"/><rect x="64" y="37" width="4" height="20"/><rect x="70" y="37" width="3" height="20"/><rect x="75" y="37" width="2" height="20"/><rect x="78" y="37" width="1" height="20"/><rect x="81" y="37" width="3" height="20"/><rect x="86" y="37" width="3" height="20"/><rect x="91" y="37" width="2" height="20"/><rect x="96" y="37" width="3" height="20"/><rect x="101" y="37" width="3" height="20"/><rect x="105" y="37" width="2" height="20"/><rect x="108" y="37" width="1" height="20"/><rect x="112" y="37" width="4" height="20"/><rect x="117" y="37" width="2" height="20"/><rect x="122" y="37" width="3" height="20"/><rect x="128" y="37" width="1" height="20"/><rect x="130" y="37" width="1" height="20"/><rect x="132" y="37" width="1" height="20"/><rect x="134" y="37" width="1" height="20"/><rect x="136" y="37" width="4" height="20"/></g></svg>
<div class="t" style="top:3.54px;font-size:14.6px;line-height:18px;left:8.00px;font-weight:bold;font-family:'Liberation Serif','Noto Serif CJK SC',serif;font-weight:900;letter-spacing:1.4px;">生产作业图</div><div class="t" style="top:23.67px;font-size:9.6px;line-height:12px;left:6.00px;">Wilcom(<span style="padding-left:1.5px"></span><span class="cj" style="font-size:9.5px;letter-spacing:0.5px;position:relative;top:-0.8px;">汇 京</span>) <span class="cj" style="font-size:9.5px;letter-spacing:0.5px;position:relative;top:-0.8px;">装饰工作室</span></div><div class="t" style="top:62.67px;font-size:9.6px;line-height:12px;left:6.00px;"><span class="cj" style="font-size:9.5px;letter-spacing:0.5px;position:relative;top:-0.8px;">花版</span>:<span style="padding-left:7px"></span>1691018.emb</div><div class="t" style="top:75.67px;font-size:9.6px;line-height:12px;left:6.00px;"><span class="cj" style="font-size:9.5px;letter-spacing:0.5px;position:relative;top:-0.8px;">色位</span>:<span style="padding-left:7px"></span>Colorway 1</div><div class="t" style="top:6.17px;font-size:9.6px;line-height:12px;left:539.00px;"><span class="cj" style="font-size:9.5px;letter-spacing:0.5px;position:relative;top:-0.8px;">针数</span>:</div><div class="t" style="top:6.17px;font-size:9.6px;line-height:12px;left:567.00px;">62578</div><div class="t" style="top:19.17px;font-size:9.6px;line-height:12px;left:539.00px;"><span class="cj" style="font-size:9.5px;letter-spacing:0.5px;position:relative;top:-0.8px;">颜色</span>:</div><div class="t" style="top:19.17px;font-size:9.6px;line-height:12px;left:567.00px;">20</div><div class="t" style="top:32.17px;font-size:9.6px;line-height:12px;left:539.00px;"><span class="cj" style="font-size:9.5px;letter-spacing:0.5px;position:relative;top:-0.8px;">高度</span>:</div><div class="t" style="top:32.17px;font-size:9.6px;line-height:12px;left:567.00px;">1375.9 mm</div><div class="t" style="top:45.17px;font-size:9.6px;line-height:12px;left:539.00px;"><span class="cj" style="font-size:9.5px;letter-spacing:0.5px;position:relative;top:-0.8px;">宽度</span>:</div><div class="t" style="top:45.17px;font-size:9.6px;line-height:12px;left:567.00px;">132.4 mm</div><div class="t" style="top:58.17px;font-size:9.6px;line-height:12px;left:539.00px;"><span class="cj" style="font-size:9.5px;letter-spacing:0.5px;position:relative;top:-0.8px;">比例</span>:</div><div class="t" style="top:58.17px;font-size:9.6px;line-height:12px;left:567.00px;">0.19</div><div class="t" style="top:88.67px;font-size:9.6px;line-height:12px;left:400.00px;"><span class="cj" style="font-size:9.5px;letter-spacing:0.5px;position:relative;top:-0.8px;">停止顺序</span> :</div><div class="t" style="top:101.67px;font-size:9.6px;line-height:12px;left:400.00px;font-weight:bold;letter-spacing:0.3px;"><u>#</u></div><div class="t" style="top:101.67px;font-size:9.6px;line-height:12px;left:420.00px;font-weight:bold;"><u>N#</u></div><div class="t" style="top:101.67px;font-size:9.6px;line-height:12px;right:150.50px;font-weight:bold;letter-spacing:0.9px;"><u>St.</u></div><div class="t" style="top:101.67px;font-size:9.6px;line-height:12px;left:472.00px;font-weight:bold;"><u><span class="cj" style="font-size:9.6px;letter-spacing:1px;position:relative;top:0.2px;font-weight:900;">代码</span></u></div><div class="t" style="top:101.67px;font-size:9.6px;line-height:12px;left:499.00px;font-weight:bold;"><u><span class="cj" style="font-size:9.6px;letter-spacing:1px;position:relative;top:0.2px;font-weight:900;">描述</span></u></div><div class="t" style="top:101.67px;font-size:9.6px;line-height:12px;left:558.00px;font-weight:bold;letter-spacing:0.3px;"><u>Brand</u></div><div class="t" style="top:101.67px;font-size:9.6px;line-height:12px;left:594.00px;font-weight:bold;"><u><span class="cj" style="font-size:9.6px;letter-spacing:1px;position:relative;top:0.2px;font-weight:900;">元素</span></u></div><div class="t" style="top:115.07px;font-size:9.6px;line-height:12px;left:400.00px;">1.</div><div class="t" style="top:115.07px;font-size:9.6px;line-height:12px;left:419.00px;">1</div><div class="sw" style="top:115px;background:#009100"></div><div class="t" style="top:115.07px;font-size:9.6px;line-height:12px;right:152.00px;">683</div><div class="t" style="top:115.07px;font-size:9.6px;line-height:12px;right:126.00px;">1</div><div class="t" style="top:115.07px;font-size:9.6px;line-height:12px;left:499.50px;">Dark Green</div><div class="t" style="top:115.07px;font-size:9.6px;line-height:12px;left:558.00px;">Default</div><div class="t" style="top:128.41px;font-size:9.6px;line-height:12px;left:400.00px;">2.</div><div class="t" style="top:128.41px;font-size:9.6px;line-height:12px;left:419.00px;">2</div><div class="sw" style="top:128px;background:#0000ff"></div><div class="t" style="top:128.41px;font-size:9.6px;line-height:12px;right:152.00px;">352</div><div class="t" style="top:128.41px;font-size:9.6px;line-height:12px;right:126.00px;">2</div><div class="t" style="top:128.41px;font-size:9.6px;line-height:12px;left:499.50px;">Blue</div><div class="t" style="top:128.41px;font-size:9.6px;line-height:12px;left:558.00px;">Default</div><div class="t" style="top:141.74px;font-size:9.6px;line-height:12px;left:400.00px;">3.</div><div class="t" style="top:141.74px;font-size:9.6px;line-height:12px;left:419.00px;">3</div><div class="sw" style="top:141px;background:#ff0000"></div><div class="t" style="top:141.74px;font-size:9.6px;line-height:12px;right:152.00px;">3743</div><div class="t" style="top:141.74px;font-size:9.6px;line-height:12px;right:126.00px;">3</div><div class="t" style="top:141.74px;font-size:9.6px;line-height:12px;left:499.50px;">Red</div><div class="t" style="top:141.74px;font-size:9.6px;line-height:12px;left:558.00px;">Default</div><div class="t" style="top:155.07px;font-size:9.6px;line-height:12px;left:400.00px;">4.</div><div class="t" style="top:155.07px;font-size:9.6px;line-height:12px;left:419.00px;">4</div><div class="sw" style="top:155px;background:#ffff00"></div><div class="t" style="top:155.07px;font-size:9.6px;line-height:12px;right:152.00px;">499</div><div class="t" style="top:155.07px;font-size:9.6px;line-height:12px;right:126.00px;">4</div><div class="t" style="top:155.07px;font-size:9.6px;line-height:12px;left:499.50px;">Yellow</div><div class="t" style="top:155.07px;font-size:9.6px;line-height:12px;left:558.00px;">Default</div><div class="t" style="top:168.41px;font-size:9.6px;line-height:12px;left:400.00px;">5.</div><div class="t" style="top:168.41px;font-size:9.6px;line-height:12px;left:419.00px;">5</div><div class="sw" style="top:168px;background:#00ffff"></div><div class="t" style="top:168.41px;font-size:9.6px;line-height:12px;right:152.00px;">353</div><div class="t" style="top:168.41px;font-size:9.6px;line-height:12px;right:126.00px;">5</div><div class="t" style="top:168.41px;font-size:9.6px;line-height:12px;left:499.50px;">Cyan</div><div class="t" style="top:168.41px;font-size:9.6px;line-height:12px;left:558.00px;">Default</div><div class="t" style="top:181.74px;font-size:9.6px;line-height:12px;left:400.00px;">6.</div><div class="t" style="top:181.74px;font-size:9.6px;line-height:12px;left:419.00px;">6</div><div class="sw" style="top:181px;background:#ff00ff"></div><div class="t" style="top:181.74px;font-size:9.6px;line-height:12px;right:152.00px;">3385</div><div class="t" style="top:181.74px;font-size:9.6px;line-height:12px;right:126.00px;">6</div><div class="t" style="top:181.74px;font-size:9.6px;line-height:12px;left:499.50px;">Magenta</div><div class="t" style="top:181.74px;font-size:9.6px;line-height:12px;left:558.00px;">Default</div><div class="t" style="top:195.07px;font-size:9.6px;line-height:12px;left:400.00px;">7.</div><div class="t" style="top:195.07px;font-size:9.6px;line-height:12px;left:419.00px;">7</div><div class="sw" style="top:195px;background:#00ff00"></div><div class="t" style="top:195.07px;font-size:9.6px;line-height:12px;right:152.00px;">837</div><div class="t" style="top:195.07px;font-size:9.6px;line-height:12px;right:126.00px;">7</div><div class="t" style="top:195.07px;font-size:9.6px;line-height:12px;left:499.50px;">Green</div><div class="t" style="top:195.07px;font-size:9.6px;line-height:12px;left:558.00px;">Default</div><div class="t" style="top:208.41px;font-size:9.6px;line-height:12px;left:400.00px;">8.</div><div class="t" style="top:208.41px;font-size:9.6px;line-height:12px;left:419.00px;">8</div><div class="sw" style="top:208px;background:#000000"></div><div class="t" style="top:208.41px;font-size:9.6px;line-height:12px;right:152.00px;">3343</div><div class="t" style="top:208.41px;font-size:9.6px;line-height:12px;right:126.00px;">8</div><div class="t" style="top:208.41px;font-size:9.6px;line-height:12px;left:499.50px;">Black</div><div class="t" style="top:208.41px;font-size:9.6px;line-height:12px;left:558.00px;">Default</div><div class="t" style="top:221.74px;font-size:9.6px;line-height:12px;left:400.00px;">9.</div><div class="t" style="top:221.74px;font-size:9.6px;line-height:12px;left:419.00px;">9</div><div class="sw" style="top:221px;background:#ffffff"></div><div class="t" style="top:221.74px;font-size:9.6px;line-height:12px;right:152.00px;">245</div><div class="t" style="top:221.74px;font-size:9.6px;line-height:12px;right:126.00px;">9</div><div class="t" style="top:221.74px;font-size:9.6px;line-height:12px;left:499.50px;">White</div><div class="t" style="top:221.74px;font-size:9.6px;line-height:12px;left:558.00px;">Default</div><div class="t" style="top:235.07px;font-size:9.6px;line-height:12px;left:400.00px;">10.</div><div class="t" style="top:235.07px;font-size:9.6px;line-height:12px;left:419.00px;">10</div><div class="sw" style="top:235px;background:#000096"></div><div class="t" style="top:235.07px;font-size:9.6px;line-height:12px;right:152.00px;">2829</div><div class="t" style="top:235.07px;font-size:9.6px;line-height:12px;right:126.00px;">10</div><div class="t" style="top:235.07px;font-size:9.6px;line-height:12px;left:499.50px;">Dark Blue</div><div class="t" style="top:235.07px;font-size:9.6px;line-height:12px;left:558.00px;">Default</div><div class="t" style="top:248.41px;font-size:9.6px;line-height:12px;left:400.00px;">11.</div><div class="t" style="top:248.41px;font-size:9.6px;line-height:12px;left:419.00px;">11</div><div class="sw" style="top:248px;background:#960000"></div><div class="t" style="top:248.41px;font-size:9.6px;line-height:12px;right:152.00px;">225</div><div class="t" style="top:248.41px;font-size:9.6px;line-height:12px;right:126.00px;">11</div><div class="t" style="top:248.41px;font-size:9.6px;line-height:12px;left:499.50px;">Dark Red</div><div class="t" style="top:248.41px;font-size:9.6px;line-height:12px;left:558.00px;">Default</div><div class="t" style="top:261.74px;font-size:9.6px;line-height:12px;left:400.00px;">12.</div><div class="t" style="top:261.74px;font-size:9.6px;line-height:12px;left:419.00px;">12</div><div class="sw" style="top:261px;background:#ff9632"></div><div class="t" style="top:261.74px;font-size:9.6px;line-height:12px;right:152.00px;">2822</div><div class="t" style="top:261.74px;font-size:9.6px;line-height:12px;right:126.00px;">12</div><div class="t" style="top:261.74px;font-size:9.6px;line-height:12px;left:499.50px;">Orange</div><div class="t" style="top:261.74px;font-size:9.6px;line-height:12px;left:558.00px;">Default</div><div class="t" style="top:275.07px;font-size:9.6px;line-height:12px;left:400.00px;">13.</div><div class="t" style="top:275.07px;font-size:9.6px;line-height:12px;left:419.00px;">13</div><div class="sw" style="top:275px;background:#9600c8"></div><div class="t" style="top:275.07px;font-size:9.6px;line-height:12px;right:152.00px;">225</div><div class="t" style="top:275.07px;font-size:9.6px;line-height:12px;right:126.00px;">13</div><div class="t" style="top:275.07px;font-size:9.6px;line-height:12px;left:499.50px;">Purple</div><div class="t" style="top:275.07px;font-size:9.6px;line-height:12px;left:558.00px;">Default</div><div class="t" style="top:288.41px;font-size:9.6px;line-height:12px;left:400.00px;">14.</div><div class="t" style="top:288.41px;font-size:9.6px;line-height:12px;left:419.00px;">14</div><div class="sw" style="top:288px;background:#96642d"></div><div class="t" style="top:288.41px;font-size:9.6px;line-height:12px;right:152.00px;">2822</div><div class="t" style="top:288.41px;font-size:9.6px;line-height:12px;right:126.00px;">14</div><div class="t" style="top:288.41px;font-size:9.6px;line-height:12px;left:499.50px;">Brown</div><div class="t" style="top:288.41px;font-size:9.6px;line-height:12px;left:558.00px;">Default</div><div class="t" style="top:301.74px;font-size:9.6px;line-height:12px;left:400.00px;">15.</div><div class="t" style="top:301.74px;font-size:9.6px;line-height:12px;left:419.00px;">15</div><div class="sw" style="top:301px;background:#ff82c3"></div><div class="t" style="top:301.74px;font-size:9.6px;line-height:12px;right:152.00px;">225</div><div class="t" style="top:301.74px;font-size:9.6px;line-height:12px;right:126.00px;">15</div><div class="t" style="top:301.74px;font-size:9.6px;line-height:12px;left:499.50px;">Pink</div><div class="t" style="top:301.74px;font-size:9.6px;line-height:12px;left:558.00px;">Default</div><div class="t" style="top:315.07px;font-size:9.6px;line-height:12px;left:400.00px;">16.</div><div class="t" style="top:315.07px;font-size:9.6px;line-height:12px;left:419.00px;">16</div><div class="sw" style="top:315px;background:#ffcd82"></div><div class="t" style="top:315.07px;font-size:9.6px;line-height:12px;right:152.00px;">2822</div><div class="t" style="top:315.07px;font-size:9.6px;line-height:12px;right:126.00px;">16</div><div class="t" style="top:315.07px;font-size:9.6px;line-height:12px;left:499.50px;">Sand</div><div class="t" style="top:315.07px;font-size:9.6px;line-height:12px;left:558.00px;">Default</div><div class="t" style="top:328.41px;font-size:9.6px;line-height:12px;left:400.00px;">17.</div><div class="t" style="top:328.41px;font-size:9.6px;line-height:12px;left:419.00px;">17</div><div class="sw" style="top:328px;background:#6effcd"></div><div class="t" style="top:328.41px;font-size:9.6px;line-height:12px;right:152.00px;">225</div><div class="t" style="top:328.41px;font-size:9.6px;line-height:12px;right:126.00px;">17</div><div class="t" style="top:328.41px;font-size:9.6px;line-height:12px;left:499.50px;">Turquoise</div><div class="t" style="top:328.41px;font-size:9.6px;line-height:12px;left:558.00px;">Default</div><div class="t" style="top:341.74px;font-size:9.6px;line-height:12px;left:400.00px;">18.</div><div class="t" style="top:341.74px;font-size:9.6px;line-height:12px;left:419.00px;">18</div><div class="sw" style="top:341px;background:#646464"></div><div class="t" style="top:341.74px;font-size:9.6px;line-height:12px;right:152.00px;">2822</div><div class="t" style="top:341.74px;font-size:9.6px;line-height:12px;right:126.00px;">18</div><div class="t" style="top:341.74px;font-size:9.6px;line-height:12px;left:499.50px;">Grey</div><div class="t" style="top:341.74px;font-size:9.6px;line-height:12px;left:558.00px;">Default</div><div class="t" style="top:355.07px;font-size:9.6px;line-height:12px;left:400.00px;">19.</div><div class="t" style="top:355.07px;font-size:9.6px;line-height:12px;left:419.00px;">19</div><div class="sw" style="top:355px;background:#969664"></div><div class="t" style="top:355.07px;font-size:9.6px;line-height:12px;right:152.00px;">225</div><div class="t" style="top:355.07px;font-size:9.6px;line-height:12px;right:126.00px;">19</div><div class="t" style="top:355.07px;font-size:9.6px;line-height:12px;left:499.50px;">Khaki</div><div class="t" style="top:355.07px;font-size:9.6px;line-height:12px;left:558.00px;">Default</div><div class="t" style="top:368.41px;font-size:9.6px;line-height:12px;left:400.00px;">20.</div><div class="t" style="top:368.41px;font-size:9.6px;line-height:12px;left:419.00px;">20</div><div class="sw" style="top:368px;background:#8282ff"></div><div class="t" style="top:368.41px;font-size:9.6px;line-height:12px;right:152.00px;">2822</div><div class="t" style="top:368.41px;font-size:9.6px;line-height:12px;right:126.00px;">20</div><div class="t" style="top:368.41px;font-size:9.6px;line-height:12px;left:499.50px;">Powder Blue</div><div class="t" style="top:368.41px;font-size:9.6px;line-height:12px;left:558.00px;">Default</div><div class="t" style="top:381.74px;font-size:9.6px;line-height:12px;left:400.00px;">21.</div><div class="t" style="top:381.74px;font-size:9.6px;line-height:12px;left:419.00px;">1</div><div class="sw" style="top:381px;background:#009100"></div><div class="t" style="top:381.74px;font-size:9.6px;line-height:12px;right:152.00px;">225</div><div class="t" style="top:381.74px;font-size:9.6px;line-height:12px;right:126.00px;">1</div><div class="t" style="top:381.74px;font-size:9.6px;line-height:12px;left:499.50px;">Dark Green</div><div class="t" style="top:381.74px;font-size:9.6px;line-height:12px;left:558.00px;">Default</div><div class="t" style="top:395.07px;font-size:9.6px;line-height:12px;left:400.00px;">22.</div><div class="t" style="top:395.07px;font-size:9.6px;line-height:12px;left:419.00px;">2</div><div class="sw" style="top:395px;background:#0000ff"></div><div class="t" style="top:395.07px;font-size:9.6px;line-height:12px;right:152.00px;">15</div><div class="t" style="top:395.07px;font-size:9.6px;line-height:12px;right:126.00px;">2</div><div class="t" style="top:395.07px;font-size:9.6px;line-height:12px;left:499.50px;">Blue</div><div class="t" style="top:395.07px;font-size:9.6px;line-height:12px;left:558.00px;">Default</div><div class="t" style="top:408.41px;font-size:9.6px;line-height:12px;left:400.00px;">23.</div><div class="t" style="top:408.41px;font-size:9.6px;line-height:12px;left:419.00px;">3</div><div class="sw" style="top:408px;background:#ff0000"></div><div class="t" style="top:408.41px;font-size:9.6px;line-height:12px;right:152.00px;">1</div><div class="t" style="top:408.41px;font-size:9.6px;line-height:12px;right:126.00px;">3</div><div class="t" style="top:408.41px;font-size:9.6px;line-height:12px;left:499.50px;">Red</div><div class="t" style="top:408.41px;font-size:9.6px;line-height:12px;left:558.00px;">Default</div><div class="t" style="top:421.74px;font-size:9.6px;line-height:12px;left:400.00px;">24.</div><div class="t" style="top:421.74px;font-size:9.6px;line-height:12px;left:419.00px;">3</div><div class="sw" style="top:421px;background:#ff0000"></div><div class="t" style="top:421.74px;font-size:9.6px;line-height:12px;right:152.00px;">1</div><div class="t" style="top:421.74px;font-size:9.6px;line-height:12px;left:499.50px;">Red, <span class="cj" style="font-size:9.5px;letter-spacing:0.5px;position:relative;top:-0.8px;">停止</span></div><div class="t" style="top:435.07px;font-size:9.6px;line-height:12px;left:400.00px;">25.</div><div class="t" style="top:435.07px;font-size:9.6px;line-height:12px;left:419.00px;">3</div><div class="sw" style="top:435px;background:#ff0000"></div><div class="t" style="top:435.07px;font-size:9.6px;line-height:12px;right:152.00px;">2808</div><div class="t" style="top:435.07px;font-size:9.6px;line-height:12px;left:499.50px;">Red, <span class="cj" style="font-size:9.5px;letter-spacing:0.5px;position:relative;top:-0.8px;">停止</span></div><div class="t" style="top:448.41px;font-size:9.6px;line-height:12px;left:400.00px;">26.</div><div class="t" style="top:448.41px;font-size:9.6px;line-height:12px;left:419.00px;">4</div><div class="sw" style="top:448px;background:#ffff00"></div><div class="t" style="top:448.41px;font-size:9.6px;line-height:12px;right:152.00px;">225</div><div class="t" style="top:448.41px;font-size:9.6px;line-height:12px;right:126.00px;">4</div><div class="t" style="top:448.41px;font-size:9.6px;line-height:12px;left:499.50px;">Yellow</div><div class="t" style="top:448.41px;font-size:9.6px;line-height:12px;left:558.00px;">Default</div><div class="t" style="top:461.74px;font-size:9.6px;line-height:12px;left:400.00px;">27.</div><div class="t" style="top:461.74px;font-size:9.6px;line-height:12px;left:419.00px;">5</div><div class="sw" style="top:461px;background:#00ffff"></div><div class="t" style="top:461.74px;font-size:9.6px;line-height:12px;right:152.00px;">2822</div><div class="t" style="top:461.74px;font-size:9.6px;line-height:12px;right:126.00px;">5</div><div class="t" style="top:461.74px;font-size:9.6px;line-height:12px;left:499.50px;">Cyan</div><div class="t" style="top:461.74px;font-size:9.6px;line-height:12px;left:558.00px;">Default</div><div class="t" style="top:475.07px;font-size:9.6px;line-height:12px;left:400.00px;">28.</div><div class="t" style="top:475.07px;font-size:9.6px;line-height:12px;left:419.00px;">6</div><div class="sw" style="top:475px;background:#ff00ff"></div><div class="t" style="top:475.07px;font-size:9.6px;line-height:12px;right:152.00px;">225</div><div class="t" style="top:475.07px;font-size:9.6px;line-height:12px;right:126.00px;">6</div><div class="t" style="top:475.07px;font-size:9.6px;line-height:12px;left:499.50px;">Magenta</div><div class="t" style="top:475.07px;font-size:9.6px;line-height:12px;left:558.00px;">Default</div><div class="t" style="top:488.41px;font-size:9.6px;line-height:12px;left:400.00px;">29.</div><div class="t" style="top:488.41px;font-size:9.6px;line-height:12px;left:419.00px;">7</div><div class="sw" style="top:488px;background:#00ff00"></div><div class="t" style="top:488.41px;font-size:9.6px;line-height:12px;right:152.00px;">2822</div><div class="t" style="top:488.41px;font-size:9.6px;line-height:12px;right:126.00px;">7</div><div class="t" style="top:488.41px;font-size:9.6px;line-height:12px;left:499.50px;">Green</div><div class="t" style="top:488.41px;font-size:9.6px;line-height:12px;left:558.00px;">Default</div><div class="t" style="top:501.74px;font-size:9.6px;line-height:12px;left:400.00px;">30.</div><div class="t" style="top:501.74px;font-size:9.6px;line-height:12px;left:419.00px;">8</div><div class="sw" style="top:501px;background:#000000"></div><div class="t" style="top:501.74px;font-size:9.6px;line-height:12px;right:152.00px;">225</div><div class="t" style="top:501.74px;font-size:9.6px;line-height:12px;right:126.00px;">8</div><div class="t" style="top:501.74px;font-size:9.6px;line-height:12px;left:499.50px;">Black</div><div class="t" style="top:501.74px;font-size:9.6px;line-height:12px;left:558.00px;">Default</div><div class="t" style="top:515.07px;font-size:9.6px;line-height:12px;left:400.00px;">31.</div><div class="t" style="top:515.07px;font-size:9.6px;line-height:12px;left:419.00px;">9</div><div class="sw" style="top:515px;background:#ffffff"></div><div class="t" style="top:515.07px;font-size:9.6px;line-height:12px;right:152.00px;">2822</div><div class="t" style="top:515.07px;font-size:9.6px;line-height:12px;right:126.00px;">9</div><div class="t" style="top:515.07px;font-size:9.6px;line-height:12px;left:499.50px;">White</div><div class="t" style="top:515.07px;font-size:9.6px;line-height:12px;left:558.00px;">Default</div><div class="t" style="top:528.41px;font-size:9.6px;line-height:12px;left:400.00px;">32.</div><div class="t" style="top:528.41px;font-size:9.6px;line-height:12px;left:419.00px;">10</div><div class="sw" style="top:528px;background:#000096"></div><div class="t" style="top:528.41px;font-size:9.6px;line-height:12px;right:152.00px;">225</div><div class="t" style="top:528.41px;font-size:9.6px;line-height:12px;right:126.00px;">10</div><div class="t" style="top:528.41px;font-size:9.6px;line-height:12px;left:499.50px;">Dark Blue</div><div class="t" style="top:528.41px;font-size:9.6px;line-height:12px;left:558.00px;">Default</div><div class="t" style="top:541.74px;font-size:9.6px;line-height:12px;left:400.00px;">33.</div><div class="t" style="top:541.74px;font-size:9.6px;line-height:12px;left:419.00px;">11</div><div class="sw" style="top:541px;background:#960000"></div><div class="t" style="top:541.74px;font-size:9.6px;line-height:12px;right:152.00px;">2822</div><div class="t" style="top:541.74px;font-size:9.6px;line-height:12px;right:126.00px;">11</div><div class="t" style="top:541.74px;font-size:9.6px;line-height:12px;left:499.50px;">Dark Red</div><div class="t" style="top:541.74px;font-size:9.6px;line-height:12px;left:558.00px;">Default</div><div class="t" style="top:555.07px;font-size:9.6px;line-height:12px;left:400.00px;">34.</div><div class="t" style="top:555.07px;font-size:9.6px;line-height:12px;left:419.00px;">12</div><div class="sw" style="top:555px;background:#ff9632"></div><div class="t" style="top:555.07px;font-size:9.6px;line-height:12px;right:152.00px;">225</div><div class="t" style="top:555.07px;font-size:9.6px;line-height:12px;right:126.00px;">12</div><div class="t" style="top:555.07px;font-size:9.6px;line-height:12px;left:499.50px;">Orange</div><div class="t" style="top:555.07px;font-size:9.6px;line-height:12px;left:558.00px;">Default</div><div class="t" style="top:568.41px;font-size:9.6px;line-height:12px;left:400.00px;">35.</div><div class="t" style="top:568.41px;font-size:9.6px;line-height:12px;left:419.00px;">13</div><div class="sw" style="top:568px;background:#9600c8"></div><div class="t" style="top:568.41px;font-size:9.6px;line-height:12px;right:152.00px;">2822</div><div class="t" style="top:568.41px;font-size:9.6px;line-height:12px;right:126.00px;">13</div><div class="t" style="top:568.41px;font-size:9.6px;line-height:12px;left:499.50px;">Purple</div><div class="t" style="top:568.41px;font-size:9.6px;line-height:12px;left:558.00px;">Default</div><div class="t" style="top:581.74px;font-size:9.6px;line-height:12px;left:400.00px;">36.</div><div class="t" style="top:581.74px;font-size:9.6px;line-height:12px;left:419.00px;">14</div><div class="sw" style="top:581px;background:#96642d"></div><div class="t" style="top:581.74px;font-size:9.6px;line-height:12px;right:152.00px;">225</div><div class="t" style="top:581.74px;font-size:9.6px;line-height:12px;right:126.00px;">14</div><div class="t" style="top:581.74px;font-size:9.6px;line-height:12px;left:499.50px;">Brown</div><div class="t" style="top:581.74px;font-size:9.6px;line-height:12px;left:558.00px;">Default</div><div class="t" style="top:595.07px;font-size:9.6px;line-height:12px;left:400.00px;">37.</div><div class="t" style="top:595.07px;font-size:9.6px;line-height:12px;left:419.00px;">15</div><div class="sw" style="top:595px;background:#ff82c3"></div><div class="t" style="top:595.07px;font-size:9.6px;line-height:12px;right:152.00px;">3135</div><div class="t" style="top:595.07px;font-size:9.6px;line-height:12px;right:126.00px;">15</div><div class="t" style="top:595.07px;font-size:9.6px;line-height:12px;left:499.50px;">Pink</div><div class="t" style="top:595.07px;font-size:9.6px;line-height:12px;left:558.00px;">Default</div><div class="t" style="top:608.41px;font-size:9.6px;line-height:12px;left:400.00px;">38.</div><div class="t" style="top:608.41px;font-size:9.6px;line-height:12px;left:419.00px;">16</div><div class="sw" style="top:608px;background:#ffcd82"></div><div class="t" style="top:608.41px;font-size:9.6px;line-height:12px;right:152.00px;">352</div><div class="t" style="top:608.41px;font-size:9.6px;line-height:12px;right:126.00px;">16</div><div class="t" style="top:608.41px;font-size:9.6px;line-height:12px;left:499.50px;">Sand</div><div class="t" style="top:608.41px;font-size:9.6px;line-height:12px;left:558.00px;">Default</div><div class="t" style="top:621.74px;font-size:9.6px;line-height:12px;left:400.00px;">39.</div><div class="t" style="top:621.74px;font-size:9.6px;line-height:12px;left:419.00px;">17</div><div class="sw" style="top:621px;background:#6effcd"></div><div class="t" style="top:621.74px;font-size:9.6px;line-height:12px;right:152.00px;">3480</div><div class="t" style="top:621.74px;font-size:9.6px;line-height:12px;right:126.00px;">17</div><div class="t" style="top:621.74px;font-size:9.6px;line-height:12px;left:499.50px;">Turquoise</div><div class="t" style="top:621.74px;font-size:9.6px;line-height:12px;left:558.00px;">Default</div><div class="t" style="top:635.07px;font-size:9.6px;line-height:12px;left:400.00px;">40.</div><div class="t" style="top:635.07px;font-size:9.6px;line-height:12px;left:419.00px;">18</div><div class="sw" style="top:635px;background:#646464"></div><div class="t" style="top:635.07px;font-size:9.6px;line-height:12px;right:152.00px;">499</div><div class="t" style="top:635.07px;font-size:9.6px;line-height:12px;right:126.00px;">18</div><div class="t" style="top:635.07px;font-size:9.6px;line-height:12px;left:499.50px;">Grey</div><div class="t" style="top:635.07px;font-size:9.6px;line-height:12px;left:558.00px;">Default</div><div class="t" style="top:648.41px;font-size:9.6px;line-height:12px;left:400.00px;">41.</div><div class="t" style="top:648.41px;font-size:9.6px;line-height:12px;left:419.00px;">19</div><div class="sw" style="top:648px;background:#969664"></div><div class="t" style="top:648.41px;font-size:9.6px;line-height:12px;right:152.00px;">353</div><div class="t" style="top:648.41px;font-size:9.6px;line-height:12px;right:126.00px;">19</div><div class="t" style="top:648.41px;font-size:9.6px;line-height:12px;left:499.50px;">Khaki</div><div class="t" style="top:648.41px;font-size:9.6px;line-height:12px;left:558.00px;">Default</div><div class="t" style="top:661.74px;font-size:9.6px;line-height:12px;left:400.00px;">42.</div><div class="t" style="top:661.74px;font-size:9.6px;line-height:12px;left:419.00px;">20</div><div class="sw" style="top:661px;background:#8282ff"></div><div class="t" style="top:661.74px;font-size:9.6px;line-height:12px;right:152.00px;">3382</div><div class="t" style="top:661.74px;font-size:9.6px;line-height:12px;right:126.00px;">20</div><div class="t" style="top:661.74px;font-size:9.6px;line-height:12px;left:499.50px;">Powder Blue</div><div class="t" style="top:661.74px;font-size:9.6px;line-height:12px;left:558.00px;">Default</div><div class="t" style="top:675.07px;font-size:9.6px;line-height:12px;left:400.00px;">43.</div><div class="t" style="top:675.07px;font-size:9.6px;line-height:12px;left:419.00px;">1</div><div class="sw" style="top:675px;background:#009100"></div><div class="t" style="top:675.07px;font-size:9.6px;line-height:12px;right:152.00px;">839</div><div class="t" style="top:675.07px;font-size:9.6px;line-height:12px;right:126.00px;">1</div><div class="t" style="top:675.07px;font-size:9.6px;line-height:12px;left:499.50px;">Dark Green</div><div class="t" style="top:675.07px;font-size:9.6px;line-height:12px;left:558.00px;">Default</div><div class="t" style="top:688.41px;font-size:9.6px;line-height:12px;left:400.00px;">44.</div><div class="t" style="top:688.41px;font-size:9.6px;line-height:12px;left:419.00px;">2</div><div class="sw" style="top:688px;background:#0000ff"></div><div class="t" style="top:688.41px;font-size:9.6px;line-height:12px;right:152.00px;">522</div><div class="t" style="top:688.41px;font-size:9.6px;line-height:12px;right:126.00px;">2</div><div class="t" style="top:688.41px;font-size:9.6px;line-height:12px;left:499.50px;">Blue</div><div class="t" style="top:688.41px;font-size:9.6px;line-height:12px;left:558.00px;">Default</div>
<div class="abs" style="left:470px;top:680px;width:115px;height:133px;background:rgba(255,255,255,0.64);border-left:1px solid #d4d4d4;border-top:1px solid #d9d9d9;"></div><svg class="abs" style="left:0;top:0" width="620" height="861" viewBox="0 0 620 861"><path d="M481.20 686.00h17.63v2.57h-17.63zM506.39 686.00h7.56v2.57h-7.56zM518.98 686.00h2.52v2.57h-2.52zM531.58 686.00h5.04v2.57h-5.04zM539.14 686.00h15.11v2.57h-15.11zM556.77 686.00h17.63v2.57h-17.63zM481.20 688.52h2.52v2.57h-2.52zM496.31 688.52h2.52v2.57h-2.52zM501.35 688.52h2.52v2.57h-2.52zM506.39 688.52h2.52v2.57h-2.52zM513.95 688.52h5.04v2.57h-5.04zM521.50 688.52h2.52v2.57h-2.52zM526.54 688.52h5.04v2.57h-5.04zM536.62 688.52h7.56v2.57h-7.56zM549.21 688.52h5.04v2.57h-5.04zM556.77 688.52h2.52v2.57h-2.52zM571.88 688.52h2.52v2.57h-2.52zM481.20 691.04h2.52v2.57h-2.52zM486.24 691.04h7.56v2.57h-7.56zM496.31 691.04h2.52v2.57h-2.52zM501.35 691.04h2.52v2.57h-2.52zM506.39 691.04h5.04v2.57h-5.04zM516.46 691.04h2.52v2.57h-2.52zM521.50 691.04h5.04v2.57h-5.04zM529.06 691.04h10.08v2.57h-10.08zM541.65 691.04h2.52v2.57h-2.52zM546.69 691.04h5.04v2.57h-5.04zM556.77 691.04h2.52v2.57h-2.52zM561.81 691.04h7.56v2.57h-7.56zM571.88 691.04h2.52v2.57h-2.52zM481.20 693.56h2.52v2.57h-2.52zM486.24 693.56h7.56v2.57h-7.56zM496.31 693.56h2.52v2.57h-2.52zM501.35 693.56h5.04v2.57h-5.04zM508.91 693.56h2.52v2.57h-2.52zM513.95 693.56h2.52v2.57h-2.52zM521.50 693.56h5.04v2.57h-5.04zM529.06 693.56h5.04v2.57h-5.04zM541.65 693.56h2.52v2.57h-2.52zM546.69 693.56h7.56v2.57h-7.56zM556.77 693.56h2.52v2.57h-2.52zM561.81 693.56h7.56v2.57h-7.56zM571.88 693.56h2.52v2.57h-2.52zM481.20 696.08h2.52v2.57h-2.52zM486.24 696.08h7.56v2.57h-7.56zM496.31 696.08h2.52v2.57h-2.52zM506.39 696.08h2.52v2.57h-2.52zM511.43 696.08h2.52v2.57h-2.52zM516.46 696.08h2.52v2.57h-2.52zM521.50 696.08h2.52v2.57h-2.52zM541.65 696.08h2.52v2.57h-2.52zM551.73 696.08h2.52v2.57h-2.52zM556.77 696.08h2.52v2.57h-2.52zM561.81 696.08h7.56v2.57h-7.56zM571.88 696.08h2.52v2.57h-2.52zM481.20 698.59h2.52v2.57h-2.52zM496.31 698.59h2.52v2.57h-2.52zM503.87 698.59h2.52v2.57h-2.52zM508.91 698.59h2.52v2.57h-2.52zM513.95 698.59h5.04v2.57h-5.04zM521.50 698.59h2.52v2.57h-2.52zM529.06 698.59h7.56v2.57h-7.56zM539.14 698.59h5.04v2.57h-5.04zM549.21 698.59h2.52v2.57h-2.52zM556.77 698.59h2.52v2.57h-2.52zM571.88 698.59h2.52v2.57h-2.52zM481.20 701.11h17.63v2.57h-17.63zM501.35 701.11h2.52v2.57h-2.52zM506.39 701.11h2.52v2.57h-2.52zM511.43 701.11h2.52v2.57h-2.52zM516.46 701.11h2.52v2.57h-2.52zM521.50 701.11h2.52v2.57h-2.52zM526.54 701.11h2.52v2.57h-2.52zM531.58 701.11h2.52v2.57h-2.52zM536.62 701.11h2.52v2.57h-2.52zM541.65 701.11h2.52v2.57h-2.52zM546.69 701.11h2.52v2.57h-2.52zM551.73 701.11h2.52v2.57h-2.52zM556.77 701.11h17.63v2.57h-17.63zM501.35 703.63h7.56v2.57h-7.56zM511.43 703.63h7.56v2.57h-7.56zM529.06 703.63h2.52v2.57h-2.52zM536.62 703.63h2.52v2.57h-2.52zM544.17 703.63h5.04v2.57h-5.04zM491.28 706.15h2.52v2.57h-2.52zM496.31 706.15h2.52v2.57h-2.52zM506.39 706.15h2.52v2.57h-2.52zM513.95 706.15h7.56v2.57h-7.56zM526.54 706.15h5.04v2.57h-5.04zM534.10 706.15h2.52v2.57h-2.52zM539.14 706.15h5.04v2.57h-5.04zM546.69 706.15h5.04v2.57h-5.04zM564.32 706.15h2.52v2.57h-2.52zM569.36 706.15h5.04v2.57h-5.04zM483.72 708.67h2.52v2.57h-2.52zM498.83 708.67h5.04v2.57h-5.04zM508.91 708.67h2.52v2.57h-2.52zM521.50 708.67h2.52v2.57h-2.52zM531.58 708.67h2.52v2.57h-2.52zM539.14 708.67h2.52v2.57h-2.52zM546.69 708.67h2.52v2.57h-2.52zM551.73 708.67h2.52v2.57h-2.52zM556.77 708.67h2.52v2.57h-2.52zM564.32 708.67h10.08v2.57h-10.08zM486.24 711.19h7.56v2.57h-7.56zM496.31 711.19h5.04v2.57h-5.04zM503.87 711.19h7.56v2.57h-7.56zM513.95 711.19h5.04v2.57h-5.04zM521.50 711.19h2.52v2.57h-2.52zM526.54 711.19h2.52v2.57h-2.52zM531.58 711.19h5.04v2.57h-5.04zM539.14 711.19h7.56v2.57h-7.56zM549.21 711.19h5.04v2.57h-5.04zM569.36 711.19h2.52v2.57h-2.52zM486.24 713.71h5.04v2.57h-5.04zM493.79 713.71h2.52v2.57h-2.52zM501.35 713.71h5.04v2.57h-5.04zM508.91 713.71h5.04v2.57h-5.04zM516.46 713.71h2.52v2.57h-2.52zM521.50 713.71h5.04v2.57h-5.04zM529.06 713.71h5.04v2.57h-5.04zM541.65 713.71h2.52v2.57h-2.52zM554.25 713.71h10.08v2.57h-10.08zM571.88 713.71h2.52v2.57h-2.52zM481.20 716.23h5.04v2.57h-5.04zM493.79 716.23h5.04v2.57h-5.04zM501.35 716.23h2.52v2.57h-2.52zM506.39 716.23h5.04v2.57h-5.04zM513.95 716.23h2.52v2.57h-2.52zM518.98 716.23h2.52v2.57h-2.52zM526.54 716.23h5.04v2.57h-5.04zM534.10 716.23h7.56v2.57h-7.56zM544.17 716.23h2.52v2.57h-2.52zM559.29 716.23h2.52v2.57h-2.52zM571.88 716.23h2.52v2.57h-2.52zM491.28 718.75h2.52v2.57h-2.52zM506.39 718.75h2.52v2.57h-2.52zM511.43 718.75h12.59v2.57h-12.59zM529.06 718.75h2.52v2.57h-2.52zM536.62 718.75h2.52v2.57h-2.52zM546.69 718.75h2.52v2.57h-2.52zM561.81 718.75h2.52v2.57h-2.52zM569.36 718.75h5.04v2.57h-5.04zM481.20 721.26h12.59v2.57h-12.59zM496.31 721.26h2.52v2.57h-2.52zM513.95 721.26h2.52v2.57h-2.52zM521.50 721.26h2.52v2.57h-2.52zM526.54 721.26h10.08v2.57h-10.08zM539.14 721.26h2.52v2.57h-2.52zM544.17 721.26h2.52v2.57h-2.52zM551.73 721.26h5.04v2.57h-5.04zM561.81 721.26h2.52v2.57h-2.52zM566.84 721.26h7.56v2.57h-7.56zM481.20 723.78h5.04v2.57h-5.04zM488.76 723.78h2.52v2.57h-2.52zM503.87 723.78h2.52v2.57h-2.52zM508.91 723.78h5.04v2.57h-5.04zM516.46 723.78h2.52v2.57h-2.52zM526.54 723.78h2.52v2.57h-2.52zM536.62 723.78h2.52v2.57h-2.52zM541.65 723.78h7.56v2.57h-7.56zM551.73 723.78h5.04v2.57h-5.04zM559.29 723.78h5.04v2.57h-5.04zM566.84 723.78h2.52v2.57h-2.52zM488.76 726.30h5.04v2.57h-5.04zM496.31 726.30h2.52v2.57h-2.52zM501.35 726.30h5.04v2.57h-5.04zM518.98 726.30h5.04v2.57h-5.04zM531.58 726.30h10.08v2.57h-10.08zM544.17 726.30h2.52v2.57h-2.52zM549.21 726.30h5.04v2.57h-5.04zM561.81 726.30h10.08v2.57h-10.08zM483.72 728.82h5.04v2.57h-5.04zM498.83 728.82h5.04v2.57h-5.04zM506.39 728.82h2.52v2.57h-2.52zM513.95 728.82h2.52v2.57h-2.52zM524.02 728.82h7.56v2.57h-7.56zM534.10 728.82h5.04v2.57h-5.04zM541.65 728.82h2.52v2.57h-2.52zM546.69 728.82h2.52v2.57h-2.52zM551.73 728.82h5.04v2.57h-5.04zM559.29 728.82h5.04v2.57h-5.04zM569.36 728.82h5.04v2.57h-5.04zM481.20 731.34h2.52v2.57h-2.52zM486.24 731.34h5.04v2.57h-5.04zM496.31 731.34h2.52v2.57h-2.52zM503.87 731.34h2.52v2.57h-2.52zM508.91 731.34h7.56v2.57h-7.56zM521.50 731.34h17.63v2.57h-17.63zM551.73 731.34h2.52v2.57h-2.52zM559.29 731.34h5.04v2.57h-5.04zM486.24 733.86h2.52v2.57h-2.52zM493.79 733.86h2.52v2.57h-2.52zM503.87 733.86h2.52v2.57h-2.52zM508.91 733.86h2.52v2.57h-2.52zM516.46 733.86h5.04v2.57h-5.04zM529.06 733.86h5.04v2.57h-5.04zM539.14 733.86h2.52v2.57h-2.52zM551.73 733.86h2.52v2.57h-2.52zM488.76 736.38h10.08v2.57h-10.08zM501.35 736.38h12.59v2.57h-12.59zM516.46 736.38h7.56v2.57h-7.56zM529.06 736.38h7.56v2.57h-7.56zM541.65 736.38h12.59v2.57h-12.59zM559.29 736.38h10.08v2.57h-10.08zM571.88 736.38h2.52v2.57h-2.52zM486.24 738.90h5.04v2.57h-5.04zM503.87 738.90h7.56v2.57h-7.56zM516.46 738.90h2.52v2.57h-2.52zM524.02 738.90h2.52v2.57h-2.52zM531.58 738.90h10.08v2.57h-10.08zM549.21 738.90h10.08v2.57h-10.08zM569.36 738.90h2.52v2.57h-2.52zM481.20 741.42h2.52v2.57h-2.52zM486.24 741.42h2.52v2.57h-2.52zM496.31 741.42h5.04v2.57h-5.04zM503.87 741.42h7.56v2.57h-7.56zM518.98 741.42h2.52v2.57h-2.52zM524.02 741.42h2.52v2.57h-2.52zM529.06 741.42h2.52v2.57h-2.52zM534.10 741.42h2.52v2.57h-2.52zM541.65 741.42h2.52v2.57h-2.52zM546.69 741.42h12.59v2.57h-12.59zM561.81 741.42h2.52v2.57h-2.52zM566.84 741.42h7.56v2.57h-7.56zM488.76 743.94h5.04v2.57h-5.04zM501.35 743.94h5.04v2.57h-5.04zM511.43 743.94h2.52v2.57h-2.52zM516.46 743.94h5.04v2.57h-5.04zM524.02 743.94h7.56v2.57h-7.56zM534.10 743.94h5.04v2.57h-5.04zM541.65 743.94h2.52v2.57h-2.52zM551.73 743.94h2.52v2.57h-2.52zM556.77 743.94h7.56v2.57h-7.56zM569.36 743.94h5.04v2.57h-5.04zM486.24 746.45h15.11v2.57h-15.11zM503.87 746.45h2.52v2.57h-2.52zM516.46 746.45h12.59v2.57h-12.59zM541.65 746.45h7.56v2.57h-7.56zM551.73 746.45h5.04v2.57h-5.04zM566.84 746.45h2.52v2.57h-2.52zM483.72 748.97h2.52v2.57h-2.52zM488.76 748.97h2.52v2.57h-2.52zM503.87 748.97h2.52v2.57h-2.52zM511.43 748.97h7.56v2.57h-7.56zM524.02 748.97h2.52v2.57h-2.52zM529.06 748.97h7.56v2.57h-7.56zM539.14 748.97h2.52v2.57h-2.52zM551.73 748.97h2.52v2.57h-2.52zM564.32 748.97h2.52v2.57h-2.52zM569.36 748.97h2.52v2.57h-2.52zM481.20 751.49h2.52v2.57h-2.52zM488.76 751.49h2.52v2.57h-2.52zM493.79 751.49h7.56v2.57h-7.56zM508.91 751.49h2.52v2.57h-2.52zM516.46 751.49h2.52v2.57h-2.52zM524.02 751.49h12.59v2.57h-12.59zM539.14 751.49h2.52v2.57h-2.52zM544.17 751.49h2.52v2.57h-2.52zM549.21 751.49h2.52v2.57h-2.52zM554.25 751.49h2.52v2.57h-2.52zM559.29 751.49h2.52v2.57h-2.52zM566.84 751.49h5.04v2.57h-5.04zM488.76 754.01h2.52v2.57h-2.52zM498.83 754.01h5.04v2.57h-5.04zM513.95 754.01h2.52v2.57h-2.52zM518.98 754.01h5.04v2.57h-5.04zM536.62 754.01h2.52v2.57h-2.52zM541.65 754.01h7.56v2.57h-7.56zM551.73 754.01h5.04v2.57h-5.04zM561.81 754.01h12.59v2.57h-12.59zM491.28 756.53h2.52v2.57h-2.52zM496.31 756.53h2.52v2.57h-2.52zM506.39 756.53h2.52v2.57h-2.52zM511.43 756.53h2.52v2.57h-2.52zM518.98 756.53h12.59v2.57h-12.59zM536.62 756.53h5.04v2.57h-5.04zM544.17 756.53h5.04v2.57h-5.04zM551.73 756.53h17.63v2.57h-17.63zM503.87 759.05h2.52v2.57h-2.52zM508.91 759.05h5.04v2.57h-5.04zM516.46 759.05h2.52v2.57h-2.52zM526.54 759.05h2.52v2.57h-2.52zM534.10 759.05h10.08v2.57h-10.08zM546.69 759.05h7.56v2.57h-7.56zM561.81 759.05h2.52v2.57h-2.52zM569.36 759.05h5.04v2.57h-5.04zM481.20 761.57h17.63v2.57h-17.63zM503.87 761.57h2.52v2.57h-2.52zM508.91 761.57h5.04v2.57h-5.04zM516.46 761.57h5.04v2.57h-5.04zM524.02 761.57h5.04v2.57h-5.04zM531.58 761.57h2.52v2.57h-2.52zM539.14 761.57h5.04v2.57h-5.04zM546.69 761.57h2.52v2.57h-2.52zM551.73 761.57h2.52v2.57h-2.52zM556.77 761.57h2.52v2.57h-2.52zM561.81 761.57h2.52v2.57h-2.52zM481.20 764.09h2.52v2.57h-2.52zM496.31 764.09h2.52v2.57h-2.52zM501.35 764.09h5.04v2.57h-5.04zM513.95 764.09h7.56v2.57h-7.56zM524.02 764.09h5.04v2.57h-5.04zM539.14 764.09h15.11v2.57h-15.11zM561.81 764.09h2.52v2.57h-2.52zM571.88 764.09h2.52v2.57h-2.52zM481.20 766.61h2.52v2.57h-2.52zM486.24 766.61h7.56v2.57h-7.56zM496.31 766.61h2.52v2.57h-2.52zM501.35 766.61h2.52v2.57h-2.52zM506.39 766.61h7.56v2.57h-7.56zM521.50 766.61h10.08v2.57h-10.08zM534.10 766.61h5.04v2.57h-5.04zM544.17 766.61h5.04v2.57h-5.04zM551.73 766.61h22.67v2.57h-22.67zM481.20 769.12h2.52v2.57h-2.52zM486.24 769.12h7.56v2.57h-7.56zM496.31 769.12h2.52v2.57h-2.52zM503.87 769.12h5.04v2.57h-5.04zM513.95 769.12h5.04v2.57h-5.04zM521.50 769.12h5.04v2.57h-5.04zM536.62 769.12h5.04v2.57h-5.04zM544.17 769.12h2.52v2.57h-2.52zM549.21 769.12h7.56v2.57h-7.56zM559.29 769.12h15.11v2.57h-15.11zM481.20 771.64h2.52v2.57h-2.52zM486.24 771.64h7.56v2.57h-7.56zM496.31 771.64h2.52v2.57h-2.52zM501.35 771.64h12.59v2.57h-12.59zM518.98 771.64h7.56v2.57h-7.56zM529.06 771.64h2.52v2.57h-2.52zM539.14 771.64h10.08v2.57h-10.08zM551.73 771.64h2.52v2.57h-2.52zM559.29 771.64h12.59v2.57h-12.59zM481.20 774.16h2.52v2.57h-2.52zM496.31 774.16h2.52v2.57h-2.52zM503.87 774.16h7.56v2.57h-7.56zM513.95 774.16h5.04v2.57h-5.04zM521.50 774.16h15.11v2.57h-15.11zM546.69 774.16h2.52v2.57h-2.52zM554.25 774.16h2.52v2.57h-2.52zM566.84 774.16h2.52v2.57h-2.52zM571.88 774.16h2.52v2.57h-2.52zM481.20 776.68h17.63v2.57h-17.63zM501.35 776.68h7.56v2.57h-7.56zM511.43 776.68h12.59v2.57h-12.59zM534.10 776.68h17.63v2.57h-17.63zM554.25 776.68h12.59v2.57h-12.59zM571.88 776.68h2.52v2.57h-2.52z" fill="#6f6f6f"/><rect x="514" y="719.5" width="27.5" height="27.5" fill="#fff"/><rect x="515.3" y="720.6" width="24.8" height="24.8" rx="2.5" fill="#f86a6a"/><rect x="528.2" y="722" width="10.6" height="22" fill="#fff"/><text x="522.2" y="731.2" text-anchor="middle" fill="#fff" font-family="'Liberation Sans','Noto Sans CJK SC',sans-serif" font-weight="bold" font-size="10.5">以</text><text x="522.2" y="742.2" text-anchor="middle" fill="#fff" font-family="'Liberation Sans','Noto Sans CJK SC',sans-serif" font-weight="bold" font-size="10.5">图</text><text x="533.5" y="731.2" text-anchor="middle" fill="#f55" font-family="'Liberation Sans','Noto Sans CJK SC',sans-serif" font-weight="bold" font-size="10.5">搜</text><text x="533.5" y="742.2" text-anchor="middle" fill="#f55" font-family="'Liberation Sans','Noto Sans CJK SC',sans-serif" font-weight="bold" font-size="10.5">版</text><text x="474.5" y="810.3" textLength="108.5" lengthAdjust="spacingAndGlyphs" font-family="'Liberation Sans',sans-serif" font-weight="bold" font-size="24" fill="#fdeced" stroke="#fdeced" stroke-width="3.4" stroke-linejoin="round">6xiu.com</text><text x="474.5" y="810.3" textLength="108.5" lengthAdjust="spacingAndGlyphs" font-family="'Liberation Sans',sans-serif" font-weight="bold" font-size="24" fill="#f6a3ab" stroke="#f6a3ab" stroke-width="0.9" stroke-linejoin="round">6xiu.com</text><path d="M500.5 792.2 Q540 780.5 584.5 798.2 Q541 785.5 502 793.8 Z" fill="#f6a3ab" stroke="#f6a3ab" stroke-width="0.8" stroke-linejoin="round"/><circle cx="501" cy="792.6" r="1.6" fill="#fbd6d9"/></svg>
</body></html>
